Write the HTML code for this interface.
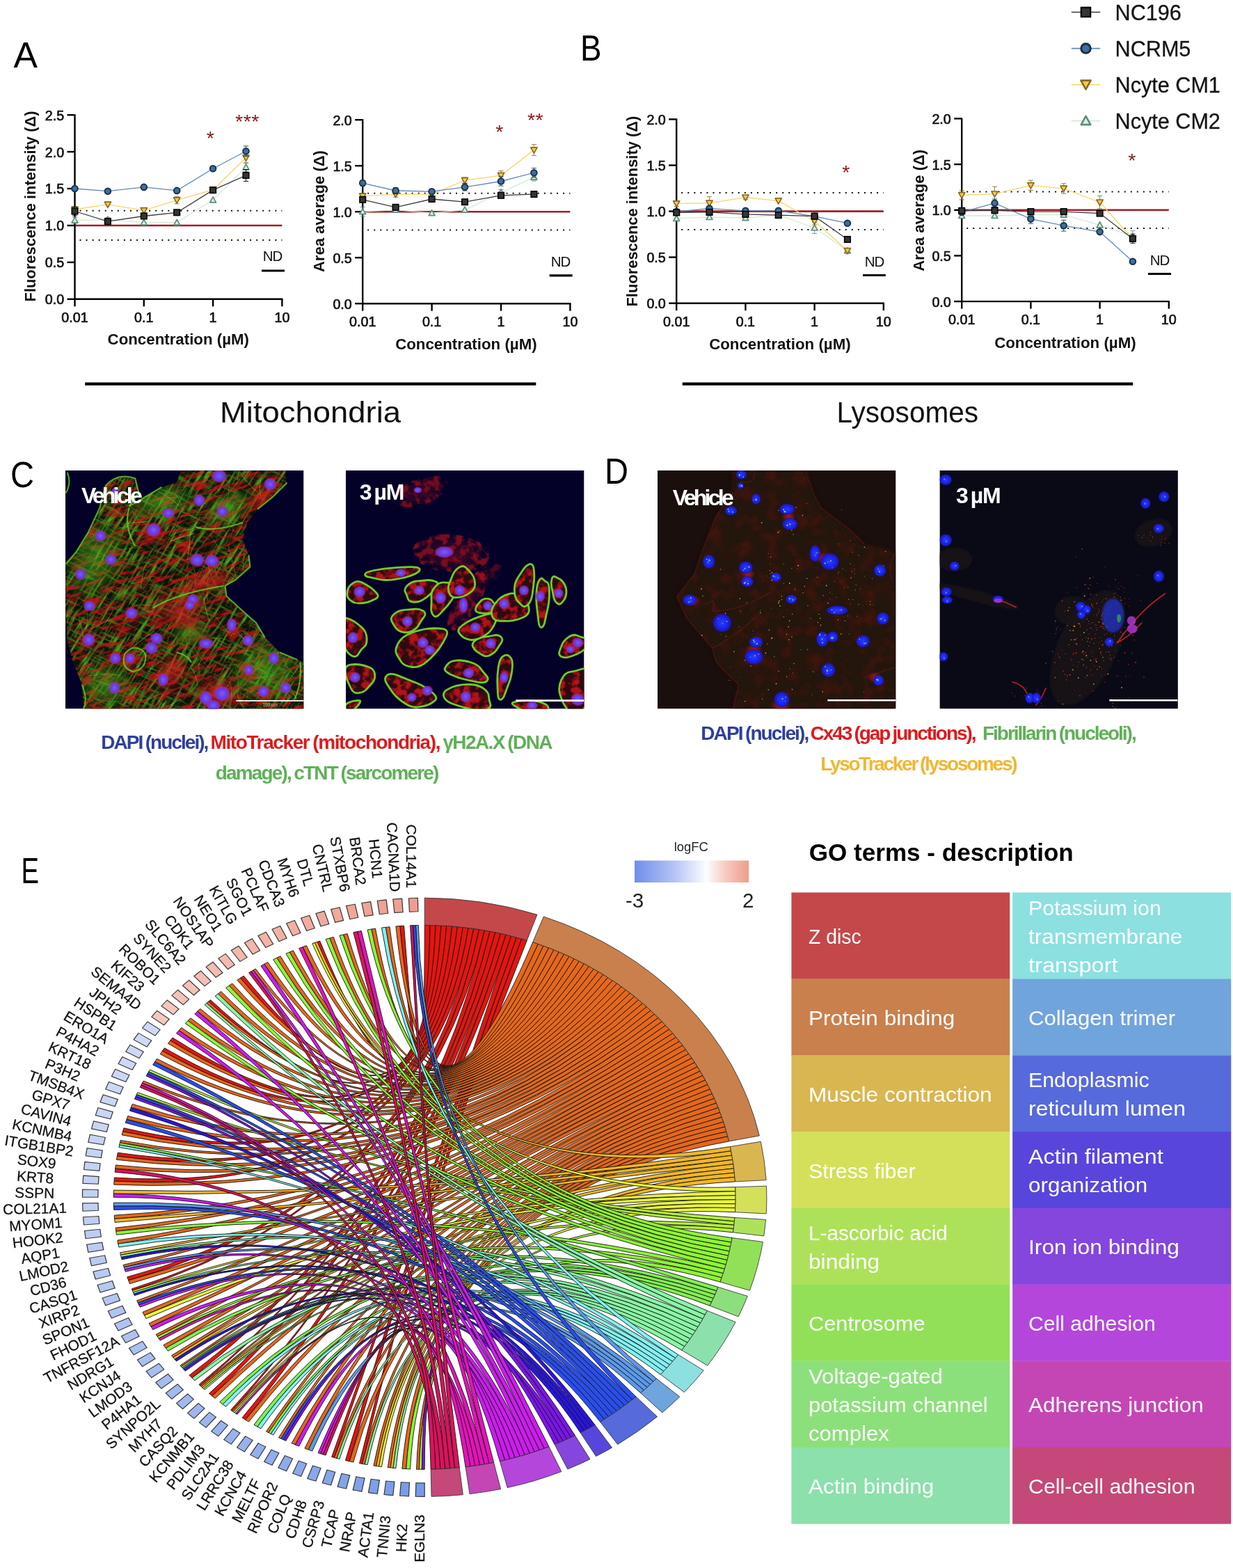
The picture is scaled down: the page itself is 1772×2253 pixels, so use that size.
<!DOCTYPE html>
<html lang="en"><head><meta charset="utf-8"><title>Figure</title>
<style>html,body{margin:0;padding:0;background:#fff}svg{display:block}text{white-space:pre}</style></head><body>
<svg width="1772" height="2253" viewBox="0 0 1772 2253" font-family="'Liberation Sans', sans-serif">
<rect width="1772" height="2253" fill="#fff"/>
<g>
<line x1="114.5" y1="302.8" x2="405.4" y2="302.8" stroke="#111" stroke-width="2" stroke-dasharray="2 7.06"/>
<line x1="114.5" y1="345.1" x2="405.4" y2="345.1" stroke="#111" stroke-width="2" stroke-dasharray="2 7.06"/>
<line x1="107.5" y1="324" x2="405.4" y2="324" stroke="#a31c22" stroke-width="2.6"/>
<path d="M107.5 164.2V429.8H406.4" fill="none" stroke="#000" stroke-width="2.4"/>
<line x1="96.5" y1="429.8" x2="107.5" y2="429.8" stroke="#000" stroke-width="2.4"/>
<text x="92.1" y="437.2" text-anchor="end" font-size="19.7" fill="#111" stroke="#111" stroke-width="0.65">0.0</text>
<line x1="96.5" y1="376.9" x2="107.5" y2="376.9" stroke="#000" stroke-width="2.4"/>
<text x="92.1" y="384.3" text-anchor="end" font-size="19.7" fill="#111" stroke="#111" stroke-width="0.65">0.5</text>
<line x1="96.5" y1="324" x2="107.5" y2="324" stroke="#000" stroke-width="2.4"/>
<text x="92.1" y="331.4" text-anchor="end" font-size="19.7" fill="#111" stroke="#111" stroke-width="0.65">1.0</text>
<line x1="96.5" y1="271" x2="107.5" y2="271" stroke="#000" stroke-width="2.4"/>
<text x="92.1" y="278.4" text-anchor="end" font-size="19.7" fill="#111" stroke="#111" stroke-width="0.65">1.5</text>
<line x1="96.5" y1="218.1" x2="107.5" y2="218.1" stroke="#000" stroke-width="2.4"/>
<text x="92.1" y="225.5" text-anchor="end" font-size="19.7" fill="#111" stroke="#111" stroke-width="0.65">2.0</text>
<line x1="96.5" y1="165.2" x2="107.5" y2="165.2" stroke="#000" stroke-width="2.4"/>
<text x="92.1" y="172.6" text-anchor="end" font-size="19.7" fill="#111" stroke="#111" stroke-width="0.65">2.5</text>
<line x1="107.5" y1="429.8" x2="107.5" y2="440.3" stroke="#000" stroke-width="2.4"/>
<text x="107.5" y="462.8" text-anchor="middle" font-size="19.7" fill="#111" stroke="#111" stroke-width="0.65">0.01</text>
<line x1="206.8" y1="429.8" x2="206.8" y2="440.3" stroke="#000" stroke-width="2.4"/>
<text x="206.8" y="462.8" text-anchor="middle" font-size="19.7" fill="#111" stroke="#111" stroke-width="0.65">0.1</text>
<line x1="306.1" y1="429.8" x2="306.1" y2="440.3" stroke="#000" stroke-width="2.4"/>
<text x="306.1" y="462.8" text-anchor="middle" font-size="19.7" fill="#111" stroke="#111" stroke-width="0.65">1</text>
<line x1="405.4" y1="429.8" x2="405.4" y2="440.3" stroke="#000" stroke-width="2.4"/>
<text x="405.4" y="462.8" text-anchor="middle" font-size="19.7" fill="#111" stroke="#111" stroke-width="0.65">10</text>
<polyline points="107.5,316.6 154.9,315.5 206.8,319.7 254.2,319.7 306.1,287.3 353.5,240.3" fill="none" stroke="#d3e9d6" stroke-width="1.3"/>
<path d="M107.5 312.3V320.8M103.9 312.3H111.1M103.9 320.8H111.1" stroke="#5f8d7c" stroke-width="1" fill="none" opacity="0.85"/>
<path d="M154.9 312.3V318.7M151.3 312.3H158.5M151.3 318.7H158.5" stroke="#5f8d7c" stroke-width="1" fill="none" opacity="0.85"/>
<path d="M353.5 234V246.7M349.9 234H357.1M349.9 246.7H357.1" stroke="#5f8d7c" stroke-width="1" fill="none" opacity="0.85"/>
<path d="M103.1 320.1L111.9 320.1L107.5 312.2Z" fill="#dcefe3" stroke="#5f8d7c" stroke-width="1.7" stroke-linejoin="round"/>
<path d="M150.5 319L159.3 319L154.9 311.1Z" fill="#dcefe3" stroke="#5f8d7c" stroke-width="1.7" stroke-linejoin="round"/>
<path d="M202.4 323.2L211.2 323.2L206.8 315.3Z" fill="#dcefe3" stroke="#5f8d7c" stroke-width="1.7" stroke-linejoin="round"/>
<path d="M249.8 323.2L258.6 323.2L254.2 315.3Z" fill="#dcefe3" stroke="#5f8d7c" stroke-width="1.7" stroke-linejoin="round"/>
<path d="M301.7 290.9L310.5 290.9L306.1 282.9Z" fill="#dcefe3" stroke="#5f8d7c" stroke-width="1.7" stroke-linejoin="round"/>
<path d="M349.1 243.9L357.9 243.9L353.5 235.9Z" fill="#dcefe3" stroke="#5f8d7c" stroke-width="1.7" stroke-linejoin="round"/>
<polyline points="107.5,301 154.9,293.8 206.8,302.3 254.2,287.6 306.1,272.6 353.5,226.8" fill="none" stroke="#f6d566" stroke-width="1.3"/>
<path d="M206.8 299.1V305.4M203.2 299.1H210.4M203.2 305.4H210.4" stroke="#8a6a22" stroke-width="1" fill="none" opacity="0.85"/>
<path d="M254.2 282.3V292.8M250.6 282.3H257.8M250.6 292.8H257.8" stroke="#8a6a22" stroke-width="1" fill="none" opacity="0.85"/>
<path d="M353.5 219.4V234.2M349.9 219.4H357.1M349.9 234.2H357.1" stroke="#8a6a22" stroke-width="1" fill="none" opacity="0.85"/>
<path d="M102.9 297.3L112.1 297.3L107.5 305.6Z" fill="#f3cc4f" stroke="#8a6a22" stroke-width="1.7" stroke-linejoin="round"/>
<path d="M150.3 290.1L159.5 290.1L154.9 298.4Z" fill="#f3cc4f" stroke="#8a6a22" stroke-width="1.7" stroke-linejoin="round"/>
<path d="M202.2 298.6L211.4 298.6L206.8 306.9Z" fill="#f3cc4f" stroke="#8a6a22" stroke-width="1.7" stroke-linejoin="round"/>
<path d="M249.6 283.9L258.8 283.9L254.2 292.2Z" fill="#f3cc4f" stroke="#8a6a22" stroke-width="1.7" stroke-linejoin="round"/>
<path d="M301.5 268.9L310.7 268.9L306.1 277.2Z" fill="#f3cc4f" stroke="#8a6a22" stroke-width="1.7" stroke-linejoin="round"/>
<path d="M348.9 223.1L358.1 223.1L353.5 231.4Z" fill="#f3cc4f" stroke="#8a6a22" stroke-width="1.7" stroke-linejoin="round"/>
<polyline points="107.5,271 154.9,274.7 206.8,268.9 254.2,273.9 306.1,242.3 353.5,217.3" fill="none" stroke="#5f88b8" stroke-width="1.3"/>
<path d="M353.5 209.9V224.7M349.9 209.9H357.1M349.9 224.7H357.1" stroke="#1c3247" stroke-width="1" fill="none" opacity="0.85"/>
<circle cx="107.5" cy="271" r="4.3" fill="#3f6ea3" stroke="#1c3247" stroke-width="2"/>
<circle cx="154.9" cy="274.7" r="4.3" fill="#3f6ea3" stroke="#1c3247" stroke-width="2"/>
<circle cx="206.8" cy="268.9" r="4.3" fill="#3f6ea3" stroke="#1c3247" stroke-width="2"/>
<circle cx="254.2" cy="273.9" r="4.3" fill="#3f6ea3" stroke="#1c3247" stroke-width="2"/>
<circle cx="306.1" cy="242.3" r="4.3" fill="#3f6ea3" stroke="#1c3247" stroke-width="2"/>
<circle cx="353.5" cy="217.3" r="4.3" fill="#3f6ea3" stroke="#1c3247" stroke-width="2"/>
<polyline points="107.5,303.5 154.9,318.2 206.8,310.5 254.2,305.3 306.1,273.2 353.5,252" fill="none" stroke="#3a3a3a" stroke-width="1.3"/>
<path d="M107.5 297.2V309.9M103.9 297.2H111.1M103.9 309.9H111.1" stroke="#000" stroke-width="1" fill="none" opacity="0.85"/>
<path d="M353.5 243.5V260.5M349.9 243.5H357.1M349.9 260.5H357.1" stroke="#000" stroke-width="1" fill="none" opacity="0.85"/>
<rect x="103.2" y="299.2" width="8.6" height="8.6" fill="#353535" stroke="#000" stroke-width="1.5"/>
<rect x="150.6" y="313.9" width="8.6" height="8.6" fill="#353535" stroke="#000" stroke-width="1.5"/>
<rect x="202.5" y="306.2" width="8.6" height="8.6" fill="#353535" stroke="#000" stroke-width="1.5"/>
<rect x="249.9" y="301" width="8.6" height="8.6" fill="#353535" stroke="#000" stroke-width="1.5"/>
<rect x="301.8" y="268.9" width="8.6" height="8.6" fill="#353535" stroke="#000" stroke-width="1.5"/>
<rect x="349.2" y="247.7" width="8.6" height="8.6" fill="#353535" stroke="#000" stroke-width="1.5"/>
<text x="256.3" y="494.5" text-anchor="middle" font-size="22" font-weight="bold" fill="#111" textLength="203.5" lengthAdjust="spacingAndGlyphs">Concentration (µM)</text>
<text transform="translate(50.6 296.5) rotate(-90)" text-anchor="middle" font-size="22" font-weight="bold" fill="#111" textLength="274" lengthAdjust="spacingAndGlyphs">Fluorescence intensity (Δ)</text>
<text x="391.6" y="375.3" text-anchor="middle" font-size="20.5" fill="#111" letter-spacing="-1">ND</text>
<line x1="376" y1="389" x2="409" y2="389" stroke="#000" stroke-width="3.2"/>
<text x="355.5" y="183.6" text-anchor="middle" font-size="28.5" fill="#8c1a1c" letter-spacing="0.6">***</text>
<text x="302.7" y="208" text-anchor="middle" font-size="28.5" fill="#8c1a1c" letter-spacing="0.6">*</text>
</g>
<g>
<line x1="528.2" y1="277.8" x2="819.4" y2="277.8" stroke="#111" stroke-width="2" stroke-dasharray="2 7.06"/>
<line x1="528.2" y1="330.6" x2="819.4" y2="330.6" stroke="#111" stroke-width="2" stroke-dasharray="2 7.06"/>
<line x1="521.2" y1="304.2" x2="819.4" y2="304.2" stroke="#a31c22" stroke-width="2.6"/>
<path d="M521.2 171.2V436.2H820.4" fill="none" stroke="#000" stroke-width="2.4"/>
<line x1="510.2" y1="436.2" x2="521.2" y2="436.2" stroke="#000" stroke-width="2.4"/>
<text x="505.8" y="443.6" text-anchor="end" font-size="19.7" fill="#111" stroke="#111" stroke-width="0.65">0.0</text>
<line x1="510.2" y1="370.2" x2="521.2" y2="370.2" stroke="#000" stroke-width="2.4"/>
<text x="505.8" y="377.6" text-anchor="end" font-size="19.7" fill="#111" stroke="#111" stroke-width="0.65">0.5</text>
<line x1="510.2" y1="304.2" x2="521.2" y2="304.2" stroke="#000" stroke-width="2.4"/>
<text x="505.8" y="311.6" text-anchor="end" font-size="19.7" fill="#111" stroke="#111" stroke-width="0.65">1.0</text>
<line x1="510.2" y1="238.2" x2="521.2" y2="238.2" stroke="#000" stroke-width="2.4"/>
<text x="505.8" y="245.6" text-anchor="end" font-size="19.7" fill="#111" stroke="#111" stroke-width="0.65">1.5</text>
<line x1="510.2" y1="172.2" x2="521.2" y2="172.2" stroke="#000" stroke-width="2.4"/>
<text x="505.8" y="179.6" text-anchor="end" font-size="19.7" fill="#111" stroke="#111" stroke-width="0.65">2.0</text>
<line x1="521.2" y1="436.2" x2="521.2" y2="446.7" stroke="#000" stroke-width="2.4"/>
<text x="521.2" y="469.2" text-anchor="middle" font-size="19.7" fill="#111" stroke="#111" stroke-width="0.65">0.01</text>
<line x1="620.6" y1="436.2" x2="620.6" y2="446.7" stroke="#000" stroke-width="2.4"/>
<text x="620.6" y="469.2" text-anchor="middle" font-size="19.7" fill="#111" stroke="#111" stroke-width="0.65">0.1</text>
<line x1="720" y1="436.2" x2="720" y2="446.7" stroke="#000" stroke-width="2.4"/>
<text x="720" y="469.2" text-anchor="middle" font-size="19.7" fill="#111" stroke="#111" stroke-width="0.65">1</text>
<line x1="819.4" y1="436.2" x2="819.4" y2="446.7" stroke="#000" stroke-width="2.4"/>
<text x="819.4" y="469.2" text-anchor="middle" font-size="19.7" fill="#111" stroke="#111" stroke-width="0.65">10</text>
<polyline points="521.2,304.2 568.6,301.6 620.6,306.2 668,301.6 720,276.5 767.4,254.7" fill="none" stroke="#d3e9d6" stroke-width="1.3"/>
<path d="M521.2 297.6V310.8M517.6 297.6H524.8M517.6 310.8H524.8" stroke="#5f8d7c" stroke-width="1" fill="none" opacity="0.85"/>
<path d="M720 272.5V280.4M716.4 272.5H723.6M716.4 280.4H723.6" stroke="#5f8d7c" stroke-width="1" fill="none" opacity="0.85"/>
<path d="M767.4 249.4V260M763.8 249.4H771M763.8 260H771" stroke="#5f8d7c" stroke-width="1" fill="none" opacity="0.85"/>
<path d="M516.8 307.7L525.6 307.7L521.2 299.8Z" fill="#dcefe3" stroke="#5f8d7c" stroke-width="1.7" stroke-linejoin="round"/>
<path d="M564.2 305.1L573 305.1L568.6 297.2Z" fill="#dcefe3" stroke="#5f8d7c" stroke-width="1.7" stroke-linejoin="round"/>
<path d="M616.2 309.7L625 309.7L620.6 301.8Z" fill="#dcefe3" stroke="#5f8d7c" stroke-width="1.7" stroke-linejoin="round"/>
<path d="M663.6 305.1L672.4 305.1L668 297.2Z" fill="#dcefe3" stroke="#5f8d7c" stroke-width="1.7" stroke-linejoin="round"/>
<path d="M715.6 280L724.4 280L720 272.1Z" fill="#dcefe3" stroke="#5f8d7c" stroke-width="1.7" stroke-linejoin="round"/>
<path d="M763 258.2L771.8 258.2L767.4 250.3Z" fill="#dcefe3" stroke="#5f8d7c" stroke-width="1.7" stroke-linejoin="round"/>
<polyline points="521.2,281.8 568.6,279.1 620.6,279.1 668,259.1 720,252.1 767.4,215.5" fill="none" stroke="#f6d566" stroke-width="1.3"/>
<path d="M521.2 277.8V285.7M517.6 277.8H524.8M517.6 285.7H524.8" stroke="#8a6a22" stroke-width="1" fill="none" opacity="0.85"/>
<path d="M568.6 275.2V283.1M565 275.2H572.2M565 283.1H572.2" stroke="#8a6a22" stroke-width="1" fill="none" opacity="0.85"/>
<path d="M668 255.1V263M664.4 255.1H671.6M664.4 263H671.6" stroke="#8a6a22" stroke-width="1" fill="none" opacity="0.85"/>
<path d="M720 245.5V258.7M716.4 245.5H723.6M716.4 258.7H723.6" stroke="#8a6a22" stroke-width="1" fill="none" opacity="0.85"/>
<path d="M767.4 207.6V223.4M763.8 207.6H771M763.8 223.4H771" stroke="#8a6a22" stroke-width="1" fill="none" opacity="0.85"/>
<path d="M516.6 278.1L525.8 278.1L521.2 286.4Z" fill="#f3cc4f" stroke="#8a6a22" stroke-width="1.7" stroke-linejoin="round"/>
<path d="M564 275.4L573.2 275.4L568.6 283.7Z" fill="#f3cc4f" stroke="#8a6a22" stroke-width="1.7" stroke-linejoin="round"/>
<path d="M616 275.4L625.2 275.4L620.6 283.7Z" fill="#f3cc4f" stroke="#8a6a22" stroke-width="1.7" stroke-linejoin="round"/>
<path d="M663.4 255.4L672.6 255.4L668 263.7Z" fill="#f3cc4f" stroke="#8a6a22" stroke-width="1.7" stroke-linejoin="round"/>
<path d="M715.4 248.4L724.6 248.4L720 256.7Z" fill="#f3cc4f" stroke="#8a6a22" stroke-width="1.7" stroke-linejoin="round"/>
<path d="M762.8 211.8L772 211.8L767.4 220.1Z" fill="#f3cc4f" stroke="#8a6a22" stroke-width="1.7" stroke-linejoin="round"/>
<polyline points="521.2,263.1 568.6,274 620.6,275.2 668,268.8 720,260.5 767.4,248.2" fill="none" stroke="#5f88b8" stroke-width="1.3"/>
<path d="M521.2 259.2V267.1M517.6 259.2H524.8M517.6 267.1H524.8" stroke="#1c3247" stroke-width="1" fill="none" opacity="0.85"/>
<path d="M568.6 269.4V278.6M565 269.4H572.2M565 278.6H572.2" stroke="#1c3247" stroke-width="1" fill="none" opacity="0.85"/>
<path d="M620.6 272.5V277.8M617 272.5H624.2M617 277.8H624.2" stroke="#1c3247" stroke-width="1" fill="none" opacity="0.85"/>
<path d="M668 263.5V274.1M664.4 263.5H671.6M664.4 274.1H671.6" stroke="#1c3247" stroke-width="1" fill="none" opacity="0.85"/>
<path d="M720 253.9V267.1M716.4 253.9H723.6M716.4 267.1H723.6" stroke="#1c3247" stroke-width="1" fill="none" opacity="0.85"/>
<path d="M767.4 241.6V254.8M763.8 241.6H771M763.8 254.8H771" stroke="#1c3247" stroke-width="1" fill="none" opacity="0.85"/>
<circle cx="521.2" cy="263.1" r="4.3" fill="#3f6ea3" stroke="#1c3247" stroke-width="2"/>
<circle cx="568.6" cy="274" r="4.3" fill="#3f6ea3" stroke="#1c3247" stroke-width="2"/>
<circle cx="620.6" cy="275.2" r="4.3" fill="#3f6ea3" stroke="#1c3247" stroke-width="2"/>
<circle cx="668" cy="268.8" r="4.3" fill="#3f6ea3" stroke="#1c3247" stroke-width="2"/>
<circle cx="720" cy="260.5" r="4.3" fill="#3f6ea3" stroke="#1c3247" stroke-width="2"/>
<circle cx="767.4" cy="248.2" r="4.3" fill="#3f6ea3" stroke="#1c3247" stroke-width="2"/>
<polyline points="521.2,286.8 568.6,297.9 620.6,286 668,290.2 720,280.8 767.4,279.1" fill="none" stroke="#3a3a3a" stroke-width="1.3"/>
<rect x="516.9" y="282.5" width="8.6" height="8.6" fill="#353535" stroke="#000" stroke-width="1.5"/>
<rect x="564.3" y="293.6" width="8.6" height="8.6" fill="#353535" stroke="#000" stroke-width="1.5"/>
<rect x="616.3" y="281.7" width="8.6" height="8.6" fill="#353535" stroke="#000" stroke-width="1.5"/>
<rect x="663.7" y="285.9" width="8.6" height="8.6" fill="#353535" stroke="#000" stroke-width="1.5"/>
<rect x="715.7" y="276.5" width="8.6" height="8.6" fill="#353535" stroke="#000" stroke-width="1.5"/>
<rect x="763.1" y="274.8" width="8.6" height="8.6" fill="#353535" stroke="#000" stroke-width="1.5"/>
<text x="669.9" y="502" text-anchor="middle" font-size="22" font-weight="bold" fill="#111" textLength="203.5" lengthAdjust="spacingAndGlyphs">Concentration (µM)</text>
<text transform="translate(466 303.6) rotate(-90)" text-anchor="middle" font-size="22" font-weight="bold" fill="#111" textLength="175" lengthAdjust="spacingAndGlyphs">Area average (Δ)</text>
<text x="805.6" y="383" text-anchor="middle" font-size="20.5" fill="#111" letter-spacing="-1">ND</text>
<line x1="789.7" y1="395.8" x2="822.6" y2="395.8" stroke="#000" stroke-width="3.2"/>
<text x="769.6" y="181.5" text-anchor="middle" font-size="28.5" fill="#8c1a1c" letter-spacing="0.6">**</text>
<text x="718" y="199" text-anchor="middle" font-size="28.5" fill="#8c1a1c" letter-spacing="0.6">*</text>
</g>
<g>
<line x1="979.2" y1="277.1" x2="1269.8" y2="277.1" stroke="#111" stroke-width="2" stroke-dasharray="2 7.06"/>
<line x1="979.2" y1="330" x2="1269.8" y2="330" stroke="#111" stroke-width="2" stroke-dasharray="2 7.06"/>
<line x1="972.2" y1="303.6" x2="1269.8" y2="303.6" stroke="#a31c22" stroke-width="2.6"/>
<path d="M972.2 170.4V435.7H1270.8" fill="none" stroke="#000" stroke-width="2.4"/>
<line x1="961.2" y1="435.7" x2="972.2" y2="435.7" stroke="#000" stroke-width="2.4"/>
<text x="956.8" y="443.1" text-anchor="end" font-size="19.7" fill="#111" stroke="#111" stroke-width="0.65">0.0</text>
<line x1="961.2" y1="369.6" x2="972.2" y2="369.6" stroke="#000" stroke-width="2.4"/>
<text x="956.8" y="377" text-anchor="end" font-size="19.7" fill="#111" stroke="#111" stroke-width="0.65">0.5</text>
<line x1="961.2" y1="303.6" x2="972.2" y2="303.6" stroke="#000" stroke-width="2.4"/>
<text x="956.8" y="310.9" text-anchor="end" font-size="19.7" fill="#111" stroke="#111" stroke-width="0.65">1.0</text>
<line x1="961.2" y1="237.5" x2="972.2" y2="237.5" stroke="#000" stroke-width="2.4"/>
<text x="956.8" y="244.9" text-anchor="end" font-size="19.7" fill="#111" stroke="#111" stroke-width="0.65">1.5</text>
<line x1="961.2" y1="171.4" x2="972.2" y2="171.4" stroke="#000" stroke-width="2.4"/>
<text x="956.8" y="178.8" text-anchor="end" font-size="19.7" fill="#111" stroke="#111" stroke-width="0.65">2.0</text>
<line x1="972.2" y1="435.7" x2="972.2" y2="446.2" stroke="#000" stroke-width="2.4"/>
<text x="972.2" y="468.7" text-anchor="middle" font-size="19.7" fill="#111" stroke="#111" stroke-width="0.65">0.01</text>
<line x1="1071.4" y1="435.7" x2="1071.4" y2="446.2" stroke="#000" stroke-width="2.4"/>
<text x="1071.4" y="468.7" text-anchor="middle" font-size="19.7" fill="#111" stroke="#111" stroke-width="0.65">0.1</text>
<line x1="1170.6" y1="435.7" x2="1170.6" y2="446.2" stroke="#000" stroke-width="2.4"/>
<text x="1170.6" y="468.7" text-anchor="middle" font-size="19.7" fill="#111" stroke="#111" stroke-width="0.65">1</text>
<line x1="1269.8" y1="435.7" x2="1269.8" y2="446.2" stroke="#000" stroke-width="2.4"/>
<text x="1269.8" y="468.7" text-anchor="middle" font-size="19.7" fill="#111" stroke="#111" stroke-width="0.65">10</text>
<polyline points="972.2,313.9 1019.5,312 1071.4,313.1 1118.7,308.8 1170.6,327.5 1217.9,360.2" fill="none" stroke="#d3e9d6" stroke-width="1.3"/>
<path d="M1170.6 319.5V335.4M1167 319.5H1174.2M1167 335.4H1174.2" stroke="#5f8d7c" stroke-width="1" fill="none" opacity="0.85"/>
<path d="M967.8 317.4L976.6 317.4L972.2 309.5Z" fill="#dcefe3" stroke="#5f8d7c" stroke-width="1.7" stroke-linejoin="round"/>
<path d="M1015.1 315.5L1023.9 315.5L1019.5 307.6Z" fill="#dcefe3" stroke="#5f8d7c" stroke-width="1.7" stroke-linejoin="round"/>
<path d="M1067 316.6L1075.8 316.6L1071.4 308.7Z" fill="#dcefe3" stroke="#5f8d7c" stroke-width="1.7" stroke-linejoin="round"/>
<path d="M1114.3 312.4L1123.1 312.4L1118.7 304.4Z" fill="#dcefe3" stroke="#5f8d7c" stroke-width="1.7" stroke-linejoin="round"/>
<path d="M1166.2 331L1175 331L1170.6 323.1Z" fill="#dcefe3" stroke="#5f8d7c" stroke-width="1.7" stroke-linejoin="round"/>
<path d="M1213.5 363.8L1222.3 363.8L1217.9 355.8Z" fill="#dcefe3" stroke="#5f8d7c" stroke-width="1.7" stroke-linejoin="round"/>
<polyline points="972.2,292.4 1019.5,291.9 1071.4,283.7 1118.7,288.6 1170.6,317.7 1217.9,360.2" fill="none" stroke="#f6d566" stroke-width="1.3"/>
<path d="M972.2 288.5V296.4M968.6 288.5H975.8M968.6 296.4H975.8" stroke="#8a6a22" stroke-width="1" fill="none" opacity="0.85"/>
<path d="M1019.5 282.7V301.2M1015.9 282.7H1023.1M1015.9 301.2H1023.1" stroke="#8a6a22" stroke-width="1" fill="none" opacity="0.85"/>
<path d="M1071.4 281.1V286.4M1067.8 281.1H1075M1067.8 286.4H1075" stroke="#8a6a22" stroke-width="1" fill="none" opacity="0.85"/>
<path d="M1170.6 312.4V323M1167 312.4H1174.2M1167 323H1174.2" stroke="#8a6a22" stroke-width="1" fill="none" opacity="0.85"/>
<path d="M967.6 288.8L976.8 288.8L972.2 297Z" fill="#f3cc4f" stroke="#8a6a22" stroke-width="1.7" stroke-linejoin="round"/>
<path d="M1014.9 288.2L1024.1 288.2L1019.5 296.5Z" fill="#f3cc4f" stroke="#8a6a22" stroke-width="1.7" stroke-linejoin="round"/>
<path d="M1066.8 280L1076 280L1071.4 288.3Z" fill="#f3cc4f" stroke="#8a6a22" stroke-width="1.7" stroke-linejoin="round"/>
<path d="M1114.1 284.9L1123.3 284.9L1118.7 293.2Z" fill="#f3cc4f" stroke="#8a6a22" stroke-width="1.7" stroke-linejoin="round"/>
<path d="M1166 314L1175.2 314L1170.6 322.3Z" fill="#f3cc4f" stroke="#8a6a22" stroke-width="1.7" stroke-linejoin="round"/>
<path d="M1213.3 356.6L1222.5 356.6L1217.9 364.8Z" fill="#f3cc4f" stroke="#8a6a22" stroke-width="1.7" stroke-linejoin="round"/>
<polyline points="972.2,304.1 1019.5,299.6 1071.4,302.8 1118.7,302.8 1170.6,310.8 1217.9,320.7" fill="none" stroke="#5f88b8" stroke-width="1.3"/>
<circle cx="972.2" cy="304.1" r="4.3" fill="#3f6ea3" stroke="#1c3247" stroke-width="2"/>
<circle cx="1019.5" cy="299.6" r="4.3" fill="#3f6ea3" stroke="#1c3247" stroke-width="2"/>
<circle cx="1071.4" cy="302.8" r="4.3" fill="#3f6ea3" stroke="#1c3247" stroke-width="2"/>
<circle cx="1118.7" cy="302.8" r="4.3" fill="#3f6ea3" stroke="#1c3247" stroke-width="2"/>
<circle cx="1170.6" cy="310.8" r="4.3" fill="#3f6ea3" stroke="#1c3247" stroke-width="2"/>
<circle cx="1217.9" cy="320.7" r="4.3" fill="#3f6ea3" stroke="#1c3247" stroke-width="2"/>
<polyline points="972.2,305.4 1019.5,304.9 1071.4,307.9 1118.7,309.2 1170.6,310.6 1217.9,344" fill="none" stroke="#3a3a3a" stroke-width="1.3"/>
<rect x="967.9" y="301.1" width="8.6" height="8.6" fill="#353535" stroke="#000" stroke-width="1.5"/>
<rect x="1015.2" y="300.6" width="8.6" height="8.6" fill="#353535" stroke="#000" stroke-width="1.5"/>
<rect x="1067.1" y="303.6" width="8.6" height="8.6" fill="#353535" stroke="#000" stroke-width="1.5"/>
<rect x="1114.4" y="304.9" width="8.6" height="8.6" fill="#353535" stroke="#000" stroke-width="1.5"/>
<rect x="1166.3" y="306.3" width="8.6" height="8.6" fill="#353535" stroke="#000" stroke-width="1.5"/>
<rect x="1213.6" y="339.7" width="8.6" height="8.6" fill="#353535" stroke="#000" stroke-width="1.5"/>
<text x="1120.9" y="502" text-anchor="middle" font-size="22" font-weight="bold" fill="#111" textLength="203.5" lengthAdjust="spacingAndGlyphs">Concentration (µM)</text>
<text transform="translate(916 303.6) rotate(-90)" text-anchor="middle" font-size="22" font-weight="bold" fill="#111" textLength="274" lengthAdjust="spacingAndGlyphs">Fluorescence intensity (Δ)</text>
<text x="1256.6" y="383" text-anchor="middle" font-size="20.5" fill="#111" letter-spacing="-1">ND</text>
<line x1="1240" y1="395.5" x2="1272.8" y2="395.5" stroke="#000" stroke-width="3.2"/>
<text x="1216.2" y="257" text-anchor="middle" font-size="28.5" fill="#8c1a1c" letter-spacing="0.6">*</text>
</g>
<g>
<line x1="1389.2" y1="275.5" x2="1679.8" y2="275.5" stroke="#111" stroke-width="2" stroke-dasharray="2 7.06"/>
<line x1="1389.2" y1="328" x2="1679.8" y2="328" stroke="#111" stroke-width="2" stroke-dasharray="2 7.06"/>
<line x1="1382.2" y1="301.8" x2="1679.8" y2="301.8" stroke="#a31c22" stroke-width="2.6"/>
<path d="M1382.2 169.4V433.1H1680.8" fill="none" stroke="#000" stroke-width="2.4"/>
<line x1="1371.2" y1="433.1" x2="1382.2" y2="433.1" stroke="#000" stroke-width="2.4"/>
<text x="1366.8" y="440.5" text-anchor="end" font-size="19.7" fill="#111" stroke="#111" stroke-width="0.65">0.0</text>
<line x1="1371.2" y1="367.4" x2="1382.2" y2="367.4" stroke="#000" stroke-width="2.4"/>
<text x="1366.8" y="374.8" text-anchor="end" font-size="19.7" fill="#111" stroke="#111" stroke-width="0.65">0.5</text>
<line x1="1371.2" y1="301.8" x2="1382.2" y2="301.8" stroke="#000" stroke-width="2.4"/>
<text x="1366.8" y="309.1" text-anchor="end" font-size="19.7" fill="#111" stroke="#111" stroke-width="0.65">1.0</text>
<line x1="1371.2" y1="236.1" x2="1382.2" y2="236.1" stroke="#000" stroke-width="2.4"/>
<text x="1366.8" y="243.5" text-anchor="end" font-size="19.7" fill="#111" stroke="#111" stroke-width="0.65">1.5</text>
<line x1="1371.2" y1="170.4" x2="1382.2" y2="170.4" stroke="#000" stroke-width="2.4"/>
<text x="1366.8" y="177.8" text-anchor="end" font-size="19.7" fill="#111" stroke="#111" stroke-width="0.65">2.0</text>
<line x1="1382.2" y1="433.1" x2="1382.2" y2="443.6" stroke="#000" stroke-width="2.4"/>
<text x="1382.2" y="466.1" text-anchor="middle" font-size="19.7" fill="#111" stroke="#111" stroke-width="0.65">0.01</text>
<line x1="1481.4" y1="433.1" x2="1481.4" y2="443.6" stroke="#000" stroke-width="2.4"/>
<text x="1481.4" y="466.1" text-anchor="middle" font-size="19.7" fill="#111" stroke="#111" stroke-width="0.65">0.1</text>
<line x1="1580.6" y1="433.1" x2="1580.6" y2="443.6" stroke="#000" stroke-width="2.4"/>
<text x="1580.6" y="466.1" text-anchor="middle" font-size="19.7" fill="#111" stroke="#111" stroke-width="0.65">1</text>
<line x1="1679.8" y1="433.1" x2="1679.8" y2="443.6" stroke="#000" stroke-width="2.4"/>
<text x="1679.8" y="466.1" text-anchor="middle" font-size="19.7" fill="#111" stroke="#111" stroke-width="0.65">10</text>
<polyline points="1382.2,310 1429.5,310 1481.4,308.7 1528.7,308.7 1580.6,323.4 1627.9,339.6" fill="none" stroke="#d3e9d6" stroke-width="1.3"/>
<path d="M1627.9 331.7V347.5M1624.3 331.7H1631.5M1624.3 347.5H1631.5" stroke="#5f8d7c" stroke-width="1" fill="none" opacity="0.85"/>
<path d="M1377.8 313.5L1386.6 313.5L1382.2 305.6Z" fill="#dcefe3" stroke="#5f8d7c" stroke-width="1.7" stroke-linejoin="round"/>
<path d="M1425.1 313.5L1433.9 313.5L1429.5 305.6Z" fill="#dcefe3" stroke="#5f8d7c" stroke-width="1.7" stroke-linejoin="round"/>
<path d="M1477 312.2L1485.8 312.2L1481.4 304.3Z" fill="#dcefe3" stroke="#5f8d7c" stroke-width="1.7" stroke-linejoin="round"/>
<path d="M1524.3 312.2L1533.1 312.2L1528.7 304.3Z" fill="#dcefe3" stroke="#5f8d7c" stroke-width="1.7" stroke-linejoin="round"/>
<path d="M1576.2 326.9L1585 326.9L1580.6 319Z" fill="#dcefe3" stroke="#5f8d7c" stroke-width="1.7" stroke-linejoin="round"/>
<path d="M1623.5 343.1L1632.3 343.1L1627.9 335.2Z" fill="#dcefe3" stroke="#5f8d7c" stroke-width="1.7" stroke-linejoin="round"/>
<polyline points="1382.2,280.3 1429.5,278.6 1481.4,266.3 1528.7,270.9 1580.6,290.7 1627.9,343" fill="none" stroke="#f6d566" stroke-width="1.3"/>
<path d="M1382.2 273.8V286.9M1378.6 273.8H1385.8M1378.6 286.9H1385.8" stroke="#8a6a22" stroke-width="1" fill="none" opacity="0.85"/>
<path d="M1429.5 268.1V289.1M1425.9 268.1H1433.1M1425.9 289.1H1433.1" stroke="#8a6a22" stroke-width="1" fill="none" opacity="0.85"/>
<path d="M1481.4 259.1V273.5M1477.8 259.1H1485M1477.8 273.5H1485" stroke="#8a6a22" stroke-width="1" fill="none" opacity="0.85"/>
<path d="M1528.7 263.7V278.1M1525.1 263.7H1532.3M1525.1 278.1H1532.3" stroke="#8a6a22" stroke-width="1" fill="none" opacity="0.85"/>
<path d="M1580.6 281.5V299.9M1577 281.5H1584.2M1577 299.9H1584.2" stroke="#8a6a22" stroke-width="1" fill="none" opacity="0.85"/>
<path d="M1377.6 276.7L1386.8 276.7L1382.2 284.9Z" fill="#f3cc4f" stroke="#8a6a22" stroke-width="1.7" stroke-linejoin="round"/>
<path d="M1424.9 275L1434.1 275L1429.5 283.2Z" fill="#f3cc4f" stroke="#8a6a22" stroke-width="1.7" stroke-linejoin="round"/>
<path d="M1476.8 262.6L1486 262.6L1481.4 270.9Z" fill="#f3cc4f" stroke="#8a6a22" stroke-width="1.7" stroke-linejoin="round"/>
<path d="M1524.1 267.2L1533.3 267.2L1528.7 275.5Z" fill="#f3cc4f" stroke="#8a6a22" stroke-width="1.7" stroke-linejoin="round"/>
<path d="M1576 287L1585.2 287L1580.6 295.3Z" fill="#f3cc4f" stroke="#8a6a22" stroke-width="1.7" stroke-linejoin="round"/>
<path d="M1623.3 339.3L1632.5 339.3L1627.9 347.6Z" fill="#f3cc4f" stroke="#8a6a22" stroke-width="1.7" stroke-linejoin="round"/>
<polyline points="1382.2,304.9 1429.5,291.9 1481.4,314.6 1528.7,324.2 1580.6,333.1 1627.9,375.7" fill="none" stroke="#5f88b8" stroke-width="1.3"/>
<path d="M1429.5 286V297.8M1425.9 286H1433.1M1425.9 297.8H1433.1" stroke="#1c3247" stroke-width="1" fill="none" opacity="0.85"/>
<path d="M1481.4 308.1V321.2M1477.8 308.1H1485M1477.8 321.2H1485" stroke="#1c3247" stroke-width="1" fill="none" opacity="0.85"/>
<path d="M1528.7 316.3V332.1M1525.1 316.3H1532.3M1525.1 332.1H1532.3" stroke="#1c3247" stroke-width="1" fill="none" opacity="0.85"/>
<circle cx="1382.2" cy="304.9" r="4.3" fill="#3f6ea3" stroke="#1c3247" stroke-width="2"/>
<circle cx="1429.5" cy="291.9" r="4.3" fill="#3f6ea3" stroke="#1c3247" stroke-width="2"/>
<circle cx="1481.4" cy="314.6" r="4.3" fill="#3f6ea3" stroke="#1c3247" stroke-width="2"/>
<circle cx="1528.7" cy="324.2" r="4.3" fill="#3f6ea3" stroke="#1c3247" stroke-width="2"/>
<circle cx="1580.6" cy="333.1" r="4.3" fill="#3f6ea3" stroke="#1c3247" stroke-width="2"/>
<circle cx="1627.9" cy="375.7" r="4.3" fill="#3f6ea3" stroke="#1c3247" stroke-width="2"/>
<polyline points="1382.2,302.8 1429.5,302.3 1481.4,304.1 1528.7,304.1 1580.6,306.6 1627.9,343" fill="none" stroke="#3a3a3a" stroke-width="1.3"/>
<path d="M1627.9 336.4V349.6M1624.3 336.4H1631.5M1624.3 349.6H1631.5" stroke="#000" stroke-width="1" fill="none" opacity="0.85"/>
<rect x="1377.9" y="298.5" width="8.6" height="8.6" fill="#353535" stroke="#000" stroke-width="1.5"/>
<rect x="1425.2" y="298" width="8.6" height="8.6" fill="#353535" stroke="#000" stroke-width="1.5"/>
<rect x="1477.1" y="299.8" width="8.6" height="8.6" fill="#353535" stroke="#000" stroke-width="1.5"/>
<rect x="1524.4" y="299.8" width="8.6" height="8.6" fill="#353535" stroke="#000" stroke-width="1.5"/>
<rect x="1576.3" y="302.3" width="8.6" height="8.6" fill="#353535" stroke="#000" stroke-width="1.5"/>
<rect x="1623.6" y="338.7" width="8.6" height="8.6" fill="#353535" stroke="#000" stroke-width="1.5"/>
<text x="1530.9" y="499.5" text-anchor="middle" font-size="22" font-weight="bold" fill="#111" textLength="203.5" lengthAdjust="spacingAndGlyphs">Concentration (µM)</text>
<text transform="translate(1328 302.3) rotate(-90)" text-anchor="middle" font-size="22" font-weight="bold" fill="#111" textLength="175" lengthAdjust="spacingAndGlyphs">Area average (Δ)</text>
<text x="1666.6" y="381" text-anchor="middle" font-size="20.5" fill="#111" letter-spacing="-1">ND</text>
<line x1="1650" y1="393.5" x2="1683" y2="393.5" stroke="#000" stroke-width="3.2"/>
<text x="1627" y="239.5" text-anchor="middle" font-size="28.5" fill="#8c1a1c" letter-spacing="0.6">*</text>
</g>
<g>
<line x1="1539.8" y1="17.5" x2="1581.2" y2="17.5" stroke="#3a3a3a" stroke-width="1.6"/>
<rect x="1553.8" y="10.8" width="13.3" height="13.3" fill="#353535" stroke="#000" stroke-width="2.3"/>
<text x="1602.6" y="28.8" font-size="30.6" fill="#151515" stroke="#151515" stroke-width="0.3">NC196</text>
<line x1="1539.8" y1="69.6" x2="1581.2" y2="69.6" stroke="#5f88b8" stroke-width="1.6"/>
<circle cx="1560.5" cy="69.6" r="6.7" fill="#3f6ea3" stroke="#1c3247" stroke-width="3.1"/>
<text x="1602.6" y="80.9" font-size="30.6" fill="#151515" stroke="#151515" stroke-width="0.3">NCRM5</text>
<line x1="1539.8" y1="121.8" x2="1581.2" y2="121.8" stroke="#f6d566" stroke-width="1.6"/>
<path d="M1553.4 115.6L1567.6 115.6L1560.5 128.4Z" fill="#f3cc4f" stroke="#8a6a22" stroke-width="2.6" stroke-linejoin="round"/>
<text x="1602.6" y="133.1" font-size="30.6" fill="#151515" stroke="#151515" stroke-width="0.3">Ncyte CM1</text>
<line x1="1539.8" y1="173.6" x2="1581.2" y2="173.6" stroke="#d3e9d6" stroke-width="1.6"/>
<path d="M1553.7 179.1L1567.3 179.1L1560.5 166.8Z" fill="#dcefe3" stroke="#5f8d7c" stroke-width="2.6" stroke-linejoin="round"/>
<text x="1602.6" y="184.9" font-size="30.6" fill="#151515" stroke="#151515" stroke-width="0.3">Ncyte CM2</text>
</g>
<g font-size="51" fill="#000">
<text x="19.5" y="97.4" textLength="34.5" lengthAdjust="spacingAndGlyphs">A</text>
<text x="834" y="87.2" textLength="30.5" lengthAdjust="spacingAndGlyphs">B</text>
<text x="15" y="700.4" textLength="34" lengthAdjust="spacingAndGlyphs">C</text>
<text x="869" y="694.5" textLength="34" lengthAdjust="spacingAndGlyphs">D</text>
<text x="30.5" y="1268.6" textLength="25.5" lengthAdjust="spacingAndGlyphs">E</text>
</g>
<line x1="122.2" y1="551.6" x2="770.3" y2="551.6" stroke="#000" stroke-width="4.2"/>
<line x1="980.7" y1="551.6" x2="1628.2" y2="551.6" stroke="#000" stroke-width="4.2"/>
<text x="316" y="607.2" font-size="42.5" fill="#111" textLength="260" lengthAdjust="spacingAndGlyphs">Mitochondria</text>
<text x="1202.5" y="607.2" font-size="42.5" fill="#111" textLength="203.5" lengthAdjust="spacingAndGlyphs">Lysosomes</text>
<g font-size="28" font-weight="bold" stroke-width="0" word-spacing="-1.5">
<text x="145.3" y="1076.4" fill="#2e3f9e" stroke="#2e3f9e" textLength="155.1" lengthAdjust="spacing">DAPI (nuclei),</text>
<text x="302.5" y="1076.4" fill="#df1a1c" stroke="#df1a1c" textLength="331" lengthAdjust="spacing">MitoTracker (mitochondria),</text>
<text x="636.4" y="1076.4" fill="#5fb058" stroke="#5fb058" textLength="158.1" lengthAdjust="spacing">γH2A.X (DNA</text>
<text x="309.7" y="1119.8" fill="#5fb058" stroke="#5fb058" textLength="321.7" lengthAdjust="spacing">damage), cTNT (sarcomere)</text>
<text x="1007.2" y="1063.4" fill="#2e3f9e" stroke="#2e3f9e" textLength="156" lengthAdjust="spacing">DAPI (nuclei),</text>
<text x="1164.5" y="1063.4" fill="#df1a1c" stroke="#df1a1c" textLength="239" lengthAdjust="spacing">Cx43 (gap junctions),</text>
<text x="1412" y="1063.4" fill="#5fb058" stroke="#5fb058" textLength="221.7" lengthAdjust="spacing">Fibrillarin (nucleoli),</text>
<text x="1179.2" y="1107.3" fill="#f2b632" stroke="#f2b632" textLength="283.3" lengthAdjust="spacing">LysoTracker (lysosomes)</text>
</g>
<text x="1162.8" y="1236.8" font-size="35" font-weight="bold" fill="#000" textLength="380" lengthAdjust="spacingAndGlyphs">GO terms - description</text>
<rect x="1137.4" y="1282.4" width="313.8" height="124.4" fill="#c4484a"/>
<rect x="1455.1" y="1282.4" width="314.2" height="124.4" fill="#8ce0e0"/>
<rect x="1137.4" y="1406.5" width="313.8" height="110.2" fill="#c9804c"/>
<rect x="1455.1" y="1406.5" width="314.2" height="110.2" fill="#70a4dd"/>
<rect x="1137.4" y="1516.4" width="313.8" height="109.9" fill="#d9b650"/>
<rect x="1455.1" y="1516.4" width="314.2" height="109.9" fill="#566adc"/>
<rect x="1137.4" y="1626" width="313.8" height="110.2" fill="#d4e05a"/>
<rect x="1455.1" y="1626" width="314.2" height="110.2" fill="#5846dc"/>
<rect x="1137.4" y="1735.9" width="313.8" height="110" fill="#aee15a"/>
<rect x="1455.1" y="1735.9" width="314.2" height="110" fill="#8446dc"/>
<rect x="1137.4" y="1845.6" width="313.8" height="110" fill="#92e058"/>
<rect x="1455.1" y="1845.6" width="314.2" height="110" fill="#b446dc"/>
<rect x="1137.4" y="1955.3" width="313.8" height="124.7" fill="#8ce07b"/>
<rect x="1455.1" y="1955.3" width="314.2" height="124.7" fill="#c446b4"/>
<rect x="1137.4" y="2079.7" width="313.8" height="110" fill="#8ce0ab"/>
<rect x="1455.1" y="2079.7" width="314.2" height="110" fill="#c4487a"/>
<g font-size="30.4" fill="#fff">
<text x="1162" y="1356" textLength="75.6" lengthAdjust="spacingAndGlyphs">Z disc</text>
<text x="1478" y="1315" textLength="190.8" lengthAdjust="spacingAndGlyphs">Potassium ion</text>
<text x="1478" y="1356" textLength="221.4" lengthAdjust="spacingAndGlyphs">transmembrane</text>
<text x="1478" y="1397" textLength="128.6" lengthAdjust="spacingAndGlyphs">transport</text>
<text x="1162" y="1473" textLength="210.3" lengthAdjust="spacingAndGlyphs">Protein binding</text>
<text x="1478" y="1473" textLength="211" lengthAdjust="spacingAndGlyphs">Collagen trimer</text>
<text x="1162" y="1582.8" textLength="263.7" lengthAdjust="spacingAndGlyphs">Muscle contraction</text>
<text x="1478" y="1562.3" textLength="173.7" lengthAdjust="spacingAndGlyphs">Endoplasmic</text>
<text x="1478" y="1603.3" textLength="226" lengthAdjust="spacingAndGlyphs">reticulum lumen</text>
<text x="1162" y="1692.5" textLength="153.5" lengthAdjust="spacingAndGlyphs">Stress fiber</text>
<text x="1478" y="1672" textLength="193.8" lengthAdjust="spacingAndGlyphs">Actin filament</text>
<text x="1478" y="1713" textLength="171.1" lengthAdjust="spacingAndGlyphs">organization</text>
<text x="1162" y="1781.8" textLength="199.8" lengthAdjust="spacingAndGlyphs">L-ascorbic acid</text>
<text x="1162" y="1822.8" textLength="102.2" lengthAdjust="spacingAndGlyphs">binding</text>
<text x="1478" y="1802.3" textLength="217" lengthAdjust="spacingAndGlyphs">Iron ion binding</text>
<text x="1162" y="1912" textLength="167.6" lengthAdjust="spacingAndGlyphs">Centrosome</text>
<text x="1478" y="1912" textLength="182.7" lengthAdjust="spacingAndGlyphs">Cell adhesion</text>
<text x="1162" y="1988.1" textLength="192.8" lengthAdjust="spacingAndGlyphs">Voltage-gated</text>
<text x="1162" y="2029.1" textLength="257.7" lengthAdjust="spacingAndGlyphs">potassium channel</text>
<text x="1162" y="2070.1" textLength="115.8" lengthAdjust="spacingAndGlyphs">complex</text>
<text x="1478" y="2029.1" textLength="251.7" lengthAdjust="spacingAndGlyphs">Adherens junction</text>
<text x="1162" y="2146.2" textLength="180.2" lengthAdjust="spacingAndGlyphs">Actin binding</text>
<text x="1478" y="2146.2" textLength="239.6" lengthAdjust="spacingAndGlyphs">Cell-cell adhesion</text>
</g>
<defs>
<radialGradient id="nc"><stop offset="0" stop-color="#7a5cf8"/><stop offset="0.5" stop-color="#6240e8"/><stop offset="0.75" stop-color="#8a2cc8" stop-opacity="0.9"/><stop offset="1" stop-color="#d02040" stop-opacity="0"/></radialGradient>
<radialGradient id="nd"><stop offset="0" stop-color="#2a3cff"/><stop offset="0.6" stop-color="#1c22e8"/><stop offset="0.88" stop-color="#1a18c0" stop-opacity="0.9"/><stop offset="1" stop-color="#200a60" stop-opacity="0"/></radialGradient>
<radialGradient id="gh"><stop offset="0" stop-color="#4fc020" stop-opacity="0.55"/><stop offset="0.6" stop-color="#3fa018" stop-opacity="0.3"/><stop offset="1" stop-color="#2f8010" stop-opacity="0"/></radialGradient>
<radialGradient id="rh"><stop offset="0" stop-color="#e02020" stop-opacity="0.85"/><stop offset="0.6" stop-color="#c01818" stop-opacity="0.5"/><stop offset="1" stop-color="#a01010" stop-opacity="0"/></radialGradient>
<filter id="b1" x="-20%" y="-20%" width="140%" height="140%"><feGaussianBlur stdDeviation="0.7"/></filter>
<filter id="b2" x="-20%" y="-20%" width="140%" height="140%"><feGaussianBlur stdDeviation="1.6"/></filter>
<filter id="b4" x="-30%" y="-30%" width="160%" height="160%"><feGaussianBlur stdDeviation="4"/></filter>
<filter id="txG" x="0" y="0" width="100%" height="100%" color-interpolation-filters="sRGB"><feTurbulence type="fractalNoise" baseFrequency="0.025 0.22" numOctaves="3" seed="11"/><feColorMatrix type="matrix" values="0 0 0 0 0.3  0 0 0 0 0.62  0 0 0 0 0.12  0 3.6 0 0 -1.72"/></filter>
<filter id="txG2" x="0" y="0" width="100%" height="100%" color-interpolation-filters="sRGB"><feTurbulence type="fractalNoise" baseFrequency="0.028 0.24" numOctaves="3" seed="4"/><feColorMatrix type="matrix" values="0 0 0 0 0.26  0 0 0 0 0.52  0 0 0 0 0.1  0 3.4 0 0 -1.68"/></filter>
<filter id="txR2" x="0" y="0" width="100%" height="100%" color-interpolation-filters="sRGB"><feTurbulence type="fractalNoise" baseFrequency="0.04 0.2" numOctaves="3" seed="29"/><feColorMatrix type="matrix" values="0 0 0 0 0.74  0 0 0 0 0.07  0 0 0 0 0.08  3.8 0 0 0 -1.72"/></filter>
<filter id="txR" x="0" y="0" width="100%" height="100%" color-interpolation-filters="sRGB"><feTurbulence type="fractalNoise" baseFrequency="0.09" numOctaves="3" seed="5"/><feColorMatrix type="matrix" values="0 0 0 0 0.8  0 0 0 0 0.08  0 0 0 0 0.1  4.5 0 0 0 -1.95"/></filter>
<filter id="txD" x="0" y="0" width="100%" height="100%" color-interpolation-filters="sRGB"><feTurbulence type="fractalNoise" baseFrequency="0.05" numOctaves="3" seed="23"/><feColorMatrix type="matrix" values="0 0 0 0 0.5  0 0 0 0 0.08  0 0 0 0 0.05  2.6 0 0 0 -1.1"/></filter>
<clipPath id="cpC1"><rect x="94" y="676" width="342.5" height="342.5"/></clipPath>
<clipPath id="cpC2"><rect x="497" y="676" width="342.5" height="342.5"/></clipPath>
<clipPath id="cpD1"><rect x="945" y="676" width="342.5" height="342.5"/></clipPath>
<clipPath id="cpD2"><rect x="1350.4" y="676" width="342.5" height="342.5"/></clipPath>
</defs>
<g clip-path="url(#cpC1)">
<rect x="94" y="676" width="342.5" height="342.5" fill="#030128"/>
<clipPath id="cm1"><polygon points="94.6,810.1 109.4,793.2 126.4,765.6 143.3,729.6 151.8,697.8 168.8,685.1 194.2,687.2 199.5,708.4 185.7,727.5 211.2,712.6 232.4,699.9 253.6,693.6 259.9,676.6 410.4,676.6 412.5,693.6 391.3,714.7 370.1,731.7 355.3,750.8 348.9,776.2 357.4,797.4 359.5,814.4 338.3,833.4 323.5,841.9 325.6,856.8 348.9,878 368,894.9 380.7,916.1 401.9,937.3 427.4,947.9 436.5,952.1 436.5,1018.5 120,1018.5 117.9,983.9 105.2,952.1 96.7,920.3 94.6,878"/></clipPath>
<polygon points="94.6,810.1 109.4,793.2 126.4,765.6 143.3,729.6 151.8,697.8 168.8,685.1 194.2,687.2 199.5,708.4 185.7,727.5 211.2,712.6 232.4,699.9 253.6,693.6 259.9,676.6 410.4,676.6 412.5,693.6 391.3,714.7 370.1,731.7 355.3,750.8 348.9,776.2 357.4,797.4 359.5,814.4 338.3,833.4 323.5,841.9 325.6,856.8 348.9,878 368,894.9 380.7,916.1 401.9,937.3 427.4,947.9 436.5,952.1 436.5,1018.5 120,1018.5 117.9,983.9 105.2,952.1 96.7,920.3 94.6,878" fill="#0c1209"/>
<g clip-path="url(#cm1)">
<g transform="rotate(-58 265 847)"><rect x="15" y="597" width="500" height="500" filter="url(#txG)"/></g>
<g transform="rotate(25 265 847)"><rect x="15" y="597" width="500" height="500" filter="url(#txG2)" opacity="0.8"/></g>
<g transform="rotate(-20 265 847)"><rect x="15" y="597" width="500" height="500" filter="url(#txR2)" opacity="0.9"/></g>
<g fill="none" filter="url(#b1)"><path d="M170 873.8Q171.3 867.3 181.9 851.5" stroke="#9adf40" stroke-width="0.71" opacity="0.27"/><path d="M309.7 744.9Q317 724.2 316.4 711.3" stroke="#5fd02a" stroke-width="1.04" opacity="0.22"/><path d="M342.5 995.4Q343.5 973.9 338.2 958.7" stroke="#7be03a" stroke-width="1.2" opacity="0.23"/><path d="M118.4 752.7Q140.4 751.5 163.7 748.9" stroke="#c81818" stroke-width="0.84" opacity="0.45"/><path d="M291.6 872.4Q295.3 854.8 290.1 845.9" stroke="#3f9f20" stroke-width="1.29" opacity="0.4"/><path d="M127.6 971.1Q154.6 966.5 173.1 970.6" stroke="#7be03a" stroke-width="1.01" opacity="0.5"/><path d="M171.8 715.5Q184.3 720.8 200 722.8" stroke="#7be03a" stroke-width="0.52" opacity="0.33"/><path d="M220.1 719.6Q239.3 714.5 253 714.9" stroke="#3f9f20" stroke-width="0.94" opacity="0.48"/><path d="M184.1 753.6Q190.4 756.9 196 760.9" stroke="#c81818" stroke-width="0.73" opacity="0.28"/><path d="M331.8 1023.6Q328.9 1013.1 329 999.6" stroke="#9adf40" stroke-width="0.8" opacity="0.46"/><path d="M211.2 963.9Q229.9 969.7 242.1 982" stroke="#7be03a" stroke-width="1.25" opacity="0.33"/><path d="M175.3 770.7Q185.9 777.1 190.4 789.7" stroke="#c81818" stroke-width="0.52" opacity="0.38"/><path d="M309.1 714.1Q309.2 698.7 312.4 680.2" stroke="#f03030" stroke-width="0.89" opacity="0.38"/><path d="M211.5 898Q221.9 890.2 230.1 884.6" stroke="#7be03a" stroke-width="0.75" opacity="0.31"/><path d="M293 790.9Q299 778.6 303.4 767.7" stroke="#c81818" stroke-width="0.9" opacity="0.4"/><path d="M168.9 790.2Q188.3 787.1 204.5 787.2" stroke="#3f9f20" stroke-width="1.26" opacity="0.4"/><path d="M149.4 947.8Q168.3 956.4 193.3 959.1" stroke="#3f9f20" stroke-width="0.68" opacity="0.24"/><path d="M255.7 743.3Q279.3 738.2 295.6 740.3" stroke="#3f9f20" stroke-width="0.77" opacity="0.45"/><path d="M123.6 904.7Q127.5 884.6 124.1 872" stroke="#9adf40" stroke-width="0.73" opacity="0.37"/><path d="M98.9 823.6Q106.5 818.1 114.6 812.1" stroke="#f03030" stroke-width="1.29" opacity="0.33"/><path d="M424.3 1002.5Q421.2 991.9 414.5 984.8" stroke="#3f9f20" stroke-width="0.94" opacity="0.47"/><path d="M411.5 965.5Q385.1 974 366.7 974.3" stroke="#5fd02a" stroke-width="1.22" opacity="0.41"/><path d="M424.6 999.5Q413 980.5 396.3 966.7" stroke="#3f9f20" stroke-width="0.69" opacity="0.21"/><path d="M257.1 700.4Q274.1 698.9 299.3 689.2" stroke="#9adf40" stroke-width="1.15" opacity="0.22"/><path d="M156.1 702.2Q167.7 720.8 184.1 734.6" stroke="#e01c1c" stroke-width="1.16" opacity="0.2"/><path d="M309.1 978.7Q307.1 973.9 309.9 964.3" stroke="#9adf40" stroke-width="0.54" opacity="0.3"/><path d="M387.1 984.7Q374.6 969.8 362.5 954.5" stroke="#5fd02a" stroke-width="0.91" opacity="0.35"/><path d="M215.7 813.7Q224 812.3 237.3 805.9" stroke="#c81818" stroke-width="0.6" opacity="0.37"/><path d="M341 814.1Q340.5 805.5 337.8 799.1" stroke="#c81818" stroke-width="1.01" opacity="0.21"/><path d="M387.3 708.2Q400.4 692 408.1 681.3" stroke="#9adf40" stroke-width="0.87" opacity="0.27"/><path d="M281 921.1Q281.8 910.2 274.6 907.4" stroke="#c81818" stroke-width="1.28" opacity="0.37"/><path d="M331.2 1016.4Q334.4 993.9 330.2 978.9" stroke="#9adf40" stroke-width="1.03" opacity="0.42"/><path d="M271.3 714.8Q290.3 709 303.4 709" stroke="#5fd02a" stroke-width="0.95" opacity="0.4"/><path d="M213 963.6Q226.8 953 233.1 949.9" stroke="#5fd02a" stroke-width="1.04" opacity="0.45"/><path d="M377.2 705.9Q363.5 693.2 358.2 672.1" stroke="#f03030" stroke-width="0.55" opacity="0.3"/><path d="M287.2 970.2Q284 963.1 287.6 949.2" stroke="#9adf40" stroke-width="0.7" opacity="0.38"/><path d="M155.8 986.8Q175.8 993.6 194.3 1002" stroke="#9adf40" stroke-width="0.62" opacity="0.32"/><path d="M259.2 859.2Q269.6 837.1 270.4 824.6" stroke="#7be03a" stroke-width="0.61" opacity="0.43"/><path d="M123.6 859.7Q147.7 849.9 165.8 846.1" stroke="#c81818" stroke-width="0.98" opacity="0.38"/><path d="M440.4 987.3Q428.5 983.1 421.4 974.1" stroke="#e01c1c" stroke-width="0.64" opacity="0.31"/><path d="M195.9 941.3Q205.7 940.2 213.5 941.3" stroke="#5fd02a" stroke-width="0.89" opacity="0.42"/><path d="M350.7 1018.1Q342.5 1007.8 340.1 991.6" stroke="#5fd02a" stroke-width="1.27" opacity="0.46"/><path d="M169.4 734.2Q181.2 737.6 185.3 748.7" stroke="#c81818" stroke-width="0.64" opacity="0.21"/><path d="M151.8 688.6Q153.2 711.7 162.7 726.8" stroke="#3f9f20" stroke-width="0.53" opacity="0.34"/><path d="M349.3 797.4Q341.1 796.2 341.8 785.9" stroke="#f03030" stroke-width="1.26" opacity="0.32"/><path d="M269.7 716.9Q282.5 715.6 291.7 717.8" stroke="#3f9f20" stroke-width="0.58" opacity="0.48"/><path d="M210.6 955.7Q224.2 939 234.5 925.7" stroke="#c81818" stroke-width="0.59" opacity="0.48"/><path d="M195.1 869.3Q212.1 868.4 225.6 871" stroke="#5fd02a" stroke-width="1.07" opacity="0.4"/><path d="M276.9 751.9Q292.4 734.7 299.6 725.8" stroke="#e01c1c" stroke-width="0.59" opacity="0.37"/><path d="M321.9 830.4Q313.4 823.6 311.5 810" stroke="#7be03a" stroke-width="1.06" opacity="0.23"/><path d="M145.5 877.6Q154.1 868.3 167.7 854.2" stroke="#7be03a" stroke-width="0.53" opacity="0.35"/><path d="M167.6 944Q177.3 941.2 190.6 935" stroke="#5fd02a" stroke-width="0.78" opacity="0.45"/><path d="M126 764.9Q135.3 766.7 139.8 773.2" stroke="#7be03a" stroke-width="0.95" opacity="0.4"/><path d="M220.4 1009.7Q229.5 1011.7 236.3 1015.9" stroke="#e01c1c" stroke-width="0.94" opacity="0.25"/><path d="M145.6 981.1Q155.2 974.1 165.9 966" stroke="#9adf40" stroke-width="0.75" opacity="0.47"/><path d="M186.5 840.5Q202.6 844.6 214.4 853.1" stroke="#f03030" stroke-width="0.89" opacity="0.38"/><path d="M340 696.6Q343.3 677.2 346.2 658.2" stroke="#7be03a" stroke-width="1.13" opacity="0.26"/><path d="M392.5 1003.1Q368.3 997.3 352.4 983.3" stroke="#7be03a" stroke-width="0.61" opacity="0.44"/><path d="M298 701.7Q308.1 693.5 317.4 686.1" stroke="#c81818" stroke-width="0.76" opacity="0.3"/><path d="M318.4 719.9Q334.6 701.2 344.9 688.4" stroke="#5fd02a" stroke-width="1.09" opacity="0.3"/><path d="M390.9 999.5Q370.2 995.3 349.9 990.8" stroke="#5fd02a" stroke-width="0.83" opacity="0.45"/><path d="M337.3 824.8Q331.3 815 334.6 796.1" stroke="#e01c1c" stroke-width="1.02" opacity="0.29"/><path d="M242.9 943.4Q255.7 933.1 263.8 927.5" stroke="#3f9f20" stroke-width="0.86" opacity="0.31"/><path d="M216.4 995.5Q229.4 1010.7 247.5 1020.7" stroke="#9adf40" stroke-width="0.93" opacity="0.25"/><path d="M101.2 891.3Q103.3 875.3 103.2 861.6" stroke="#7be03a" stroke-width="0.55" opacity="0.21"/><path d="M236.5 830.4Q243 820.8 259.1 801.6" stroke="#9adf40" stroke-width="0.89" opacity="0.47"/><path d="M221.3 731.6Q228.6 740.8 233.9 752" stroke="#c81818" stroke-width="0.72" opacity="0.44"/><path d="M242.3 995Q251.1 998.2 265.2 996.1" stroke="#3f9f20" stroke-width="1" opacity="0.3"/><path d="M115 929.5Q121.7 914.9 138.3 890.3" stroke="#7be03a" stroke-width="0.9" opacity="0.34"/><path d="M149.2 857.3Q163.5 846.6 169.3 844.4" stroke="#c81818" stroke-width="1.14" opacity="0.48"/><path d="M177.2 890.3Q202.5 880.4 220.3 877.9" stroke="#9adf40" stroke-width="0.94" opacity="0.36"/><path d="M388.3 982.7Q385.6 967.5 373.5 961.6" stroke="#7be03a" stroke-width="0.79" opacity="0.32"/><path d="M160.6 950.6Q175.4 940.7 185.4 935.6" stroke="#f03030" stroke-width="1.06" opacity="0.48"/><path d="M355.4 964.8Q353.6 955.9 347.8 950.9" stroke="#c81818" stroke-width="0.69" opacity="0.45"/><path d="M334 984.4Q316.7 974.5 294.4 969.5" stroke="#3f9f20" stroke-width="0.5" opacity="0.26"/><path d="M367.2 1001.2Q361.6 991.7 360 978.1" stroke="#7be03a" stroke-width="0.69" opacity="0.21"/><path d="M132 903.8Q151.7 892 161.6 890.1" stroke="#9adf40" stroke-width="0.9" opacity="0.47"/><path d="M184.7 983.7Q203.3 978.8 222.5 973.2" stroke="#e01c1c" stroke-width="1.16" opacity="0.23"/><path d="M156.3 986.5Q166.2 978.5 169.1 977.5" stroke="#f03030" stroke-width="0.89" opacity="0.4"/><path d="M339.7 830.9Q336.7 811.4 327.8 797.8" stroke="#9adf40" stroke-width="1.15" opacity="0.26"/><path d="M267.9 850.4Q278.8 835.5 290 820.2" stroke="#3f9f20" stroke-width="0.84" opacity="0.39"/><path d="M292.7 758.1Q307 744.6 310.8 741.5" stroke="#9adf40" stroke-width="0.85" opacity="0.28"/><path d="M196 936.7Q207.6 930.4 214.2 929" stroke="#9adf40" stroke-width="0.79" opacity="0.26"/><path d="M291.1 830Q313 811.4 324.6 803" stroke="#5fd02a" stroke-width="0.73" opacity="0.48"/><path d="M140.7 701.8Q159.2 707.9 174.7 716.9" stroke="#7be03a" stroke-width="0.72" opacity="0.33"/><path d="M193.5 931.9Q210.2 932.6 231.4 928.7" stroke="#3f9f20" stroke-width="1.23" opacity="0.33"/><path d="M148 854Q168.1 840 181.8 832.4" stroke="#e01c1c" stroke-width="0.85" opacity="0.48"/><path d="M246.6 1018.4Q261.5 1013.2 266.8 1017.6" stroke="#5fd02a" stroke-width="0.87" opacity="0.47"/><path d="M171 952.6Q177.9 952 184.1 952.1" stroke="#5fd02a" stroke-width="0.5" opacity="0.5"/><path d="M278.2 853.1Q281.2 846.5 288.9 835.3" stroke="#e01c1c" stroke-width="0.98" opacity="0.44"/><path d="M239.4 781.4Q246.8 767.8 257.5 750.8" stroke="#5fd02a" stroke-width="1" opacity="0.4"/><path d="M414.7 959.7Q402.7 956.9 398.4 946.3" stroke="#c81818" stroke-width="0.91" opacity="0.45"/><path d="M274.2 773.6Q287.5 768 292.4 770.7" stroke="#c81818" stroke-width="0.92" opacity="0.43"/><path d="M394.6 1024.7Q387.3 1012.1 382.8 996.9" stroke="#c81818" stroke-width="0.65" opacity="0.41"/><path d="M220.3 799.5Q239 792 248 794.4" stroke="#3f9f20" stroke-width="0.61" opacity="0.21"/><path d="M251.2 766Q261.5 754.5 270 744.8" stroke="#3f9f20" stroke-width="0.96" opacity="0.36"/><path d="M243.8 777.9Q263.1 770.5 278.8 766.7" stroke="#9adf40" stroke-width="1.22" opacity="0.49"/><path d="M307 763.9Q311.2 746.7 322.3 722.7" stroke="#9adf40" stroke-width="0.75" opacity="0.28"/><path d="M427.3 1008Q415.5 1003.2 411.5 990.6" stroke="#5fd02a" stroke-width="0.9" opacity="0.49"/><path d="M352.1 921.7Q348.1 913.9 341.4 908.9" stroke="#5fd02a" stroke-width="1.25" opacity="0.49"/><path d="M348.7 839Q331.8 823.4 313.7 809" stroke="#9adf40" stroke-width="1.27" opacity="0.24"/><path d="M311.1 730.8Q318.5 722.5 320.4 719.6" stroke="#7be03a" stroke-width="1.02" opacity="0.24"/><path d="M136.9 860Q144.1 856.5 152.6 851.5" stroke="#5fd02a" stroke-width="0.72" opacity="0.24"/><path d="M208.5 985.4Q211.8 992.7 221.6 993.4" stroke="#e01c1c" stroke-width="1.28" opacity="0.27"/><path d="M201.8 1005.9Q210.7 1006.7 229.7 997.4" stroke="#9adf40" stroke-width="0.96" opacity="0.34"/><path d="M280.3 843.1Q282.1 824.3 276.9 812.5" stroke="#3f9f20" stroke-width="1.25" opacity="0.45"/><path d="M135.4 1004.2Q152.8 1009.1 176.5 1007.8" stroke="#5fd02a" stroke-width="0.83" opacity="0.46"/><path d="M405.9 966.6Q393.9 946.1 378 929.5" stroke="#3f9f20" stroke-width="0.57" opacity="0.36"/><path d="M229.1 729Q244.1 728 261.8 724.2" stroke="#3f9f20" stroke-width="1.06" opacity="0.43"/><path d="M338.4 811.9Q340.1 795.9 345.3 776.5" stroke="#c81818" stroke-width="0.72" opacity="0.24"/><path d="M265.7 939.1Q270.8 922 265.9 914.8" stroke="#9adf40" stroke-width="0.77" opacity="0.44"/><path d="M146.9 901.7Q160 883.4 162.6 875.7" stroke="#9adf40" stroke-width="0.84" opacity="0.45"/><path d="M374.7 712Q359 698.3 346.1 681.7" stroke="#9adf40" stroke-width="1.21" opacity="0.33"/><path d="M208.8 767.8Q217.1 780.4 227.6 790.9" stroke="#5fd02a" stroke-width="0.97" opacity="0.24"/><path d="M153 803.5Q167.9 805.3 186.6 803.4" stroke="#5fd02a" stroke-width="0.52" opacity="0.42"/><path d="M189.6 831.1Q204.2 826.2 214.2 826" stroke="#e01c1c" stroke-width="0.85" opacity="0.4"/><path d="M135.7 990.2Q133.6 979.7 136.1 964.7" stroke="#7be03a" stroke-width="0.98" opacity="0.23"/><path d="M144.9 766.9Q157.5 770.2 169.9 773.8" stroke="#3f9f20" stroke-width="0.85" opacity="0.23"/><path d="M107.1 838Q118 832.8 139.2 817.2" stroke="#9adf40" stroke-width="1.01" opacity="0.23"/><path d="M333.4 913.6Q317.4 899.7 307.1 880.1" stroke="#9adf40" stroke-width="1.27" opacity="0.22"/><path d="M263.3 997.7Q268.3 988.7 280.1 972.8" stroke="#f03030" stroke-width="0.82" opacity="0.3"/><path d="M241 1001.2Q251.3 1004.2 260 1008.8" stroke="#7be03a" stroke-width="0.97" opacity="0.31"/><path d="M269.3 805Q272 784 274.2 763.4" stroke="#9adf40" stroke-width="1.19" opacity="0.39"/><path d="M262.1 977.9Q259.1 972.7 264.6 959.1" stroke="#9adf40" stroke-width="1.17" opacity="0.29"/><path d="M350.9 798.8Q355.1 786 354.4 778" stroke="#3f9f20" stroke-width="0.81" opacity="0.25"/><path d="M162.8 771.5Q178.6 768.3 197.8 761.8" stroke="#7be03a" stroke-width="0.74" opacity="0.25"/><path d="M142.9 845.3Q149.3 844.6 161.4 838.2" stroke="#f03030" stroke-width="0.82" opacity="0.36"/><path d="M308.5 901.4Q294.3 896.1 289.4 881.3" stroke="#c81818" stroke-width="0.89" opacity="0.37"/><path d="M168.4 984.6Q191.5 978.7 204.4 983" stroke="#9adf40" stroke-width="1.11" opacity="0.23"/><path d="M229.3 970.1Q236 974 246.5 974.1" stroke="#7be03a" stroke-width="1.18" opacity="0.34"/><path d="M283.7 984.8Q282.4 968.3 274.3 958.6" stroke="#5fd02a" stroke-width="1.06" opacity="0.49"/><path d="M301.6 893.6Q295.1 878.5 292.9 859" stroke="#9adf40" stroke-width="1.17" opacity="0.42"/><path d="M338.5 931Q323.9 930.6 314.7 924.8" stroke="#f03030" stroke-width="1.17" opacity="0.41"/><path d="M186.8 720.5Q205.2 732.2 224 743.5" stroke="#9adf40" stroke-width="0.66" opacity="0.32"/><path d="M286.9 718.6Q291.7 713.1 296.4 707.7" stroke="#5fd02a" stroke-width="0.94" opacity="0.24"/><path d="M218.3 874.9Q224.6 869.4 235.6 859.1" stroke="#3f9f20" stroke-width="0.68" opacity="0.28"/><path d="M159 704.4Q168.9 712.3 175 724.1" stroke="#7be03a" stroke-width="1.03" opacity="0.27"/><path d="M171.5 791.4Q178.8 799.6 194.4 799.5" stroke="#e01c1c" stroke-width="1.1" opacity="0.27"/><path d="M240.3 1015.2Q252.6 1008 261.4 1004.3" stroke="#7be03a" stroke-width="0.8" opacity="0.46"/><path d="M342.9 837.7Q327 825.4 316.2 808" stroke="#9adf40" stroke-width="0.62" opacity="0.21"/><path d="M359.1 739.2Q366.5 719.9 370.9 703.7" stroke="#3f9f20" stroke-width="0.66" opacity="0.25"/><path d="M252.4 933.3Q260.7 928.6 268.1 924.9" stroke="#f03030" stroke-width="1.08" opacity="0.28"/><path d="M325 727.3Q329.5 707 329.5 691.1" stroke="#9adf40" stroke-width="0.71" opacity="0.41"/><path d="M334.4 741.8Q333.6 734.8 332.5 728.2" stroke="#3f9f20" stroke-width="0.58" opacity="0.44"/><path d="M218.7 962.8Q224.5 954.9 236.1 941.1" stroke="#5fd02a" stroke-width="0.78" opacity="0.27"/><path d="M225.1 710Q237.5 708.6 248.5 708.8" stroke="#7be03a" stroke-width="0.73" opacity="0.21"/><path d="M152.7 877Q163.5 869.4 170.9 865.2" stroke="#f03030" stroke-width="0.97" opacity="0.39"/><path d="M250.3 869.1Q253.8 853.3 248 846.8" stroke="#e01c1c" stroke-width="0.85" opacity="0.24"/><path d="M212.9 1023.1Q217.1 1020.9 226.7 1013.4" stroke="#c81818" stroke-width="0.52" opacity="0.21"/><path d="M295.6 706.1Q306.9 696.7 318.6 686.9" stroke="#3f9f20" stroke-width="1.04" opacity="0.29"/><path d="M244.7 779.7Q251.8 783.7 267.7 779" stroke="#e01c1c" stroke-width="0.59" opacity="0.4"/><path d="M169.1 719.6Q178.4 728.2 182.4 742" stroke="#e01c1c" stroke-width="1" opacity="0.22"/><path d="M122.9 929.3Q118.6 907.2 113 886.3" stroke="#9adf40" stroke-width="0.77" opacity="0.48"/><path d="M187.9 842.9Q208 838.1 222 839.4" stroke="#e01c1c" stroke-width="0.79" opacity="0.4"/><path d="M352.6 1017.7Q344.2 1008.4 345.1 989.8" stroke="#5fd02a" stroke-width="0.99" opacity="0.27"/><path d="M151.6 702.2Q156.7 710.1 161.8 718" stroke="#9adf40" stroke-width="0.95" opacity="0.3"/><path d="M355.2 940.8Q342.2 936.4 335.1 925.9" stroke="#7be03a" stroke-width="1.11" opacity="0.21"/><path d="M227.9 980Q234.8 966.5 243.9 951" stroke="#9adf40" stroke-width="0.99" opacity="0.34"/><path d="M106.5 872.3Q116.5 866.1 122.6 863.7" stroke="#e01c1c" stroke-width="1.28" opacity="0.24"/><path d="M364.6 991.2Q361.1 983.1 355.6 977" stroke="#c81818" stroke-width="0.94" opacity="0.24"/><path d="M231.1 1020.3Q238.9 1015.7 246.7 1011.1" stroke="#f03030" stroke-width="1.24" opacity="0.28"/><path d="M187.6 825.4Q200.6 810.7 218.3 791.4" stroke="#9adf40" stroke-width="0.7" opacity="0.27"/><path d="M182.8 752Q198.4 750.3 213.7 748.8" stroke="#7be03a" stroke-width="1.25" opacity="0.43"/><path d="M374.7 711.4Q371.7 703.9 375 690.2" stroke="#7be03a" stroke-width="1.22" opacity="0.47"/><path d="M273.7 709.3Q282.8 718.9 296.9 723.6" stroke="#7be03a" stroke-width="0.86" opacity="0.26"/><path d="M222.6 949.9Q241.9 937.8 255 932" stroke="#e01c1c" stroke-width="0.7" opacity="0.24"/><path d="M273.6 696.5Q289.5 686.9 309.1 673.5" stroke="#3f9f20" stroke-width="0.99" opacity="0.22"/><path d="M89 841.4Q106.7 822.6 113.8 814.3" stroke="#5fd02a" stroke-width="0.6" opacity="0.25"/><path d="M214.6 870.6Q223.9 854.3 236.1 835.2" stroke="#3f9f20" stroke-width="0.88" opacity="0.35"/><path d="M233.4 848Q245.7 841.5 264.6 828.2" stroke="#e01c1c" stroke-width="1.03" opacity="0.25"/><path d="M350.9 1016.4Q343.6 1008.6 342.1 994.8" stroke="#5fd02a" stroke-width="1.28" opacity="0.22"/><path d="M207.2 704.3Q223.7 713.7 241.2 722" stroke="#e01c1c" stroke-width="1.3" opacity="0.4"/><path d="M114.3 980.4Q119.9 983.6 130 982.1" stroke="#e01c1c" stroke-width="1.14" opacity="0.21"/><path d="M227.9 706Q247.5 716.4 262.3 731.5" stroke="#9adf40" stroke-width="1.1" opacity="0.39"/><path d="M361.4 919.9Q361.6 910.3 351.8 910.7" stroke="#9adf40" stroke-width="0.6" opacity="0.45"/><path d="M230.5 861.9Q242.9 858.9 263.1 848.2" stroke="#c81818" stroke-width="1.19" opacity="0.28"/><path d="M153.1 731.7Q174.9 732.8 196.3 734.3" stroke="#c81818" stroke-width="0.73" opacity="0.3"/><path d="M347.6 747.4Q348 738.6 355 723.2" stroke="#3f9f20" stroke-width="0.98" opacity="0.32"/><path d="M156.7 707.8Q173.4 706.2 180.5 714" stroke="#c81818" stroke-width="0.92" opacity="0.45"/><path d="M167.2 988.1Q183.3 978.1 194.2 973.2" stroke="#f03030" stroke-width="0.65" opacity="0.44"/><path d="M191.8 972.7Q198.8 964.5 201.4 960.9" stroke="#3f9f20" stroke-width="1.07" opacity="0.49"/><path d="M437.8 1013.3Q430.8 999.6 429.3 980.4" stroke="#e01c1c" stroke-width="0.73" opacity="0.4"/><path d="M378.9 905.6Q367.7 910.9 366.2 906.5" stroke="#c81818" stroke-width="1.13" opacity="0.25"/><path d="M244.4 878.7Q256.9 864.5 259.1 860.6" stroke="#7be03a" stroke-width="0.55" opacity="0.37"/><path d="M208.3 866.3Q215.2 863.7 229.4 853.8" stroke="#3f9f20" stroke-width="0.96" opacity="0.27"/><path d="M343.2 898.3Q340.2 890.8 331.9 888.7" stroke="#3f9f20" stroke-width="0.61" opacity="0.29"/><path d="M162.5 982Q179 972.1 197 960.8" stroke="#e01c1c" stroke-width="0.87" opacity="0.32"/><path d="M100.7 917.2Q97.8 902.2 103.7 878.4" stroke="#c81818" stroke-width="0.74" opacity="0.24"/><path d="M149.6 953.9Q160.3 945.6 163 945.3" stroke="#f03030" stroke-width="0.56" opacity="0.33"/><path d="M426.3 1004.2Q423 994.3 411.1 992.9" stroke="#9adf40" stroke-width="1.09" opacity="0.48"/><path d="M336.6 812.9Q331.2 799.9 328.5 784.1" stroke="#7be03a" stroke-width="0.68" opacity="0.46"/><path d="M253.8 757.8Q260.4 743.5 267.4 728.8" stroke="#f03030" stroke-width="0.97" opacity="0.46"/><path d="M395.1 976.5Q374.4 964.6 359.8 946.5" stroke="#e01c1c" stroke-width="1.2" opacity="0.4"/><path d="M213.5 957.1Q222 943.9 223.2 937.9" stroke="#f03030" stroke-width="0.8" opacity="0.37"/><path d="M240 911.1Q247.6 892.3 247 881.7" stroke="#c81818" stroke-width="1.08" opacity="0.26"/><path d="M315.6 824.6Q333.6 811.2 348.4 800.9" stroke="#7be03a" stroke-width="0.8" opacity="0.38"/><path d="M235.6 912.9Q248.8 897.7 260.4 883.9" stroke="#f03030" stroke-width="1.2" opacity="0.32"/><path d="M395.8 1019.9Q385 1002.3 373.4 985.8" stroke="#c81818" stroke-width="1" opacity="0.24"/><path d="M254.3 774.4Q277 762 294.2 755.1" stroke="#7be03a" stroke-width="0.63" opacity="0.46"/><path d="M363.5 937.2Q359.2 933 348.1 935.6" stroke="#9adf40" stroke-width="1.2" opacity="0.37"/><path d="M229.7 718Q244 714.8 255.5 714.5" stroke="#5fd02a" stroke-width="0.87" opacity="0.26"/><path d="M331.8 844.6Q325.2 828.8 323.5 808" stroke="#7be03a" stroke-width="0.97" opacity="0.3"/><path d="M368.2 966.1Q352.8 959.8 339.3 951.6" stroke="#f03030" stroke-width="0.5" opacity="0.26"/><path d="M164.8 954.6Q168.1 951.2 178.5 940.7" stroke="#e01c1c" stroke-width="0.82" opacity="0.35"/><path d="M183.9 810.5Q200.9 811.6 226.7 803.9" stroke="#3f9f20" stroke-width="1.04" opacity="0.45"/><path d="M139.3 736.9Q152.6 744 175 742.2" stroke="#7be03a" stroke-width="0.61" opacity="0.27"/><path d="M245.9 825.1Q258.3 817 274.9 804.6" stroke="#e01c1c" stroke-width="1.01" opacity="0.25"/><path d="M314.6 847.8Q304 832.8 299 812.2" stroke="#7be03a" stroke-width="1.17" opacity="0.37"/><path d="M281.6 827.9Q284.7 822.5 288.7 816.3" stroke="#7be03a" stroke-width="0.68" opacity="0.47"/><path d="M118.9 960.8Q140.7 947 156.1 939.4" stroke="#9adf40" stroke-width="0.59" opacity="0.27"/><path d="M232.3 936.8Q242.8 926.2 243.3 925.6" stroke="#3f9f20" stroke-width="0.88" opacity="0.41"/><path d="M187 964.9Q198.5 957.3 201.8 957.8" stroke="#5fd02a" stroke-width="0.52" opacity="0.31"/><path d="M125.6 986.4Q130.2 976.5 145.3 956.2" stroke="#c81818" stroke-width="1.07" opacity="0.32"/><path d="M165.2 727.4Q177.5 733.1 196.1 732.5" stroke="#c81818" stroke-width="1.13" opacity="0.29"/><path d="M349.3 819.2Q349.9 806.3 350.6 793.3" stroke="#5fd02a" stroke-width="0.81" opacity="0.49"/><path d="M298 1013.3Q307.3 996.8 311.2 985.7" stroke="#e01c1c" stroke-width="0.68" opacity="0.42"/><path d="M213.9 1010.6Q233.9 998 244.3 994.9" stroke="#5fd02a" stroke-width="0.69" opacity="0.35"/><path d="M236.9 933.3Q252.8 925.6 262.2 924.4" stroke="#f03030" stroke-width="0.95" opacity="0.5"/><path d="M276.9 958.3Q279.5 944.2 277 935.3" stroke="#e01c1c" stroke-width="1.23" opacity="0.32"/><path d="M239.5 929.8Q244.4 913.1 238.7 907" stroke="#9adf40" stroke-width="0.63" opacity="0.23"/><path d="M212.6 860.3Q225.2 845.2 236 831.9" stroke="#3f9f20" stroke-width="0.56" opacity="0.38"/><path d="M242.5 860.2Q256.8 855.6 273.8 848.4" stroke="#e01c1c" stroke-width="0.62" opacity="0.2"/><path d="M333.1 749.6Q335.6 735.4 334.8 724.3" stroke="#f03030" stroke-width="1" opacity="0.39"/><path d="M191.8 910.6Q201.4 894.6 209 880.4" stroke="#5fd02a" stroke-width="0.66" opacity="0.41"/><path d="M173.5 1011.1Q176.2 1018.2 188.1 1016.2" stroke="#e01c1c" stroke-width="0.8" opacity="0.21"/><path d="M241.7 1021.5Q250.9 1005.9 256.6 993.7" stroke="#9adf40" stroke-width="1.11" opacity="0.23"/><path d="M202.3 844.6Q203.3 830.8 207.8 813.7" stroke="#7be03a" stroke-width="0.81" opacity="0.45"/><path d="M267.9 997.2Q281.7 987.3 302.3 970.6" stroke="#7be03a" stroke-width="0.78" opacity="0.23"/><path d="M187.8 838Q194.5 839.4 209.7 832.4" stroke="#7be03a" stroke-width="0.7" opacity="0.47"/><path d="M149.2 726.1Q167.1 731.5 178 744" stroke="#5fd02a" stroke-width="1.06" opacity="0.46"/><path d="M150.7 897.7Q163.6 891.9 172.9 889.7" stroke="#5fd02a" stroke-width="0.7" opacity="0.28"/><path d="M178 810.8Q198.8 805.3 222.4 797" stroke="#3f9f20" stroke-width="1.12" opacity="0.33"/><path d="M447.6 986.5Q437.8 967.3 424.1 952" stroke="#9adf40" stroke-width="0.68" opacity="0.33"/><path d="M358.7 922.3Q341 910.1 316.7 904.5" stroke="#5fd02a" stroke-width="0.91" opacity="0.4"/><path d="M201.1 720.1Q214.9 723.1 220 734.9" stroke="#3f9f20" stroke-width="0.64" opacity="0.33"/><path d="M269.1 816.3Q270.2 804.4 277.4 786.5" stroke="#3f9f20" stroke-width="0.84" opacity="0.41"/><path d="M301 960.5Q286.5 946.2 277.1 926.7" stroke="#7be03a" stroke-width="0.73" opacity="0.44"/><path d="M313.2 719.6Q317.7 710.5 329.7 693.8" stroke="#f03030" stroke-width="0.86" opacity="0.28"/><path d="M310.7 922.6Q307.8 915.9 304.7 909.3" stroke="#3f9f20" stroke-width="0.63" opacity="0.45"/><path d="M94.6 936.4Q103.7 926.3 106.8 922.4" stroke="#e01c1c" stroke-width="0.83" opacity="0.33"/><path d="M428.4 1025.6Q422.8 1007 417 988.6" stroke="#3f9f20" stroke-width="0.52" opacity="0.38"/><path d="M278.4 969Q287.2 953.5 294 940.1" stroke="#f03030" stroke-width="1.05" opacity="0.21"/><path d="M192.6 1007.7Q210.8 1005 230.4 1000.9" stroke="#3f9f20" stroke-width="0.98" opacity="0.21"/><path d="M261.6 733.6Q278.2 729.9 303.4 717.6" stroke="#3f9f20" stroke-width="0.86" opacity="0.23"/><path d="M192.1 681.1Q191.9 693 188.5 708.1" stroke="#7be03a" stroke-width="0.88" opacity="0.37"/><path d="M291.6 889.4Q285.2 880.1 277.1 872.5" stroke="#f03030" stroke-width="0.98" opacity="0.28"/><path d="M250.9 900.9Q246.6 897.1 249 886.5" stroke="#3f9f20" stroke-width="0.78" opacity="0.26"/><path d="M180.7 861.6Q190.3 856.4 203.1 847.9" stroke="#7be03a" stroke-width="0.51" opacity="0.21"/><path d="M231.7 787.9Q244.6 788.9 265.9 781.6" stroke="#5fd02a" stroke-width="0.78" opacity="0.23"/><path d="M411.9 995.4Q395.4 985.7 376.1 978.9" stroke="#f03030" stroke-width="0.65" opacity="0.34"/><path d="M380.5 1019.4Q379.5 1006.7 382.4 990.2" stroke="#3f9f20" stroke-width="1.05" opacity="0.36"/><path d="M335.7 763.1Q328.4 747.3 328.9 723.6" stroke="#f03030" stroke-width="1.23" opacity="0.42"/><path d="M220.5 812.3Q232.6 805 255.1 787.4" stroke="#c81818" stroke-width="1.09" opacity="0.38"/><path d="M233 780.6Q241.7 781.6 260.4 772.8" stroke="#5fd02a" stroke-width="0.54" opacity="0.21"/><path d="M178.4 826Q186.5 836 205.2 835.6" stroke="#e01c1c" stroke-width="0.75" opacity="0.39"/><path d="M191.1 943.2Q199.5 931.7 205.7 922.4" stroke="#3f9f20" stroke-width="1.12" opacity="0.26"/><path d="M353.8 1009.2Q358.1 993.9 352.5 988.4" stroke="#5fd02a" stroke-width="1.24" opacity="0.28"/><path d="M247.6 704Q258.2 717.1 264.7 734.4" stroke="#5fd02a" stroke-width="0.89" opacity="0.47"/><path d="M238.6 981.1Q241.6 964.9 254.1 939.1" stroke="#9adf40" stroke-width="1.11" opacity="0.47"/><path d="M184.5 888.8Q185.2 880.9 191.2 867.8" stroke="#3f9f20" stroke-width="1.19" opacity="0.41"/><path d="M405.1 981.3Q391.9 976 378 971.6" stroke="#5fd02a" stroke-width="1.15" opacity="0.2"/><path d="M314.3 833.1Q307.4 816.8 304.8 796.3" stroke="#7be03a" stroke-width="1.17" opacity="0.36"/><path d="M118.4 865.2Q128.5 855.5 147.3 837" stroke="#3f9f20" stroke-width="1.14" opacity="0.29"/><path d="M387 1012.8Q386.8 1003.3 396.7 983.7" stroke="#9adf40" stroke-width="0.93" opacity="0.23"/><path d="M302.5 1027.7Q300.8 1016.9 295.8 1009.2" stroke="#7be03a" stroke-width="1.09" opacity="0.46"/><path d="M114.5 1015Q117 1006.2 126 991.1" stroke="#9adf40" stroke-width="0.66" opacity="0.2"/><path d="M345.4 940.3Q339.2 937 339.2 927.5" stroke="#e01c1c" stroke-width="0.71" opacity="0.3"/><path d="M196 827.3Q219.9 819.9 240.3 816" stroke="#f03030" stroke-width="0.82" opacity="0.26"/><path d="M279.9 863Q281.6 845.7 282.3 829.4" stroke="#e01c1c" stroke-width="0.59" opacity="0.45"/><path d="M246.3 768.6Q265.5 761.1 278 760.2" stroke="#5fd02a" stroke-width="1.28" opacity="0.44"/><path d="M289.9 881.5Q292.1 864.6 298.9 843.3" stroke="#f03030" stroke-width="0.52" opacity="0.46"/><path d="M168.8 1008.9Q177.9 997.7 184.3 989.1" stroke="#7be03a" stroke-width="0.75" opacity="0.29"/><path d="M215.5 737.8Q225.5 740.7 228.9 750.3" stroke="#f03030" stroke-width="0.65" opacity="0.42"/><path d="M189.5 930.8Q209 915.2 222 906.2" stroke="#7be03a" stroke-width="1.06" opacity="0.46"/><path d="M111.6 783.8Q135.5 770.1 151.5 764.4" stroke="#c81818" stroke-width="0.72" opacity="0.43"/><path d="M376.2 697.8Q383.7 689.1 389.1 682.5" stroke="#5fd02a" stroke-width="0.52" opacity="0.33"/><path d="M179.5 738.6Q191.8 749.8 196.9 768.2" stroke="#c81818" stroke-width="1.17" opacity="0.28"/><path d="M272.9 918.3Q272.8 893 268.4 872.1" stroke="#9adf40" stroke-width="0.96" opacity="0.23"/><path d="M282 1008.3Q281.4 1007 289.5 997.1" stroke="#f03030" stroke-width="0.61" opacity="0.34"/><path d="M296.9 734.5Q301.6 722.7 313.3 703.9" stroke="#f03030" stroke-width="0.64" opacity="0.35"/><path d="M297.9 865Q298.3 843.4 299.3 821.3" stroke="#9adf40" stroke-width="0.56" opacity="0.5"/><path d="M183.1 785.9Q196.1 792.9 208.5 800.6" stroke="#e01c1c" stroke-width="1.26" opacity="0.22"/><path d="M231 692.3Q247 705.9 254.3 728.1" stroke="#3f9f20" stroke-width="0.56" opacity="0.28"/><path d="M419.6 1022.6Q418.7 1011.3 413 1004.7" stroke="#f03030" stroke-width="0.78" opacity="0.34"/><path d="M285.8 955.8Q283.8 942.2 274.6 935.7" stroke="#5fd02a" stroke-width="0.82" opacity="0.44"/><path d="M136 803.6Q147.9 796.4 150.6 798.5" stroke="#7be03a" stroke-width="0.97" opacity="0.32"/><path d="M360.2 974.5Q354.1 964.9 346 957.4" stroke="#5fd02a" stroke-width="1.05" opacity="0.28"/><path d="M330.8 922.1Q321 915.5 302.8 917.2" stroke="#7be03a" stroke-width="0.95" opacity="0.38"/><path d="M154.7 912.9Q159.6 903 160.4 897.2" stroke="#e01c1c" stroke-width="0.68" opacity="0.47"/><path d="M253.3 855.5Q259.8 845.2 258.7 842.5" stroke="#3f9f20" stroke-width="0.76" opacity="0.29"/><path d="M347.1 954.3Q331.3 956 317 956.1" stroke="#3f9f20" stroke-width="1.09" opacity="0.42"/><path d="M211.9 743.1Q232.7 740.7 250.3 741.7" stroke="#3f9f20" stroke-width="0.55" opacity="0.44"/><path d="M407.5 1014.3Q397.9 1012.2 396 1002.4" stroke="#e01c1c" stroke-width="1.18" opacity="0.42"/><path d="M325.3 797.5Q310.3 784.7 301.4 765.8" stroke="#9adf40" stroke-width="0.62" opacity="0.45"/><path d="M195.1 734.6Q210.6 734.8 222.4 738.7" stroke="#c81818" stroke-width="0.6" opacity="0.49"/><path d="M200 876.9Q214.7 871.1 232.2 862.6" stroke="#c81818" stroke-width="0.85" opacity="0.42"/><path d="M327.3 800.6Q324.5 790.6 316.4 785.8" stroke="#5fd02a" stroke-width="0.64" opacity="0.48"/><path d="M352.3 931.6Q351.6 911.9 340.2 902.7" stroke="#3f9f20" stroke-width="0.68" opacity="0.29"/><path d="M127.4 978.6Q142.8 989.3 161.1 997.1" stroke="#c81818" stroke-width="0.55" opacity="0.25"/><path d="M388.6 977.5Q376.2 964.4 357 958.3" stroke="#5fd02a" stroke-width="0.88" opacity="0.33"/><path d="M277.4 851.5Q279.6 839 291.6 816.8" stroke="#7be03a" stroke-width="0.98" opacity="0.39"/><path d="M421 966.7Q411.5 960.4 407.9 948.2" stroke="#7be03a" stroke-width="1.27" opacity="0.3"/><path d="M305.9 839.4Q315.2 818.2 324 797.6" stroke="#3f9f20" stroke-width="1.21" opacity="0.36"/><path d="M257.8 770.9Q266.6 760 265.8 758.6" stroke="#5fd02a" stroke-width="1.25" opacity="0.33"/><path d="M328.4 792.8Q327.2 780.9 336.1 758.8" stroke="#9adf40" stroke-width="0.91" opacity="0.22"/><path d="M376 907.8Q370.5 900.6 363.4 895.1" stroke="#5fd02a" stroke-width="1.1" opacity="0.41"/><path d="M122 903.3Q123.7 896.9 131.5 884.4" stroke="#7be03a" stroke-width="0.78" opacity="0.2"/><path d="M237.3 729.7Q242.6 739.2 252.1 744.6" stroke="#3f9f20" stroke-width="0.95" opacity="0.26"/><path d="M276.7 742.7Q294 744.4 313.1 744.2" stroke="#f03030" stroke-width="1.25" opacity="0.35"/><path d="M345.3 949.7Q337.2 946.2 337.7 934.2" stroke="#c81818" stroke-width="0.85" opacity="0.21"/><path d="M337.4 821.4Q334.9 801.7 327.1 787.2" stroke="#c81818" stroke-width="1.21" opacity="0.33"/><path d="M287.6 729.3Q303.7 713.9 316.3 701.9" stroke="#5fd02a" stroke-width="1.13" opacity="0.41"/><path d="M299.6 708.1Q311.9 709.3 329.2 705.5" stroke="#c81818" stroke-width="0.79" opacity="0.3"/><path d="M332.1 850.1Q329.6 827.2 322.9 808.5" stroke="#c81818" stroke-width="0.88" opacity="0.38"/><path d="M258.8 908.5Q269.8 886 277.2 867.1" stroke="#7be03a" stroke-width="0.83" opacity="0.25"/><path d="M255 929.8Q253.1 921.4 256.1 908" stroke="#9adf40" stroke-width="0.84" opacity="0.21"/><path d="M145.2 869.7Q157.8 869.2 177.4 861.5" stroke="#e01c1c" stroke-width="0.68" opacity="0.49"/><path d="M189.4 732.7Q193.2 738.3 197.1 743.7" stroke="#7be03a" stroke-width="1.03" opacity="0.36"/><path d="M170.4 759.4Q177.4 758.7 188.3 754.2" stroke="#5fd02a" stroke-width="1.26" opacity="0.41"/><path d="M115.4 790.7Q125.8 782.1 136.2 773.6" stroke="#3f9f20" stroke-width="1.29" opacity="0.41"/><path d="M356.7 800.9Q344.3 781.2 321.7 771.8" stroke="#e01c1c" stroke-width="0.56" opacity="0.34"/><path d="M122.9 831.2Q132.2 825.9 137.2 824.9" stroke="#5fd02a" stroke-width="1.08" opacity="0.32"/><path d="M407 979.5Q390.1 966.7 375 952.1" stroke="#c81818" stroke-width="0.98" opacity="0.31"/><path d="M271.3 802.7Q275.9 789.7 282 775" stroke="#f03030" stroke-width="0.51" opacity="0.33"/><path d="M234.2 711.4Q251.2 710.7 259.2 718.8" stroke="#e01c1c" stroke-width="0.87" opacity="0.48"/><path d="M186.8 791.3Q200.4 775.1 205.8 767" stroke="#c81818" stroke-width="0.71" opacity="0.3"/><path d="M242.3 745.6Q245.8 745.9 254.5 740.9" stroke="#f03030" stroke-width="0.67" opacity="0.47"/><path d="M183.9 836.7Q204.9 830.7 222.9 827.6" stroke="#7be03a" stroke-width="0.7" opacity="0.36"/><path d="M210.9 723.8Q210.5 733.3 216.8 736.1" stroke="#e01c1c" stroke-width="0.52" opacity="0.38"/><path d="M330 708.4Q328.4 692.5 330.4 673.1" stroke="#e01c1c" stroke-width="0.54" opacity="0.21"/></g>
<ellipse cx="137" cy="803.8" rx="46.6" ry="63.6" fill="url(#gh)" transform="rotate(20 137 803.8)"/>
<ellipse cx="232.4" cy="721.1" rx="55.1" ry="27.6" fill="url(#gh)" transform="rotate(-15 232.4 721.1)"/>
<ellipse cx="380.7" cy="962.7" rx="55.1" ry="55.1" fill="url(#gh)" transform="rotate(0 380.7 962.7)"/>
<ellipse cx="151.8" cy="983.9" rx="42.4" ry="38.2" fill="url(#gh)" transform="rotate(0 151.8 983.9)"/>
<ellipse cx="327.7" cy="729.6" rx="42.4" ry="25.4" fill="url(#gh)" transform="rotate(-30 327.7 729.6)"/>
<ellipse cx="274.8" cy="909.7" rx="31.8" ry="21.2" fill="url(#gh)" transform="rotate(0 274.8 909.7)"/>
<ellipse cx="296" cy="835.6" rx="48.7" ry="19.1" fill="url(#rh)" transform="rotate(-15 296 835.6)" opacity="0.8"/>
<ellipse cx="257.8" cy="882.2" rx="42.4" ry="25.4" fill="url(#rh)" transform="rotate(30 257.8 882.2)" opacity="0.8"/>
<ellipse cx="245.1" cy="967" rx="33.9" ry="23.3" fill="url(#rh)" transform="rotate(-40 245.1 967)" opacity="0.8"/>
<ellipse cx="312.9" cy="996.6" rx="38.2" ry="27.6" fill="url(#rh)" transform="rotate(0 312.9 996.6)" opacity="0.8"/>
<ellipse cx="376.5" cy="714.7" rx="31.8" ry="14.8" fill="url(#rh)" transform="rotate(-35 376.5 714.7)" opacity="0.8"/>
<ellipse cx="219.7" cy="765.6" rx="23.3" ry="19.1" fill="url(#rh)" transform="rotate(0 219.7 765.6)" opacity="0.8"/>
<ellipse cx="183.6" cy="947.9" rx="19.1" ry="17" fill="url(#rh)" transform="rotate(0 183.6 947.9)" opacity="0.8"/>
<ellipse cx="126.4" cy="920.3" rx="14.8" ry="17" fill="url(#rh)" transform="rotate(0 126.4 920.3)" opacity="0.8"/>
<ellipse cx="190" cy="884.3" rx="17" ry="12.7" fill="url(#rh)" transform="rotate(0 190 884.3)" opacity="0.8"/>
<ellipse cx="274.8" cy="867.4" rx="19.1" ry="14.8" fill="url(#rh)" transform="rotate(0 274.8 867.4)" opacity="0.8"/>
<ellipse cx="357.4" cy="967" rx="14.8" ry="12.7" fill="url(#rh)" transform="rotate(0 357.4 967)" opacity="0.8"/>
<ellipse cx="380.7" cy="996.6" rx="14.8" ry="12.7" fill="url(#rh)" transform="rotate(0 380.7 996.6)" opacity="0.8"/>
<ellipse cx="162.4" cy="945.8" rx="12.7" ry="12.7" fill="url(#rh)" transform="rotate(0 162.4 945.8)" opacity="0.8"/>
</g>
<path d="M94.6 810.1L109.4 793.2L126.4 765.6L143.3 729.6L151.8 697.8Q168.8 678.7 194.2 687.2L199.5 708.4L185.7 727.5" fill="none" stroke="#66d42c" stroke-width="2.2" opacity="0.75" filter="url(#b1)" stroke-linejoin="round"/>
<path d="M185.7 727.5Q211.2 712.6 232.4 699.9" fill="none" stroke="#66d42c" stroke-width="2.2" opacity="0.75" filter="url(#b1)" stroke-linejoin="round"/>
<path d="M412.5 693.6L391.3 714.7L370.1 731.7" fill="none" stroke="#66d42c" stroke-width="2.2" opacity="0.75" filter="url(#b1)" stroke-linejoin="round"/>
<path d="M357.4 797.4L359.5 814.4L338.3 833.4L323.5 841.9L325.6 856.8" fill="none" stroke="#66d42c" stroke-width="2.2" opacity="0.75" filter="url(#b1)" stroke-linejoin="round"/>
<path d="M325.6 856.8L348.9 878L368 894.9L380.7 916.1" fill="none" stroke="#66d42c" stroke-width="2.2" opacity="0.75" filter="url(#b1)" stroke-linejoin="round"/>
<path d="M401.9 937.3L427.4 947.9" fill="none" stroke="#66d42c" stroke-width="2.2" opacity="0.75" filter="url(#b1)" stroke-linejoin="round"/>
<path d="M281.1 757.1Q306.6 765.6 348.9 750.8" fill="none" stroke="#66d42c" stroke-width="2.2" opacity="0.75" filter="url(#b1)" stroke-linejoin="round"/>
<path d="M179.4 939.4Q194.2 922.5 209.1 939.4Q211.2 962.7 190 964.9Q173 958.5 179.4 939.4" fill="none" stroke="#66d42c" stroke-width="2.2" opacity="0.75" filter="url(#b1)" stroke-linejoin="round"/>
<path d="M117.9 983.9Q126.4 1005.1 120 1018.5" fill="none" stroke="#66d42c" stroke-width="2.2" opacity="0.75" filter="url(#b1)" stroke-linejoin="round"/>
<path d="M96.7 678.7Q103.1 693.6 94.6 708.4" fill="none" stroke="#66d42c" stroke-width="2.2" opacity="0.75" filter="url(#b1)" stroke-linejoin="round"/>
<path d="M185.7 729.6Q177.3 755 194.2 784.7" fill="none" stroke="#66d42c" stroke-width="2.2" opacity="0.75" filter="url(#b1)" stroke-linejoin="round"/>
<path d="M219.7 873.7Q253.6 852.5 321.4 841.9" fill="none" stroke="#66d42c" stroke-width="2.2" opacity="0.75" filter="url(#b1)" stroke-linejoin="round"/>
<path d="M253.6 937.3Q270.5 941.5 274.8 952.1" fill="none" stroke="#66d42c" stroke-width="2.2" opacity="0.75" filter="url(#b1)" stroke-linejoin="round"/>
<path d="M431.6 952.1Q433.7 983.9 423.1 1005.1" fill="none" stroke="#66d42c" stroke-width="2.2" opacity="0.75" filter="url(#b1)" stroke-linejoin="round"/>
<ellipse cx="315" cy="684" rx="11.4" ry="10.2" fill="url(#nc)"/>
<ellipse cx="388.2" cy="695.7" rx="9.7" ry="9.7" fill="url(#nc)"/>
<ellipse cx="165.6" cy="705.2" rx="5.6" ry="5.6" fill="url(#nc)"/>
<ellipse cx="286.4" cy="719" rx="8.9" ry="9.7" fill="url(#nc)"/>
<ellipse cx="241.9" cy="737" rx="9.7" ry="7.6" fill="url(#nc)"/>
<ellipse cx="319.3" cy="734.9" rx="8.9" ry="8.9" fill="url(#nc)"/>
<ellipse cx="220.7" cy="761.4" rx="11.4" ry="10.7" fill="url(#nc)"/>
<ellipse cx="144.4" cy="769.9" rx="8.9" ry="8.9" fill="url(#nc)"/>
<ellipse cx="159.2" cy="803.8" rx="8.9" ry="8.9" fill="url(#nc)"/>
<ellipse cx="283.2" cy="804.8" rx="11.4" ry="10.2" fill="url(#nc)"/>
<ellipse cx="304.4" cy="805.9" rx="11.4" ry="9.7" fill="url(#nc)"/>
<ellipse cx="115.8" cy="825" rx="8.9" ry="8.9" fill="url(#nc)"/>
<ellipse cx="276.9" cy="861" rx="8.9" ry="8.1" fill="url(#nc)"/>
<ellipse cx="272.6" cy="869.5" rx="8.1" ry="7.6" fill="url(#nc)"/>
<ellipse cx="128.5" cy="870.5" rx="9.2" ry="8.1" fill="url(#nc)"/>
<ellipse cx="188.9" cy="881.1" rx="9.7" ry="8.9" fill="url(#nc)"/>
<ellipse cx="333" cy="898.1" rx="7.6" ry="10.7" fill="url(#nc)"/>
<ellipse cx="127.5" cy="919.3" rx="9.7" ry="10.2" fill="url(#nc)"/>
<ellipse cx="224.9" cy="917.2" rx="9.7" ry="8.9" fill="url(#nc)"/>
<ellipse cx="217.5" cy="930.9" rx="9.7" ry="9.7" fill="url(#nc)"/>
<ellipse cx="296" cy="924.6" rx="11.7" ry="8.1" fill="url(#nc)"/>
<ellipse cx="356.4" cy="920.3" rx="8.9" ry="8.9" fill="url(#nc)"/>
<ellipse cx="165.6" cy="945.8" rx="8.9" ry="8.9" fill="url(#nc)"/>
<ellipse cx="186.8" cy="945.8" rx="7.6" ry="8.1" fill="url(#nc)"/>
<ellipse cx="393.5" cy="945.8" rx="8.4" ry="9.7" fill="url(#nc)"/>
<ellipse cx="357.4" cy="962.7" rx="7.6" ry="8.1" fill="url(#nc)"/>
<ellipse cx="234.5" cy="976.5" rx="8.4" ry="10.2" fill="url(#nc)"/>
<ellipse cx="164.5" cy="988.2" rx="8.9" ry="9.7" fill="url(#nc)"/>
<ellipse cx="378.6" cy="993.5" rx="8.9" ry="8.9" fill="url(#nc)"/>
<ellipse cx="410.4" cy="988.2" rx="8.9" ry="8.9" fill="url(#nc)"/>
<ellipse cx="319.3" cy="996.6" rx="12.7" ry="12.2" fill="url(#nc)"/>
<ellipse cx="296" cy="1003" rx="10.2" ry="11.4" fill="url(#nc)"/>
<ellipse cx="306.6" cy="1013.6" rx="10.7" ry="8.9" fill="url(#nc)"/>
<line x1="339.4" y1="1006.8" x2="436.5" y2="1006.8" stroke="#fff" stroke-width="1.7"/>
<text x="388" y="1015" font-size="6.5" fill="#bbb" text-anchor="middle">100 um</text>
<text x="116.9" y="723.2" font-size="32" font-weight="bold" fill="#fff" textLength="87.9" lengthAdjust="spacing" word-spacing="-3">Vehicle</text>
</g>
<g clip-path="url(#cpC2)">
<rect x="497" y="676" width="342.5" height="342.5" fill="#030128"/>
<g opacity="0.55"><clipPath id="cd560"><ellipse cx="605.7" cy="706.3" rx="40.3" ry="19.1" transform="rotate(-20 605.7 706.3)"/></clipPath><ellipse cx="605.7" cy="706.3" rx="40.3" ry="19.1" transform="rotate(-20 605.7 706.3)" fill="url(#rh)" opacity="0.55"/><g clip-path="url(#cd560)"><rect x="497" y="676" width="342.5" height="342.5" filter="url(#txR)"/></g></g>
<g opacity="0.6"><clipPath id="cd760"><ellipse cx="648.1" cy="795.3" rx="55.1" ry="27.6" transform="rotate(5 648.1 795.3)"/></clipPath><ellipse cx="648.1" cy="795.3" rx="55.1" ry="27.6" transform="rotate(5 648.1 795.3)" fill="url(#rh)" opacity="0.55"/><g clip-path="url(#cd760)"><rect x="497" y="676" width="342.5" height="342.5" filter="url(#txR)"/></g></g>
<g opacity="0.6"><clipPath id="cd870"><ellipse cx="671.4" cy="863.1" rx="17" ry="48.7" transform="rotate(30 671.4 863.1)"/></clipPath><ellipse cx="671.4" cy="863.1" rx="17" ry="48.7" transform="rotate(30 671.4 863.1)" fill="url(#rh)" opacity="0.55"/><g clip-path="url(#cd870)"><rect x="497" y="676" width="342.5" height="342.5" filter="url(#txR)"/></g></g>
<g opacity="0.35"><clipPath id="cd1000"><ellipse cx="699" cy="827.1" rx="25.4" ry="12.7" transform="rotate(-30 699 827.1)"/></clipPath><ellipse cx="699" cy="827.1" rx="25.4" ry="12.7" transform="rotate(-30 699 827.1)" fill="url(#rh)" opacity="0.55"/><g clip-path="url(#cd1000)"><rect x="497" y="676" width="342.5" height="342.5" filter="url(#txR)"/></g></g>
<clipPath id="cc150_880"><path d="M541.2 852.1Q545.8 857.3 539.7 860.5Q533.5 863.8 528 865.3Q522.5 866.8 515.7 866.9Q508.9 866.9 503.9 862.8Q498.8 858.8 498.7 853.9Q498.6 849 500.8 844.7Q503 840.4 508.5 837.1Q514 833.8 520.5 837.1Q527.1 840.5 531.8 843.7Q536.6 846.9 541.2 852.1Z"/></clipPath>
<path d="M541.2 852.1Q545.8 857.3 539.7 860.5Q533.5 863.8 528 865.3Q522.5 866.8 515.7 866.9Q508.9 866.9 503.9 862.8Q498.8 858.8 498.7 853.9Q498.6 849 500.8 844.7Q503 840.4 508.5 837.1Q514 833.8 520.5 837.1Q527.1 840.5 531.8 843.7Q536.6 846.9 541.2 852.1Z" fill="#2c0a10"/>
<g clip-path="url(#cc150_880)"><rect x="490.2" y="823.9" width="57.2" height="57.2" filter="url(#txR)" opacity="0.85"/></g>
<path d="M541.2 852.1Q545.8 857.3 539.7 860.5Q533.5 863.8 528 865.3Q522.5 866.8 515.7 866.9Q508.9 866.9 503.9 862.8Q498.8 858.8 498.7 853.9Q498.6 849 500.8 844.7Q503 840.4 508.5 837.1Q514 833.8 520.5 837.1Q527.1 840.5 531.8 843.7Q536.6 846.9 541.2 852.1Z" fill="none" stroke="#72d82a" stroke-width="2.8" filter="url(#b1)" opacity="0.95"/>
<ellipse cx="516.7" cy="850.4" rx="9.3" ry="8.9" fill="url(#nc)"/>
<clipPath id="cc365_745"><path d="M602.8 817Q604.7 819.7 600.1 822.5Q595.5 825.4 587.1 828.3Q578.6 831.2 565.1 832.8Q551.6 834.3 545 832.5Q538.4 830.7 531.2 829.4Q524 828.1 524.4 825.1Q524.9 822 537.8 819.5Q550.8 816.9 562.9 816.1Q575.1 815.2 588 814.7Q600.9 814.3 602.8 817Z"/></clipPath>
<path d="M602.8 817Q604.7 819.7 600.1 822.5Q595.5 825.4 587.1 828.3Q578.6 831.2 565.1 832.8Q551.6 834.3 545 832.5Q538.4 830.7 531.2 829.4Q524 828.1 524.4 825.1Q524.9 822 537.8 819.5Q550.8 816.9 562.9 816.1Q575.1 815.2 588 814.7Q600.9 814.3 602.8 817Z" fill="#2c0a10"/>
<g clip-path="url(#cc365_745)"><rect x="515.6" y="775.2" width="97.5" height="97.5" filter="url(#txR)" opacity="0.85"/></g>
<path d="M602.8 817Q604.7 819.7 600.1 822.5Q595.5 825.4 587.1 828.3Q578.6 831.2 565.1 832.8Q551.6 834.3 545 832.5Q538.4 830.7 531.2 829.4Q524 828.1 524.4 825.1Q524.9 822 537.8 819.5Q550.8 816.9 562.9 816.1Q575.1 815.2 588 814.7Q600.9 814.3 602.8 817Z" fill="none" stroke="#72d82a" stroke-width="2.8" filter="url(#b1)" opacity="0.95"/>
<ellipse cx="576" cy="823.3" rx="8.4" ry="6.5" fill="url(#nc)"/>
<clipPath id="cc550_860"><path d="M625.7 835.5Q631.9 838 627.1 843.8Q622.4 849.5 618.3 853.7Q614.2 857.8 607.6 861.9Q601.1 865.9 594 865.1Q587 864.2 586 859.6Q584.9 855.1 582.5 850.9Q580.2 846.7 585.2 841.5Q590.2 836.3 597.9 835.2Q605.6 834.2 612.5 833.6Q619.5 833 625.7 835.5Z"/></clipPath>
<path d="M625.7 835.5Q631.9 838 627.1 843.8Q622.4 849.5 618.3 853.7Q614.2 857.8 607.6 861.9Q601.1 865.9 594 865.1Q587 864.2 586 859.6Q584.9 855.1 582.5 850.9Q580.2 846.7 585.2 841.5Q590.2 836.3 597.9 835.2Q605.6 834.2 612.5 833.6Q619.5 833 625.7 835.5Z" fill="#2c0a10"/>
<g clip-path="url(#cc550_860)"><rect x="572.8" y="817.5" width="61.5" height="61.5" filter="url(#txR)" opacity="0.85"/></g>
<path d="M625.7 835.5Q631.9 838 627.1 843.8Q622.4 849.5 618.3 853.7Q614.2 857.8 607.6 861.9Q601.1 865.9 594 865.1Q587 864.2 586 859.6Q584.9 855.1 582.5 850.9Q580.2 846.7 585.2 841.5Q590.2 836.3 597.9 835.2Q605.6 834.2 612.5 833.6Q619.5 833 625.7 835.5Z" fill="none" stroke="#72d82a" stroke-width="2.8" filter="url(#b1)" opacity="0.95"/>
<ellipse cx="602.5" cy="848.3" rx="8.4" ry="7.5" fill="url(#nc)"/>
<clipPath id="cc700_910"><path d="M651.9 857.8Q647.5 865.3 643.1 870.2Q638.7 875.1 632.5 881.9Q626.3 888.8 622.6 884Q618.9 879.2 619.7 872.1Q620.5 865 619.9 857.7Q619.2 850.3 625 843.5Q630.8 836.7 636.4 836.8Q642 837 647.1 837.5Q652.2 838.1 654.3 844.2Q656.3 850.2 651.9 857.8Z"/></clipPath>
<path d="M651.9 857.8Q647.5 865.3 643.1 870.2Q638.7 875.1 632.5 881.9Q626.3 888.8 622.6 884Q618.9 879.2 619.7 872.1Q620.5 865 619.9 857.7Q619.2 850.3 625 843.5Q630.8 836.7 636.4 836.8Q642 837 647.1 837.5Q652.2 838.1 654.3 844.2Q656.3 850.2 651.9 857.8Z" fill="#2c0a10"/>
<g clip-path="url(#cc700_910)"><rect x="613.1" y="826" width="65.7" height="65.7" filter="url(#txR)" opacity="0.85"/></g>
<path d="M651.9 857.8Q647.5 865.3 643.1 870.2Q638.7 875.1 632.5 881.9Q626.3 888.8 622.6 884Q618.9 879.2 619.7 872.1Q620.5 865 619.9 857.7Q619.2 850.3 625 843.5Q630.8 836.7 636.4 836.8Q642 837 647.1 837.5Q652.2 838.1 654.3 844.2Q656.3 850.2 651.9 857.8Z" fill="none" stroke="#72d82a" stroke-width="2.8" filter="url(#b1)" opacity="0.95"/>
<ellipse cx="633.2" cy="858.9" rx="8.9" ry="9.3" fill="url(#nc)"/>
<clipPath id="cc470_1060"><path d="M607.8 877.6Q613.8 880.8 609.1 886.8Q604.4 892.8 601.8 898Q599.2 903.2 592.1 906.7Q584.9 910.1 578.4 908.2Q571.9 906.4 568.9 902.3Q565.8 898.2 563 892.9Q560.2 887.5 566.5 882.2Q572.8 876.9 580.4 876.3Q587.9 875.8 594.9 875.1Q601.8 874.4 607.8 877.6Z"/></clipPath>
<path d="M607.8 877.6Q613.8 880.8 609.1 886.8Q604.4 892.8 601.8 898Q599.2 903.2 592.1 906.7Q584.9 910.1 578.4 908.2Q571.9 906.4 568.9 902.3Q565.8 898.2 563 892.9Q560.2 887.5 566.5 882.2Q572.8 876.9 580.4 876.3Q587.9 875.8 594.9 875.1Q601.8 874.4 607.8 877.6Z" fill="#2c0a10"/>
<g clip-path="url(#cc470_1060)"><rect x="555.9" y="859.9" width="61.5" height="61.5" filter="url(#txR)" opacity="0.85"/></g>
<path d="M607.8 877.6Q613.8 880.8 609.1 886.8Q604.4 892.8 601.8 898Q599.2 903.2 592.1 906.7Q584.9 910.1 578.4 908.2Q571.9 906.4 568.9 902.3Q565.8 898.2 563 892.9Q560.2 887.5 566.5 882.2Q572.8 876.9 580.4 876.3Q587.9 875.8 594.9 875.1Q601.8 874.4 607.8 877.6Z" fill="none" stroke="#72d82a" stroke-width="2.8" filter="url(#b1)" opacity="0.95"/>
<ellipse cx="585.6" cy="892.8" rx="8.4" ry="8.4" fill="url(#nc)"/>
<clipPath id="cc95_1170"><path d="M520 901.5Q526.3 907 527.1 916.5Q527.8 926 523.2 929.5Q518.6 933 515.3 939.3Q512.1 945.7 505.2 941.9Q498.4 938.2 495.1 928.9Q491.9 919.5 490.6 911.6Q489.3 903.7 489.9 895Q490.5 886.4 496.9 887.8Q503.3 889.2 508.5 892.6Q513.7 895.9 520 901.5Z"/></clipPath>
<path d="M520 901.5Q526.3 907 527.1 916.5Q527.8 926 523.2 929.5Q518.6 933 515.3 939.3Q512.1 945.7 505.2 941.9Q498.4 938.2 495.1 928.9Q491.9 919.5 490.6 911.6Q489.3 903.7 489.9 895Q490.5 886.4 496.9 887.8Q503.3 889.2 508.5 892.6Q513.7 895.9 520 901.5Z" fill="#2c0a10"/>
<g clip-path="url(#cc95_1170)"><rect x="482.8" y="878" width="72.1" height="72.1" filter="url(#txR)" opacity="0.85"/></g>
<path d="M520 901.5Q526.3 907 527.1 916.5Q527.8 926 523.2 929.5Q518.6 933 515.3 939.3Q512.1 945.7 505.2 941.9Q498.4 938.2 495.1 928.9Q491.9 919.5 490.6 911.6Q489.3 903.7 489.9 895Q490.5 886.4 496.9 887.8Q503.3 889.2 508.5 892.6Q513.7 895.9 520 901.5Z" fill="none" stroke="#72d82a" stroke-width="2.8" filter="url(#b1)" opacity="0.95"/>
<ellipse cx="507.1" cy="916.1" rx="8.4" ry="8.9" fill="url(#nc)"/>
<clipPath id="cc550_1240"><path d="M635.1 903.3Q645.7 904.5 641.4 914.3Q637 924 630.8 932.3Q624.5 940.6 613.9 950.2Q603.3 959.8 592.2 958.5Q581.2 957.3 577.2 951.8Q573.3 946.3 570 940.2Q566.6 934.2 572.2 924.2Q577.9 914.3 590.9 909.5Q603.8 904.7 614.2 903.4Q624.6 902.2 635.1 903.3Z"/></clipPath>
<path d="M635.1 903.3Q645.7 904.5 641.4 914.3Q637 924 630.8 932.3Q624.5 940.6 613.9 950.2Q603.3 959.8 592.2 958.5Q581.2 957.3 577.2 951.8Q573.3 946.3 570 940.2Q566.6 934.2 572.2 924.2Q577.9 914.3 590.9 909.5Q603.8 904.7 614.2 903.4Q624.6 902.2 635.1 903.3Z" fill="#2c0a10"/>
<g clip-path="url(#cc550_1240)"><rect x="554.8" y="880.1" width="97.5" height="97.5" filter="url(#txR)" opacity="0.85"/></g>
<path d="M635.1 903.3Q645.7 904.5 641.4 914.3Q637 924 630.8 932.3Q624.5 940.6 613.9 950.2Q603.3 959.8 592.2 958.5Q581.2 957.3 577.2 951.8Q573.3 946.3 570 940.2Q566.6 934.2 572.2 924.2Q577.9 914.3 590.9 909.5Q603.8 904.7 614.2 903.4Q624.6 902.2 635.1 903.3Z" fill="none" stroke="#72d82a" stroke-width="2.8" filter="url(#b1)" opacity="0.95"/>
<ellipse cx="607.8" cy="923.5" rx="8.9" ry="8.4" fill="url(#nc)"/>
<ellipse cx="617.4" cy="934.1" rx="8.4" ry="7.9" fill="url(#nc)"/>
<clipPath id="cc140_1450"><path d="M535.4 980.7Q531.1 985.5 527.1 990.1Q523 994.7 515.5 995.7Q508 996.7 504.6 989.5Q501.2 982.4 498.7 976.7Q496.2 971 496.2 963.5Q496.2 956.1 503.5 955.1Q510.9 954 517 955Q523.1 955.9 530.3 958.5Q537.5 961.1 538.6 968.5Q539.6 976 535.4 980.7Z"/></clipPath>
<path d="M535.4 980.7Q531.1 985.5 527.1 990.1Q523 994.7 515.5 995.7Q508 996.7 504.6 989.5Q501.2 982.4 498.7 976.7Q496.2 971 496.2 963.5Q496.2 956.1 503.5 955.1Q510.9 954 517 955Q523.1 955.9 530.3 958.5Q537.5 961.1 538.6 968.5Q539.6 976 535.4 980.7Z" fill="#2c0a10"/>
<g clip-path="url(#cc140_1450)"><rect x="487" y="943.7" width="59.3" height="59.3" filter="url(#txR)" opacity="0.85"/></g>
<path d="M535.4 980.7Q531.1 985.5 527.1 990.1Q523 994.7 515.5 995.7Q508 996.7 504.6 989.5Q501.2 982.4 498.7 976.7Q496.2 971 496.2 963.5Q496.2 956.1 503.5 955.1Q510.9 954 517 955Q523.1 955.9 530.3 958.5Q537.5 961.1 538.6 968.5Q539.6 976 535.4 980.7Z" fill="none" stroke="#72d82a" stroke-width="2.8" filter="url(#b1)" opacity="0.95"/>
<ellipse cx="510.3" cy="973.3" rx="8.4" ry="8.4" fill="url(#nc)"/>
<clipPath id="cc480_1550"><path d="M625.2 1006.5Q620.1 1011.2 614.3 1013.1Q608.5 1015 600.2 1016.1Q591.9 1017.2 581.3 1010.3Q570.7 1003.3 565.4 996.4Q560.1 989.5 555.6 982Q551 974.5 556.1 970.3Q561.3 966.1 573.8 971.4Q586.2 976.6 597.2 980.8Q608.2 985 619.2 993.4Q630.3 1001.9 625.2 1006.5Z"/></clipPath>
<path d="M625.2 1006.5Q620.1 1011.2 614.3 1013.1Q608.5 1015 600.2 1016.1Q591.9 1017.2 581.3 1010.3Q570.7 1003.3 565.4 996.4Q560.1 989.5 555.6 982Q551 974.5 556.1 970.3Q561.3 966.1 573.8 971.4Q586.2 976.6 597.2 980.8Q608.2 985 619.2 993.4Q630.3 1001.9 625.2 1006.5Z" fill="#2c0a10"/>
<g clip-path="url(#cc480_1550)"><rect x="542.1" y="947.9" width="93.3" height="93.3" filter="url(#txR)" opacity="0.85"/></g>
<path d="M625.2 1006.5Q620.1 1011.2 614.3 1013.1Q608.5 1015 600.2 1016.1Q591.9 1017.2 581.3 1010.3Q570.7 1003.3 565.4 996.4Q560.1 989.5 555.6 982Q551 974.5 556.1 970.3Q561.3 966.1 573.8 971.4Q586.2 976.6 597.2 980.8Q608.2 985 619.2 993.4Q630.3 1001.9 625.2 1006.5Z" fill="none" stroke="#72d82a" stroke-width="2.8" filter="url(#b1)" opacity="0.95"/>
<ellipse cx="614.2" cy="992.4" rx="8.4" ry="7.9" fill="url(#nc)"/>
<ellipse cx="591.9" cy="1001.9" rx="7.5" ry="7" fill="url(#nc)"/>
<clipPath id="cc870_1410"><path d="M698.6 970.3Q703.1 975.2 699.8 978.6Q696.5 982.1 686.4 980.1Q676.4 978.1 667.1 976Q657.7 973.8 647.4 968.9Q637.1 963.9 639.5 959.6Q641.9 955.3 645.4 952.4Q648.9 949.4 657 948.8Q665.1 948.3 675.9 951.5Q686.7 954.8 690.4 960.1Q694.1 965.5 698.6 970.3Z"/></clipPath>
<path d="M698.6 970.3Q703.1 975.2 699.8 978.6Q696.5 982.1 686.4 980.1Q676.4 978.1 667.1 976Q657.7 973.8 647.4 968.9Q637.1 963.9 639.5 959.6Q641.9 955.3 645.4 952.4Q648.9 949.4 657 948.8Q665.1 948.3 675.9 951.5Q686.7 954.8 690.4 960.1Q694.1 965.5 698.6 970.3Z" fill="#2c0a10"/>
<g clip-path="url(#cc870_1410)"><rect x="631.1" y="924.6" width="80.5" height="80.5" filter="url(#txR)" opacity="0.85"/></g>
<path d="M698.6 970.3Q703.1 975.2 699.8 978.6Q696.5 982.1 686.4 980.1Q676.4 978.1 667.1 976Q657.7 973.8 647.4 968.9Q637.1 963.9 639.5 959.6Q641.9 955.3 645.4 952.4Q648.9 949.4 657 948.8Q665.1 948.3 675.9 951.5Q686.7 954.8 690.4 960.1Q694.1 965.5 698.6 970.3Z" fill="none" stroke="#72d82a" stroke-width="2.8" filter="url(#b1)" opacity="0.95"/>
<ellipse cx="673.5" cy="967" rx="8.9" ry="7.9" fill="url(#nc)"/>
<clipPath id="cc880_1580"><path d="M702.3 999.9Q702.5 1005 704.7 1011.8Q706.9 1018.6 694.8 1019.6Q682.7 1020.6 672 1017.9Q661.2 1015.1 650.9 1011.5Q640.6 1007.9 638.1 1001.7Q635.6 995.6 641.8 991.4Q648 987.3 656.6 985.2Q665.2 983 676.7 983.5Q688.2 984.1 695.2 989.4Q702.2 994.8 702.3 999.9Z"/></clipPath>
<path d="M702.3 999.9Q702.5 1005 704.7 1011.8Q706.9 1018.6 694.8 1019.6Q682.7 1020.6 672 1017.9Q661.2 1015.1 650.9 1011.5Q640.6 1007.9 638.1 1001.7Q635.6 995.6 641.8 991.4Q648 987.3 656.6 985.2Q665.2 983 676.7 983.5Q688.2 984.1 695.2 989.4Q702.2 994.8 702.3 999.9Z" fill="#2c0a10"/>
<g clip-path="url(#cc880_1580)"><rect x="631.1" y="958.5" width="84.8" height="84.8" filter="url(#txR)" opacity="0.85"/></g>
<path d="M702.3 999.9Q702.5 1005 704.7 1011.8Q706.9 1018.6 694.8 1019.6Q682.7 1020.6 672 1017.9Q661.2 1015.1 650.9 1011.5Q640.6 1007.9 638.1 1001.7Q635.6 995.6 641.8 991.4Q648 987.3 656.6 985.2Q665.2 983 676.7 983.5Q688.2 984.1 695.2 989.4Q702.2 994.8 702.3 999.9Z" fill="none" stroke="#72d82a" stroke-width="2.8" filter="url(#b1)" opacity="0.95"/>
<ellipse cx="669.3" cy="1000.9" rx="8.4" ry="9.3" fill="url(#nc)"/>
<clipPath id="cc1120_1440"><path d="M736.1 961.3Q734.9 972.7 731.9 980.2Q728.9 987.8 726 996.2Q723.1 1004.6 719.5 1005.4Q715.8 1006.1 715.4 996.5Q714.9 986.8 714.7 978.3Q714.6 969.8 716.2 958.6Q717.9 947.3 721.7 943.9Q725.6 940.6 728.6 941.1Q731.6 941.7 734.5 945.8Q737.3 949.9 736.1 961.3Z"/></clipPath>
<path d="M736.1 961.3Q734.9 972.7 731.9 980.2Q728.9 987.8 726 996.2Q723.1 1004.6 719.5 1005.4Q715.8 1006.1 715.4 996.5Q714.9 986.8 714.7 978.3Q714.6 969.8 716.2 958.6Q717.9 947.3 721.7 943.9Q725.6 940.6 728.6 941.1Q731.6 941.7 734.5 945.8Q737.3 949.9 736.1 961.3Z" fill="#2c0a10"/>
<g clip-path="url(#cc1120_1440)"><rect x="707.4" y="930.9" width="80.5" height="80.5" filter="url(#txR)" opacity="0.85"/></g>
<path d="M736.1 961.3Q734.9 972.7 731.9 980.2Q728.9 987.8 726 996.2Q723.1 1004.6 719.5 1005.4Q715.8 1006.1 715.4 996.5Q714.9 986.8 714.7 978.3Q714.6 969.8 716.2 958.6Q717.9 947.3 721.7 943.9Q725.6 940.6 728.6 941.1Q731.6 941.7 734.5 945.8Q737.3 949.9 736.1 961.3Z" fill="none" stroke="#72d82a" stroke-width="2.8" filter="url(#b1)" opacity="0.95"/>
<ellipse cx="724.4" cy="973.3" rx="7" ry="9.3" fill="url(#nc)"/>
<clipPath id="cc1010_1230"><path d="M719.8 914.9Q723.6 918.5 720.4 923.4Q717.1 928.3 714.4 932.7Q711.7 937 705.5 940.8Q699.2 944.6 694.2 941.7Q689.2 938.9 685.4 936.4Q681.5 933.8 679.5 929.1Q677.5 924.3 683.5 919.9Q689.5 915.5 695.9 915.1Q702.3 914.7 709.1 913Q715.9 911.4 719.8 914.9Z"/></clipPath>
<path d="M719.8 914.9Q723.6 918.5 720.4 923.4Q717.1 928.3 714.4 932.7Q711.7 937 705.5 940.8Q699.2 944.6 694.2 941.7Q689.2 938.9 685.4 936.4Q681.5 933.8 679.5 929.1Q677.5 924.3 683.5 919.9Q689.5 915.5 695.9 915.1Q702.3 914.7 709.1 913Q715.9 911.4 719.8 914.9Z" fill="#2c0a10"/>
<g clip-path="url(#cc1010_1230)"><rect x="672.5" y="898.1" width="57.2" height="57.2" filter="url(#txR)" opacity="0.85"/></g>
<path d="M719.8 914.9Q723.6 918.5 720.4 923.4Q717.1 928.3 714.4 932.7Q711.7 937 705.5 940.8Q699.2 944.6 694.2 941.7Q689.2 938.9 685.4 936.4Q681.5 933.8 679.5 929.1Q677.5 924.3 683.5 919.9Q689.5 915.5 695.9 915.1Q702.3 914.7 709.1 913Q715.9 911.4 719.8 914.9Z" fill="none" stroke="#72d82a" stroke-width="2.8" filter="url(#b1)" opacity="0.95"/>
<ellipse cx="705.3" cy="924.6" rx="8.4" ry="8.4" fill="url(#nc)"/>
<clipPath id="cc940_1110"><path d="M710.9 884.3Q714.1 888.3 712.2 893.6Q710.3 898.9 706.1 904.8Q701.9 910.7 692.5 915.6Q683.2 920.4 676.1 919.3Q669 918.1 665.3 915.4Q661.6 912.8 659.3 908.5Q657 904.2 664.5 898.5Q672.1 892.7 680.3 889.4Q688.6 886.1 698.2 883.2Q707.8 880.2 710.9 884.3Z"/></clipPath>
<path d="M710.9 884.3Q714.1 888.3 712.2 893.6Q710.3 898.9 706.1 904.8Q701.9 910.7 692.5 915.6Q683.2 920.4 676.1 919.3Q669 918.1 665.3 915.4Q661.6 912.8 659.3 908.5Q657 904.2 664.5 898.5Q672.1 892.7 680.3 889.4Q688.6 886.1 698.2 883.2Q707.8 880.2 710.9 884.3Z" fill="#2c0a10"/>
<g clip-path="url(#cc940_1110)"><rect x="649.1" y="864.2" width="74.2" height="74.2" filter="url(#txR)" opacity="0.85"/></g>
<path d="M710.9 884.3Q714.1 888.3 712.2 893.6Q710.3 898.9 706.1 904.8Q701.9 910.7 692.5 915.6Q683.2 920.4 676.1 919.3Q669 918.1 665.3 915.4Q661.6 912.8 659.3 908.5Q657 904.2 664.5 898.5Q672.1 892.7 680.3 889.4Q688.6 886.1 698.2 883.2Q707.8 880.2 710.9 884.3Z" fill="none" stroke="#72d82a" stroke-width="2.8" filter="url(#b1)" opacity="0.95"/>
<ellipse cx="683.1" cy="901.3" rx="8.4" ry="7.5" fill="url(#nc)"/>
<clipPath id="cc1000_970"><path d="M712.4 869Q715.2 871.6 714.9 875.4Q714.6 879.2 709.1 880.1Q703.6 881.1 698.9 881.3Q694.1 881.5 688.6 880.4Q683.1 879.3 683.5 875.4Q683.9 871.6 686.2 869Q688.4 866.5 691 863.5Q693.5 860.4 699.1 860.1Q704.7 859.9 707.1 863.2Q709.6 866.5 712.4 869Z"/></clipPath>
<path d="M712.4 869Q715.2 871.6 714.9 875.4Q714.6 879.2 709.1 880.1Q703.6 881.1 698.9 881.3Q694.1 881.5 688.6 880.4Q683.1 879.3 683.5 875.4Q683.9 871.6 686.2 869Q688.4 866.5 691 863.5Q693.5 860.4 699.1 860.1Q704.7 859.9 707.1 863.2Q709.6 866.5 712.4 869Z" fill="#2c0a10"/>
<g clip-path="url(#cc1000_970)"><rect x="676.7" y="849.3" width="44.5" height="44.5" filter="url(#txR)" opacity="0.85"/></g>
<path d="M712.4 869Q715.2 871.6 714.9 875.4Q714.6 879.2 709.1 880.1Q703.6 881.1 698.9 881.3Q694.1 881.5 688.6 880.4Q683.1 879.3 683.5 875.4Q683.9 871.6 686.2 869Q688.4 866.5 691 863.5Q693.5 860.4 699.1 860.1Q704.7 859.9 707.1 863.2Q709.6 866.5 712.4 869Z" fill="none" stroke="#72d82a" stroke-width="2.8" filter="url(#b1)" opacity="0.95"/>
<ellipse cx="701.1" cy="870.5" rx="7.9" ry="7" fill="url(#nc)"/>
<clipPath id="cc1160_980"><path d="M755.9 864Q759.9 868.9 760.4 875.9Q760.8 882.8 752.6 886.7Q744.3 890.7 736.2 891.8Q728.1 892.8 718.9 892.3Q709.6 891.9 707.3 885.2Q705 878.6 708.2 872.7Q711.4 866.7 716.3 861.6Q721.2 856.5 729.9 853.8Q738.5 851.1 745.1 855Q751.8 859 755.9 864Z"/></clipPath>
<path d="M755.9 864Q759.9 868.9 760.4 875.9Q760.8 882.8 752.6 886.7Q744.3 890.7 736.2 891.8Q728.1 892.8 718.9 892.3Q709.6 891.9 707.3 885.2Q705 878.6 708.2 872.7Q711.4 866.7 716.3 861.6Q721.2 856.5 729.9 853.8Q738.5 851.1 745.1 855Q751.8 859 755.9 864Z" fill="#2c0a10"/>
<g clip-path="url(#cc1160_980)"><rect x="699" y="839.8" width="67.8" height="67.8" filter="url(#txR)" opacity="0.85"/></g>
<path d="M755.9 864Q759.9 868.9 760.4 875.9Q760.8 882.8 752.6 886.7Q744.3 890.7 736.2 891.8Q728.1 892.8 718.9 892.3Q709.6 891.9 707.3 885.2Q705 878.6 708.2 872.7Q711.4 866.7 716.3 861.6Q721.2 856.5 729.9 853.8Q738.5 851.1 745.1 855Q751.8 859 755.9 864Z" fill="none" stroke="#72d82a" stroke-width="2.8" filter="url(#b1)" opacity="0.95"/>
<ellipse cx="724.4" cy="867.4" rx="8.4" ry="8.4" fill="url(#nc)"/>
<clipPath id="cc1265_830"><path d="M767.4 835.5Q766.5 843.9 765.1 853.7Q763.7 863.5 758.9 868.5Q754.2 873.5 750.5 870.3Q746.8 867 743.4 863Q739.9 859 739.4 849Q738.8 839 743.4 831.5Q748 824 752 818.2Q756 812.4 761 810.7Q766 808.9 767.2 818Q768.3 827.1 767.4 835.5Z"/></clipPath>
<path d="M767.4 835.5Q766.5 843.9 765.1 853.7Q763.7 863.5 758.9 868.5Q754.2 873.5 750.5 870.3Q746.8 867 743.4 863Q739.9 859 739.4 849Q738.8 839 743.4 831.5Q748 824 752 818.2Q756 812.4 761 810.7Q766 808.9 767.2 818Q768.3 827.1 767.4 835.5Z" fill="#2c0a10"/>
<g clip-path="url(#cc1265_830)"><rect x="735" y="804.8" width="74.2" height="74.2" filter="url(#txR)" opacity="0.85"/></g>
<path d="M767.4 835.5Q766.5 843.9 765.1 853.7Q763.7 863.5 758.9 868.5Q754.2 873.5 750.5 870.3Q746.8 867 743.4 863Q739.9 859 739.4 849Q738.8 839 743.4 831.5Q748 824 752 818.2Q756 812.4 761 810.7Q766 808.9 767.2 818Q768.3 827.1 767.4 835.5Z" fill="none" stroke="#72d82a" stroke-width="2.8" filter="url(#b1)" opacity="0.95"/>
<ellipse cx="753" cy="848.3" rx="7.9" ry="7.9" fill="url(#nc)"/>
<clipPath id="cc1380_930"><path d="M789.5 850.7Q789.7 863.5 787.5 872.6Q785.4 881.8 783.4 891.6Q781.4 901.4 778.1 901.6Q774.9 901.9 773.7 891.3Q772.6 880.7 771.4 871.7Q770.3 862.8 771 850.6Q771.7 838.4 774.8 833.8Q777.9 829.2 780.3 832.1Q782.8 835.1 786.1 836.5Q789.4 838 789.5 850.7Z"/></clipPath>
<path d="M789.5 850.7Q789.7 863.5 787.5 872.6Q785.4 881.8 783.4 891.6Q781.4 901.4 778.1 901.6Q774.9 901.9 773.7 891.3Q772.6 880.7 771.4 871.7Q770.3 862.8 771 850.6Q771.7 838.4 774.8 833.8Q777.9 829.2 780.3 832.1Q782.8 835.1 786.1 836.5Q789.4 838 789.5 850.7Z" fill="#2c0a10"/>
<g clip-path="url(#cc1380_930)"><rect x="763.6" y="819.7" width="86.9" height="86.9" filter="url(#txR)" opacity="0.85"/></g>
<path d="M789.5 850.7Q789.7 863.5 787.5 872.6Q785.4 881.8 783.4 891.6Q781.4 901.4 778.1 901.6Q774.9 901.9 773.7 891.3Q772.6 880.7 771.4 871.7Q770.3 862.8 771 850.6Q771.7 838.4 774.8 833.8Q777.9 829.2 780.3 832.1Q782.8 835.1 786.1 836.5Q789.4 838 789.5 850.7Z" fill="none" stroke="#72d82a" stroke-width="2.8" filter="url(#b1)" opacity="0.95"/>
<ellipse cx="776.3" cy="856.8" rx="7.5" ry="8.9" fill="url(#nc)"/>
<clipPath id="cc1490_860"><path d="M811.6 840.3Q814.5 845.8 813.9 851.8Q813.4 857.9 811.3 861.1Q809.2 864.3 806.4 867Q803.7 869.8 800 866.3Q796.4 862.8 795.3 856.5Q794.2 850.1 792.8 844.1Q791.4 838 792.9 832.4Q794.3 826.8 798.2 828.8Q802.1 830.7 805.5 832.7Q808.8 834.7 811.6 840.3Z"/></clipPath>
<path d="M811.6 840.3Q814.5 845.8 813.9 851.8Q813.4 857.9 811.3 861.1Q809.2 864.3 806.4 867Q803.7 869.8 800 866.3Q796.4 862.8 795.3 856.5Q794.2 850.1 792.8 844.1Q791.4 838 792.9 832.4Q794.3 826.8 798.2 828.8Q802.1 830.7 805.5 832.7Q808.8 834.7 811.6 840.3Z" fill="#2c0a10"/>
<g clip-path="url(#cc1490_860)"><rect x="785.9" y="821.8" width="53" height="53" filter="url(#txR)" opacity="0.85"/></g>
<path d="M811.6 840.3Q814.5 845.8 813.9 851.8Q813.4 857.9 811.3 861.1Q809.2 864.3 806.4 867Q803.7 869.8 800 866.3Q796.4 862.8 795.3 856.5Q794.2 850.1 792.8 844.1Q791.4 838 792.9 832.4Q794.3 826.8 798.2 828.8Q802.1 830.7 805.5 832.7Q808.8 834.7 811.6 840.3Z" fill="none" stroke="#72d82a" stroke-width="2.8" filter="url(#b1)" opacity="0.95"/>
<ellipse cx="802.8" cy="852.5" rx="7.5" ry="7.5" fill="url(#nc)"/>
<clipPath id="cc830_810"><path d="M682.6 837.3Q683.4 845.1 677.5 850Q671.6 854.9 666.2 856.8Q660.8 858.7 654.7 858.7Q648.7 858.7 645.8 852.5Q642.8 846.3 645.4 839.3Q647.9 832.2 650.8 825.7Q653.6 819.3 659.6 815.3Q665.6 811.4 670.1 815.9Q674.7 820.3 678.2 825Q681.8 829.6 682.6 837.3Z"/></clipPath>
<path d="M682.6 837.3Q683.4 845.1 677.5 850Q671.6 854.9 666.2 856.8Q660.8 858.7 654.7 858.7Q648.7 858.7 645.8 852.5Q642.8 846.3 645.4 839.3Q647.9 832.2 650.8 825.7Q653.6 819.3 659.6 815.3Q665.6 811.4 670.1 815.9Q674.7 820.3 678.2 825Q681.8 829.6 682.6 837.3Z" fill="#2c0a10"/>
<g clip-path="url(#cc830_810)"><rect x="638.5" y="808" width="59.3" height="59.3" filter="url(#txR)" opacity="0.85"/></g>
<path d="M682.6 837.3Q683.4 845.1 677.5 850Q671.6 854.9 666.2 856.8Q660.8 858.7 654.7 858.7Q648.7 858.7 645.8 852.5Q642.8 846.3 645.4 839.3Q647.9 832.2 650.8 825.7Q653.6 819.3 659.6 815.3Q665.6 811.4 670.1 815.9Q674.7 820.3 678.2 825Q681.8 829.6 682.6 837.3Z" fill="none" stroke="#72d82a" stroke-width="2.8" filter="url(#b1)" opacity="0.95"/>
<ellipse cx="660.8" cy="848.3" rx="8.4" ry="8.4" fill="url(#nc)"/>
<ellipse cx="666.1" cy="869.5" rx="7" ry="12.8" fill="url(#nc)"/>
<clipPath id="cc1590_1240"><path d="M838.9 916.4Q843.6 917.5 845 921.8Q846.4 926.2 841.6 931.4Q836.8 936.5 830.5 939.3Q824.3 942.1 817.7 944Q811.2 946 806.8 943.6Q802.4 941.3 804 936.2Q805.6 931 807.9 925.7Q810.1 920.4 816.9 915.6Q823.6 910.7 828.9 913Q834.1 915.3 838.9 916.4Z"/></clipPath>
<path d="M838.9 916.4Q843.6 917.5 845 921.8Q846.4 926.2 841.6 931.4Q836.8 936.5 830.5 939.3Q824.3 942.1 817.7 944Q811.2 946 806.8 943.6Q802.4 941.3 804 936.2Q805.6 931 807.9 925.7Q810.1 920.4 816.9 915.6Q823.6 910.7 828.9 913Q834.1 915.3 838.9 916.4Z" fill="#2c0a10"/>
<g clip-path="url(#cc1590_1240)"><rect x="794.3" y="899.1" width="59.3" height="59.3" filter="url(#txR)" opacity="0.85"/></g>
<path d="M838.9 916.4Q843.6 917.5 845 921.8Q846.4 926.2 841.6 931.4Q836.8 936.5 830.5 939.3Q824.3 942.1 817.7 944Q811.2 946 806.8 943.6Q802.4 941.3 804 936.2Q805.6 931 807.9 925.7Q810.1 920.4 816.9 915.6Q823.6 910.7 828.9 913Q834.1 915.3 838.9 916.4Z" fill="none" stroke="#72d82a" stroke-width="2.8" filter="url(#b1)" opacity="0.95"/>
<ellipse cx="830.4" cy="923.5" rx="8.4" ry="7.9" fill="url(#nc)"/>
<ellipse cx="819.8" cy="933.1" rx="7" ry="6.1" fill="url(#nc)"/>
<clipPath id="cc1610_1540"><path d="M852.5 984.2Q850.3 996.3 846.3 1005.4Q842.3 1014.4 836 1022.6Q829.7 1030.7 823.1 1026Q816.4 1021.4 812.2 1014.7Q807.9 1008 804.8 997.8Q801.7 987.7 806.6 977Q811.5 966.2 819.4 965.3Q827.2 964.4 834.5 961.7Q841.9 959 848.4 965.5Q854.8 972 852.5 984.2Z"/></clipPath>
<path d="M852.5 984.2Q850.3 996.3 846.3 1005.4Q842.3 1014.4 836 1022.6Q829.7 1030.7 823.1 1026Q816.4 1021.4 812.2 1014.7Q807.9 1008 804.8 997.8Q801.7 987.7 806.6 977Q811.5 966.2 819.4 965.3Q827.2 964.4 834.5 961.7Q841.9 959 848.4 965.5Q854.8 972 852.5 984.2Z" fill="#2c0a10"/>
<g clip-path="url(#cc1610_1540)"><rect x="798.6" y="951.1" width="82.7" height="82.7" filter="url(#txR)" opacity="0.85"/></g>
<path d="M852.5 984.2Q850.3 996.3 846.3 1005.4Q842.3 1014.4 836 1022.6Q829.7 1030.7 823.1 1026Q816.4 1021.4 812.2 1014.7Q807.9 1008 804.8 997.8Q801.7 987.7 806.6 977Q811.5 966.2 819.4 965.3Q827.2 964.4 834.5 961.7Q841.9 959 848.4 965.5Q854.8 972 852.5 984.2Z" fill="none" stroke="#72d82a" stroke-width="2.8" filter="url(#b1)" opacity="0.95"/>
<ellipse cx="830.4" cy="1005.1" rx="10.7" ry="9.8" fill="url(#nc)"/>
<clipPath id="cc1310_1650"><path d="M788 1016.9Q787.9 1019.8 786.7 1022.5Q785.5 1025.1 778.9 1026.2Q772.2 1027.3 764.1 1024.7Q756 1022.2 750 1019.7Q744 1017.2 738.6 1013.7Q733.2 1010.2 739.3 1008.7Q745.5 1007.1 752 1006.8Q758.6 1006.4 767 1007Q775.5 1007.6 781.8 1010.8Q788 1014 788 1016.9Z"/></clipPath>
<path d="M788 1016.9Q787.9 1019.8 786.7 1022.5Q785.5 1025.1 778.9 1026.2Q772.2 1027.3 764.1 1024.7Q756 1022.2 750 1019.7Q744 1017.2 738.6 1013.7Q733.2 1010.2 739.3 1008.7Q745.5 1007.1 752 1006.8Q758.6 1006.4 767 1007Q775.5 1007.6 781.8 1010.8Q788 1014 788 1016.9Z" fill="#2c0a10"/>
<g clip-path="url(#cc1310_1650)"><rect x="730.7" y="981.8" width="67.8" height="67.8" filter="url(#txR)" opacity="0.85"/></g>
<path d="M788 1016.9Q787.9 1019.8 786.7 1022.5Q785.5 1025.1 778.9 1026.2Q772.2 1027.3 764.1 1024.7Q756 1022.2 750 1019.7Q744 1017.2 738.6 1013.7Q733.2 1010.2 739.3 1008.7Q745.5 1007.1 752 1006.8Q758.6 1006.4 767 1007Q775.5 1007.6 781.8 1010.8Q788 1014 788 1016.9Z" fill="none" stroke="#72d82a" stroke-width="2.8" filter="url(#b1)" opacity="0.95"/>
<ellipse cx="764.7" cy="1013.6" rx="8.4" ry="7" fill="url(#nc)"/>
<clipPath id="cc90_1640"><path d="M515.5 1006.3Q518.7 1006.3 517.4 1009.1Q516.2 1011.8 514.1 1014.2Q512 1016.6 508.8 1019Q505.7 1021.3 502.4 1021.6Q499 1022 498.1 1020.4Q497.2 1018.7 496.2 1017.1Q495.3 1015.5 496.9 1012.7Q498.6 1009.8 502.5 1008.8Q506.4 1007.8 509.3 1007Q512.3 1006.2 515.5 1006.3Z"/></clipPath>
<path d="M515.5 1006.3Q518.7 1006.3 517.4 1009.1Q516.2 1011.8 514.1 1014.2Q512 1016.6 508.8 1019Q505.7 1021.3 502.4 1021.6Q499 1022 498.1 1020.4Q497.2 1018.7 496.2 1017.1Q495.3 1015.5 496.9 1012.7Q498.6 1009.8 502.5 1008.8Q506.4 1007.8 509.3 1007Q512.3 1006.2 515.5 1006.3Z" fill="#2c0a10"/>
<g clip-path="url(#cc90_1640)"><rect x="487" y="994.5" width="38.2" height="38.2" filter="url(#txR)" opacity="0.85"/></g>
<path d="M515.5 1006.3Q518.7 1006.3 517.4 1009.1Q516.2 1011.8 514.1 1014.2Q512 1016.6 508.8 1019Q505.7 1021.3 502.4 1021.6Q499 1022 498.1 1020.4Q497.2 1018.7 496.2 1017.1Q495.3 1015.5 496.9 1012.7Q498.6 1009.8 502.5 1008.8Q506.4 1007.8 509.3 1007Q512.3 1006.2 515.5 1006.3Z" fill="none" stroke="#72d82a" stroke-width="2.8" filter="url(#b1)" opacity="0.95"/>
<ellipse cx="638.5" cy="793.2" rx="14.8" ry="8.9" fill="url(#nc)"/>
<ellipse cx="600.4" cy="704.2" rx="6.4" ry="4.7" fill="url(#nc)"/>
<line x1="741.3" y1="1006.6" x2="839.5" y2="1006.6" stroke="#fff" stroke-width="2.6"/>
<text x="516.7" y="717.9" font-size="32" font-weight="bold" fill="#fff" textLength="64.6" lengthAdjust="spacing" word-spacing="-3">3 µM</text>
</g>
<g clip-path="url(#cpD1)">
<rect x="945" y="676" width="342.5" height="342.5" fill="#1a0f0d"/>
<clipPath id="cm3"><polygon points="1053.7,676.6 1157.6,676.6 1168.1,708.4 1178.7,729.6 1221.1,761.4 1242.3,782.6 1287.5,793.2 1287.5,1018.5 1053.7,1018.5 1062.2,983.9 1030.4,952.1 1024,930.9 988,888.6 973.2,856.8 998.6,825 1009.2,793.2 1030.4,740.2 1053.7,708.4"/></clipPath>
<polygon points="1053.7,676.6 1157.6,676.6 1168.1,708.4 1178.7,729.6 1221.1,761.4 1242.3,782.6 1287.5,793.2 1287.5,1018.5 1053.7,1018.5 1062.2,983.9 1030.4,952.1 1024,930.9 988,888.6 973.2,856.8 998.6,825 1009.2,793.2 1030.4,740.2 1053.7,708.4" fill="#21130f" filter="url(#b4)"/>
<g clip-path="url(#cm3)"><rect x="945" y="676" width="342.5" height="342.5" filter="url(#txD)" opacity="0.3"/></g>
<path d="M1053.7 708.4L1030.4 740.2L1009.2 793.2L998.6 825L973.2 856.8L988 888.6L1024 930.9" fill="none" stroke="#b02018" stroke-width="2.2" opacity="0.45" stroke-dasharray="1.2 1.6" filter="url(#b1)" stroke-linejoin="round"/>
<path d="M1024 930.9L1030.4 952.1L1062.2 983.9L1053.7 1018.5" fill="none" stroke="#b02018" stroke-width="2.2" opacity="0.45" stroke-dasharray="1.2 1.6" filter="url(#b1)" stroke-linejoin="round"/>
<path d="M1157.6 676.6L1168.1 708.4L1178.7 729.6L1221.1 761.4L1242.3 782.6" fill="none" stroke="#b02018" stroke-width="2.2" opacity="0.45" stroke-dasharray="1.2 1.6" filter="url(#b1)" stroke-linejoin="round"/>
<path d="M1015.5 867.4Q1030.4 856.8 1024 878Q1062.2 878 1104.6 852.5" fill="none" stroke="#b02018" stroke-width="2.2" opacity="0.45" stroke-dasharray="1.2 1.6" filter="url(#b1)" stroke-linejoin="round"/>
<path d="M1026.1 930.9Q1062.2 909.7 1083.4 888.6" fill="none" stroke="#b02018" stroke-width="2.2" opacity="0.45" stroke-dasharray="1.2 1.6" filter="url(#b1)" stroke-linejoin="round"/>
<path d="M1287.5 793.2Q1274.1 814.4 1282.6 835.6" fill="none" stroke="#b02018" stroke-width="2.2" opacity="0.45" stroke-dasharray="1.2 1.6" filter="url(#b1)" stroke-linejoin="round"/>
<path d="M1125.8 735.9Q1142.7 742.3 1138.5 750.8" fill="none" stroke="#b02018" stroke-width="2.2" opacity="0.45" stroke-dasharray="1.2 1.6" filter="url(#b1)" stroke-linejoin="round"/>
<path d="M1242.3 973.3L1287.5 958.5" fill="none" stroke="#b02018" stroke-width="2.2" opacity="0.45" stroke-dasharray="1.2 1.6" filter="url(#b1)" stroke-linejoin="round"/>
<path d="M1083.4 676.6Q1087.6 697.8 1062.2 691.4" fill="none" stroke="#b02018" stroke-width="2.2" opacity="0.45" stroke-dasharray="1.2 1.6" filter="url(#b1)" stroke-linejoin="round"/>
<ellipse cx="1133.2" cy="742.3" rx="10.6" ry="8.5" fill="url(#rh)" opacity="0.8"/>
<ellipse cx="1074.9" cy="825" rx="10.6" ry="8.5" fill="url(#rh)" opacity="0.8"/>
<ellipse cx="1181.9" cy="801.7" rx="10.6" ry="8.5" fill="url(#rh)" opacity="0.8"/>
<ellipse cx="1034.6" cy="894.9" rx="10.6" ry="8.5" fill="url(#rh)" opacity="0.8"/>
<ellipse cx="1083.4" cy="933.1" rx="12.7" ry="8.5" fill="url(#rh)" opacity="0.8"/>
<ellipse cx="1257.2" cy="973.3" rx="10.6" ry="8.5" fill="url(#rh)" opacity="0.8"/>
<ellipse cx="1121.5" cy="1013.6" rx="14.8" ry="10.6" fill="url(#rh)" opacity="0.8"/>
<ellipse cx="994.3" cy="863.1" rx="12.7" ry="8.5" fill="url(#rh)" opacity="0.8"/>
<ellipse cx="1189.3" cy="916.1" rx="8.5" ry="6.4" fill="url(#rh)" opacity="0.8"/>
<ellipse cx="1065.4" cy="681.9" rx="8.2" ry="7" fill="url(#nd)"/>
<circle cx="1062.6" cy="683.2" r="0.98" fill="#9ff07a" opacity="0.9"/>
<circle cx="1068.2" cy="685.3" r="0.88" fill="#6fd0e0" opacity="0.9"/>
<circle cx="1062.8" cy="682.1" r="1.07" fill="#5fe08a" opacity="0.9"/>
<ellipse cx="1064.3" cy="697.8" rx="5.1" ry="4.7" fill="url(#nd)"/>
<circle cx="1063.6" cy="698.2" r="0.64" fill="#5fe08a" opacity="0.9"/>
<circle cx="1066.5" cy="698.7" r="0.86" fill="#6fd0e0" opacity="0.9"/>
<circle cx="1065.7" cy="697.4" r="0.87" fill="#9ff07a" opacity="0.9"/>
<ellipse cx="1086.5" cy="716.9" rx="7" ry="8.2" fill="url(#nd)"/>
<circle cx="1086.8" cy="718.5" r="0.99" fill="#9ff07a" opacity="0.9"/>
<circle cx="1083.2" cy="718.8" r="0.65" fill="#5fe08a" opacity="0.9"/>
<circle cx="1086.2" cy="717.3" r="0.81" fill="#9ff07a" opacity="0.9"/>
<ellipse cx="1050.5" cy="733.8" rx="9.3" ry="7" fill="url(#nd)"/>
<circle cx="1047.3" cy="735" r="0.88" fill="#5fe08a" opacity="0.9"/>
<circle cx="1046.5" cy="731.7" r="1" fill="#6fd0e0" opacity="0.9"/>
<circle cx="1052.9" cy="735.7" r="0.95" fill="#6fd0e0" opacity="0.9"/>
<ellipse cx="1131.1" cy="731.7" rx="11.7" ry="8.2" fill="url(#nd)"/>
<circle cx="1126.1" cy="732.2" r="0.94" fill="#9ff07a" opacity="0.9"/>
<circle cx="1127.6" cy="735.2" r="1.13" fill="#9ff07a" opacity="0.9"/>
<circle cx="1128.6" cy="735.4" r="0.9" fill="#9ff07a" opacity="0.9"/>
<ellipse cx="1135.3" cy="752.9" rx="11.7" ry="9.3" fill="url(#nd)"/>
<circle cx="1141.1" cy="751.8" r="0.62" fill="#5fe08a" opacity="0.9"/>
<circle cx="1131.3" cy="754.9" r="1.19" fill="#5fe08a" opacity="0.9"/>
<circle cx="1135.2" cy="753.4" r="1.05" fill="#5fe08a" opacity="0.9"/>
<ellipse cx="1018.7" cy="806.9" rx="9.3" ry="10.5" fill="url(#nd)"/>
<circle cx="1019.4" cy="805" r="1.19" fill="#5fe08a" opacity="0.9"/>
<circle cx="1015.7" cy="803.5" r="0.81" fill="#9ff07a" opacity="0.9"/>
<circle cx="1017.3" cy="808" r="0.78" fill="#5fe08a" opacity="0.9"/>
<ellipse cx="1071.7" cy="815.4" rx="10.5" ry="9.3" fill="url(#nd)"/>
<circle cx="1068.2" cy="819.4" r="0.7" fill="#9ff07a" opacity="0.9"/>
<circle cx="1070.4" cy="817.1" r="1.01" fill="#6fd0e0" opacity="0.9"/>
<circle cx="1076.5" cy="814.6" r="1.19" fill="#6fd0e0" opacity="0.9"/>
<ellipse cx="1073.8" cy="835.6" rx="9.3" ry="8.2" fill="url(#nd)"/>
<circle cx="1074.7" cy="838.7" r="0.89" fill="#9ff07a" opacity="0.9"/>
<circle cx="1075.4" cy="839.1" r="0.75" fill="#6fd0e0" opacity="0.9"/>
<circle cx="1069.8" cy="838.1" r="1.06" fill="#9ff07a" opacity="0.9"/>
<ellipse cx="1115.2" cy="829.2" rx="8.2" ry="7" fill="url(#nd)"/>
<circle cx="1111.5" cy="827.7" r="1.11" fill="#6fd0e0" opacity="0.9"/>
<circle cx="1113.4" cy="828.6" r="0.7" fill="#5fe08a" opacity="0.9"/>
<circle cx="1118.2" cy="830.2" r="0.69" fill="#5fe08a" opacity="0.9"/>
<ellipse cx="1171.3" cy="795.3" rx="8.2" ry="12.8" fill="url(#nd)"/>
<circle cx="1173.3" cy="795" r="0.75" fill="#6fd0e0" opacity="0.9"/>
<circle cx="1171.5" cy="798.2" r="0.62" fill="#5fe08a" opacity="0.9"/>
<circle cx="1174.6" cy="793.6" r="0.69" fill="#9ff07a" opacity="0.9"/>
<ellipse cx="1192.5" cy="806.9" rx="14" ry="12.8" fill="url(#nd)"/>
<circle cx="1193.9" cy="806" r="0.95" fill="#9ff07a" opacity="0.9"/>
<circle cx="1189.8" cy="807.4" r="0.77" fill="#6fd0e0" opacity="0.9"/>
<circle cx="1185.7" cy="809.3" r="1.17" fill="#5fe08a" opacity="0.9"/>
<ellipse cx="1264.6" cy="819.7" rx="9.3" ry="9.3" fill="url(#nd)"/>
<circle cx="1262.4" cy="818" r="0.75" fill="#6fd0e0" opacity="0.9"/>
<circle cx="1263.9" cy="821.4" r="1.05" fill="#5fe08a" opacity="0.9"/>
<circle cx="1261.2" cy="815.9" r="0.66" fill="#5fe08a" opacity="0.9"/>
<ellipse cx="991.2" cy="862.1" rx="10.5" ry="8.2" fill="url(#nd)"/>
<circle cx="992.7" cy="864.4" r="0.64" fill="#5fe08a" opacity="0.9"/>
<circle cx="992.8" cy="859" r="0.92" fill="#9ff07a" opacity="0.9"/>
<circle cx="990.1" cy="865.2" r="0.97" fill="#5fe08a" opacity="0.9"/>
<ellipse cx="1137.4" cy="861" rx="8.2" ry="7" fill="url(#nd)"/>
<circle cx="1134.8" cy="860.1" r="1.03" fill="#6fd0e0" opacity="0.9"/>
<circle cx="1139.5" cy="861.7" r="0.9" fill="#6fd0e0" opacity="0.9"/>
<circle cx="1139.7" cy="863" r="0.6" fill="#9ff07a" opacity="0.9"/>
<ellipse cx="1203.1" cy="876.9" rx="16.3" ry="7" fill="url(#nd)"/>
<circle cx="1209.1" cy="876.2" r="0.94" fill="#6fd0e0" opacity="0.9"/>
<circle cx="1198.8" cy="880.1" r="0.96" fill="#6fd0e0" opacity="0.9"/>
<circle cx="1195.6" cy="876.1" r="0.79" fill="#9ff07a" opacity="0.9"/>
<ellipse cx="1268.8" cy="888.6" rx="9.3" ry="9.3" fill="url(#nd)"/>
<circle cx="1271.8" cy="891.4" r="0.89" fill="#6fd0e0" opacity="0.9"/>
<circle cx="1265.1" cy="889.5" r="0.9" fill="#6fd0e0" opacity="0.9"/>
<circle cx="1267.2" cy="888.7" r="0.77" fill="#6fd0e0" opacity="0.9"/>
<ellipse cx="1037.8" cy="894.9" rx="14" ry="14" fill="url(#nd)"/>
<circle cx="1038.2" cy="895.8" r="0.64" fill="#9ff07a" opacity="0.9"/>
<circle cx="1044.5" cy="892.9" r="0.79" fill="#9ff07a" opacity="0.9"/>
<circle cx="1032.3" cy="889" r="0.64" fill="#9ff07a" opacity="0.9"/>
<ellipse cx="1181.9" cy="918.2" rx="9.3" ry="11.7" fill="url(#nd)"/>
<circle cx="1182" cy="923.4" r="1.01" fill="#6fd0e0" opacity="0.9"/>
<circle cx="1181.4" cy="918.4" r="0.83" fill="#9ff07a" opacity="0.9"/>
<circle cx="1177.9" cy="912.7" r="1" fill="#5fe08a" opacity="0.9"/>
<ellipse cx="1196.8" cy="915" rx="8.2" ry="8.2" fill="url(#nd)"/>
<circle cx="1194.7" cy="916.7" r="1.09" fill="#6fd0e0" opacity="0.9"/>
<circle cx="1196.2" cy="917.5" r="0.84" fill="#9ff07a" opacity="0.9"/>
<circle cx="1196.7" cy="916.1" r="1.18" fill="#5fe08a" opacity="0.9"/>
<ellipse cx="1240.2" cy="921.4" rx="10.5" ry="9.3" fill="url(#nd)"/>
<circle cx="1235.4" cy="918.4" r="0.82" fill="#6fd0e0" opacity="0.9"/>
<circle cx="1244.3" cy="924" r="0.98" fill="#6fd0e0" opacity="0.9"/>
<circle cx="1242" cy="924.8" r="1.02" fill="#6fd0e0" opacity="0.9"/>
<ellipse cx="1086.5" cy="922.5" rx="10.5" ry="8.2" fill="url(#nd)"/>
<circle cx="1084.1" cy="922.3" r="0.9" fill="#9ff07a" opacity="0.9"/>
<circle cx="1087.8" cy="925.1" r="1.18" fill="#5fe08a" opacity="0.9"/>
<circle cx="1083" cy="920" r="1.13" fill="#6fd0e0" opacity="0.9"/>
<ellipse cx="1083.4" cy="943.7" rx="14" ry="11.7" fill="url(#nd)"/>
<circle cx="1078.4" cy="944.3" r="0.65" fill="#9ff07a" opacity="0.9"/>
<circle cx="1085" cy="942.2" r="1.05" fill="#5fe08a" opacity="0.9"/>
<circle cx="1090.2" cy="939.8" r="0.86" fill="#6fd0e0" opacity="0.9"/>
<ellipse cx="1190.4" cy="962.7" rx="10.5" ry="10.5" fill="url(#nd)"/>
<circle cx="1188.7" cy="964.2" r="1.01" fill="#9ff07a" opacity="0.9"/>
<circle cx="1186" cy="957.8" r="0.91" fill="#5fe08a" opacity="0.9"/>
<circle cx="1194.6" cy="962.8" r="0.74" fill="#6fd0e0" opacity="0.9"/>
<ellipse cx="1262.5" cy="977.6" rx="8.2" ry="8.2" fill="url(#nd)"/>
<circle cx="1260.7" cy="976.6" r="1.16" fill="#9ff07a" opacity="0.9"/>
<circle cx="1261.7" cy="977.3" r="1" fill="#6fd0e0" opacity="0.9"/>
<circle cx="1259.8" cy="976.6" r="0.76" fill="#5fe08a" opacity="0.9"/>
<ellipse cx="1123.6" cy="1005.1" rx="11.7" ry="11.7" fill="url(#nd)"/>
<circle cx="1129.2" cy="1001.8" r="0.81" fill="#6fd0e0" opacity="0.9"/>
<circle cx="1128.7" cy="1007.5" r="0.61" fill="#6fd0e0" opacity="0.9"/>
<circle cx="1124.6" cy="1003.9" r="0.86" fill="#9ff07a" opacity="0.9"/>
<g opacity="0.85"><circle cx="1126.2" cy="886.6" r="0.67" fill="#e8d84a"/><circle cx="1161" cy="870.2" r="0.59" fill="#e8d84a"/><circle cx="1105.4" cy="905.4" r="0.8" fill="#d8c040"/><circle cx="1108.6" cy="873.9" r="0.49" fill="#d8c040"/><circle cx="1156.3" cy="842.7" r="0.69" fill="#f0e060"/><circle cx="1227.6" cy="812.2" r="0.41" fill="#f0e060"/><circle cx="1178.6" cy="911.1" r="0.82" fill="#f0e060"/><circle cx="1133.1" cy="900.7" r="0.81" fill="#f0e060"/><circle cx="1063.3" cy="859.9" r="0.74" fill="#f0e060"/><circle cx="1102.8" cy="925.2" r="0.58" fill="#d8c040"/><circle cx="1121" cy="870.6" r="0.8" fill="#f0e060"/><circle cx="1185.9" cy="912.5" r="0.74" fill="#e8d84a"/><circle cx="1093" cy="928.1" r="0.48" fill="#f0e060"/><circle cx="1042.5" cy="881.2" r="0.73" fill="#e8d84a"/><circle cx="1165" cy="888.3" r="0.58" fill="#d8c040"/><circle cx="1054.9" cy="936.3" r="0.76" fill="#f0e060"/><circle cx="1082.5" cy="906.6" r="0.51" fill="#f0e060"/><circle cx="1175.5" cy="894.4" r="0.67" fill="#f0e060"/><circle cx="1118.7" cy="866.7" r="0.58" fill="#d8c040"/><circle cx="1182.2" cy="994.1" r="0.8" fill="#d8c040"/><circle cx="1109.2" cy="833.7" r="0.79" fill="#f0e060"/><circle cx="1007.9" cy="846.2" r="0.89" fill="#d8c040"/><circle cx="1141" cy="953.6" r="0.75" fill="#d8c040"/><circle cx="1177" cy="882.6" r="0.71" fill="#f0e060"/><circle cx="1178.6" cy="888.6" r="0.77" fill="#e8d84a"/><circle cx="1187.7" cy="841.4" r="0.84" fill="#e8d84a"/><circle cx="1135.6" cy="961.1" r="0.54" fill="#d8c040"/><circle cx="1118.6" cy="733.4" r="0.58" fill="#e8d84a"/><circle cx="1130.5" cy="972.4" r="0.58" fill="#f0e060"/><circle cx="1146.5" cy="817.1" r="0.47" fill="#e8d84a"/><circle cx="1242.3" cy="786.3" r="0.78" fill="#f0e060"/><circle cx="1120.1" cy="763.1" r="0.51" fill="#f0e060"/><circle cx="1010" cy="856.5" r="0.66" fill="#e8d84a"/><circle cx="1168.8" cy="965.3" r="0.71" fill="#d8c040"/><circle cx="1137.8" cy="762.3" r="0.73" fill="#d8c040"/><circle cx="1167.1" cy="998" r="0.51" fill="#d8c040"/><circle cx="1119.1" cy="964.4" r="0.63" fill="#e8d84a"/><circle cx="1137.9" cy="816.6" r="0.62" fill="#d8c040"/><circle cx="1118.2" cy="765" r="0.9" fill="#d8c040"/><circle cx="1134.7" cy="892" r="0.79" fill="#f0e060"/><circle cx="1095.7" cy="1004.5" r="0.63" fill="#d8c040"/><circle cx="1138.5" cy="990.6" r="0.81" fill="#d8c040"/><circle cx="1119.7" cy="863.5" r="0.86" fill="#e8d84a"/><circle cx="1064.4" cy="878" r="0.59" fill="#f0e060"/><circle cx="1042.7" cy="913.7" r="0.44" fill="#d8c040"/><circle cx="1126.2" cy="810.2" r="0.53" fill="#d8c040"/><circle cx="1159.5" cy="723.2" r="0.5" fill="#d8c040"/><circle cx="1142.8" cy="860.2" r="0.55" fill="#f0e060"/><circle cx="1188.8" cy="963" r="0.87" fill="#e8d84a"/><circle cx="1106.7" cy="824.6" r="0.51" fill="#e8d84a"/><circle cx="1188.8" cy="967.5" r="0.65" fill="#e8d84a"/><circle cx="1106.4" cy="819.7" r="0.72" fill="#d8c040"/><circle cx="1231.6" cy="885.7" r="0.54" fill="#d8c040"/><circle cx="1106.9" cy="809.7" r="0.46" fill="#f0e060"/><circle cx="1119.3" cy="866" r="0.76" fill="#f0e060"/><circle cx="1107.7" cy="800.3" r="0.67" fill="#f0e060"/><circle cx="1070.7" cy="948.8" r="0.72" fill="#d8c040"/><circle cx="1160.7" cy="933.3" r="0.62" fill="#f0e060"/><circle cx="1062" cy="900.4" r="0.51" fill="#e8d84a"/><circle cx="1204.3" cy="890.5" r="0.63" fill="#e8d84a"/><circle cx="1144.1" cy="728.9" r="0.77" fill="#d8c040"/><circle cx="1092.7" cy="880.6" r="0.8" fill="#d8c040"/><circle cx="1109.3" cy="822.8" r="0.88" fill="#d8c040"/><circle cx="1138" cy="914.9" r="0.71" fill="#e8d84a"/><circle cx="1130.6" cy="911.4" r="0.67" fill="#e8d84a"/><circle cx="1106.3" cy="852.1" r="0.46" fill="#f0e060"/><circle cx="1104.4" cy="795.3" r="0.44" fill="#e8d84a"/><circle cx="1139.3" cy="966.9" r="0.52" fill="#d8c040"/><circle cx="1035.6" cy="818.1" r="0.66" fill="#f0e060"/><circle cx="1147.1" cy="812.7" r="0.88" fill="#f0e060"/><circle cx="1065.4" cy="973.6" r="0.42" fill="#d8c040"/><circle cx="1179.5" cy="898.4" r="0.8" fill="#d8c040"/><circle cx="1177.8" cy="1023.4" r="0.44" fill="#d8c040"/><circle cx="1140.2" cy="767.9" r="0.67" fill="#e8d84a"/><circle cx="1112.8" cy="943.3" r="0.65" fill="#d8c040"/><circle cx="1049.7" cy="958.5" r="0.43" fill="#d8c040"/><circle cx="1070.9" cy="836.9" r="0.81" fill="#e8d84a"/><circle cx="1126.4" cy="838.2" r="0.55" fill="#e8d84a"/><circle cx="1115.5" cy="982.3" r="0.85" fill="#e8d84a"/><circle cx="1048.2" cy="977.5" r="0.61" fill="#f0e060"/><circle cx="1241.6" cy="993.9" r="0.51" fill="#d8c040"/><circle cx="1123.2" cy="856.6" r="0.71" fill="#f0e060"/><circle cx="1108.7" cy="917.3" r="0.86" fill="#d8c040"/><circle cx="1092.9" cy="877.2" r="0.51" fill="#e8d84a"/><circle cx="1159.6" cy="831.3" r="0.73" fill="#e8d84a"/><circle cx="1209.5" cy="732.2" r="0.52" fill="#d8c040"/><circle cx="1073.1" cy="865.9" r="0.54" fill="#f0e060"/><circle cx="1153.9" cy="851.7" r="0.58" fill="#e8d84a"/><circle cx="1070.8" cy="1007.8" r="0.82" fill="#e8d84a"/><circle cx="1104.2" cy="991.2" r="0.75" fill="#f0e060"/><circle cx="1236.2" cy="846" r="0.52" fill="#d8c040"/><circle cx="1100.5" cy="938.3" r="0.89" fill="#e8d84a"/><circle cx="1123.4" cy="861.6" r="0.69" fill="#d8c040"/><circle cx="1163.5" cy="1074" r="0.78" fill="#e8d84a"/><circle cx="1153.5" cy="740.5" r="0.85" fill="#d8c040"/><circle cx="1190" cy="866.8" r="0.75" fill="#f0e060"/><circle cx="1133.7" cy="919" r="0.85" fill="#d8c040"/><circle cx="1102.1" cy="827.8" r="0.46" fill="#d8c040"/><circle cx="1208.8" cy="911.1" r="0.78" fill="#e8d84a"/><circle cx="1036" cy="911.5" r="0.42" fill="#f0e060"/><circle cx="1109.6" cy="916.5" r="0.69" fill="#f0e060"/><circle cx="1043.8" cy="914.7" r="0.61" fill="#d8c040"/><circle cx="1192.5" cy="851" r="0.54" fill="#e8d84a"/><circle cx="1094.6" cy="751.2" r="0.89" fill="#d8c040"/><circle cx="1008.7" cy="912.9" r="0.84" fill="#d8c040"/><circle cx="1142.6" cy="846.9" r="0.57" fill="#f0e060"/><circle cx="1079" cy="957.1" r="0.81" fill="#d8c040"/><circle cx="1134.8" cy="838" r="0.88" fill="#e8d84a"/><circle cx="1151.1" cy="933.8" r="0.51" fill="#e8d84a"/><circle cx="1138.7" cy="882.4" r="0.56" fill="#f0e060"/></g>
<g opacity="0.6"><circle cx="1174.5" cy="829.6" r="0.74" fill="#e8d84a"/><circle cx="1207.9" cy="835.6" r="0.47" fill="#d8a040"/><circle cx="1201.9" cy="858" r="0.69" fill="#d8a040"/><circle cx="1234" cy="797.9" r="0.7" fill="#e8d84a"/><circle cx="1222" cy="868.5" r="0.52" fill="#d8a040"/><circle cx="1223.2" cy="829.8" r="0.78" fill="#d8a040"/><circle cx="1183.2" cy="855.7" r="0.71" fill="#e8d84a"/><circle cx="1215.9" cy="819.4" r="0.42" fill="#d8a040"/><circle cx="1230.2" cy="840.5" r="0.69" fill="#d8a040"/><circle cx="1269.9" cy="812.8" r="0.73" fill="#e8d84a"/><circle cx="1218.6" cy="843.9" r="0.71" fill="#d8a040"/><circle cx="1180.8" cy="840.8" r="0.4" fill="#e8d84a"/><circle cx="1272.6" cy="792.4" r="0.78" fill="#e8d84a"/><circle cx="1199.5" cy="835.3" r="0.64" fill="#d8a040"/><circle cx="1228.1" cy="817.5" r="0.51" fill="#d8a040"/><circle cx="1177.5" cy="793.9" r="0.52" fill="#e8d84a"/><circle cx="1235.2" cy="868.2" r="0.53" fill="#d8a040"/><circle cx="1224.2" cy="821" r="0.7" fill="#d8a040"/><circle cx="1213.1" cy="844.5" r="0.43" fill="#e8d84a"/><circle cx="1242.7" cy="828" r="0.59" fill="#e8d84a"/><circle cx="1205.4" cy="822" r="0.71" fill="#d8a040"/><circle cx="1207.3" cy="877.2" r="0.59" fill="#d8a040"/><circle cx="1221.7" cy="810.2" r="0.77" fill="#d8a040"/><circle cx="1225.7" cy="861.5" r="0.62" fill="#e8d84a"/><circle cx="1254.9" cy="869" r="0.51" fill="#d8a040"/><circle cx="1193.2" cy="860.7" r="0.5" fill="#d8a040"/><circle cx="1250.8" cy="864.2" r="0.72" fill="#e8d84a"/><circle cx="1240" cy="819.4" r="0.43" fill="#e8d84a"/><circle cx="1211.1" cy="817.5" r="0.62" fill="#e8d84a"/><circle cx="1196.1" cy="815.7" r="0.8" fill="#d8a040"/><circle cx="1218.4" cy="885.1" r="0.57" fill="#e8d84a"/><circle cx="1205" cy="781.2" r="0.57" fill="#d8a040"/><circle cx="1253.7" cy="831.2" r="0.74" fill="#d8a040"/><circle cx="1212.6" cy="886.6" r="0.49" fill="#d8a040"/><circle cx="1220.4" cy="910.9" r="0.61" fill="#e8d84a"/><circle cx="1219.8" cy="861.2" r="0.76" fill="#e8d84a"/><circle cx="1250.7" cy="868.6" r="0.76" fill="#e8d84a"/><circle cx="1223.2" cy="830.6" r="0.64" fill="#e8d84a"/><circle cx="1229.2" cy="847.9" r="0.67" fill="#e8d84a"/><circle cx="1233.7" cy="868.5" r="0.73" fill="#d8a040"/><circle cx="1237.1" cy="776.1" r="0.46" fill="#d8a040"/><circle cx="1204" cy="824.4" r="0.56" fill="#d8a040"/><circle cx="1200.2" cy="877.9" r="0.48" fill="#e8d84a"/><circle cx="1279" cy="887.8" r="0.42" fill="#d8a040"/><circle cx="1228.3" cy="824.3" r="0.56" fill="#d8a040"/><circle cx="1214.4" cy="892.2" r="0.77" fill="#e8d84a"/><circle cx="1221.8" cy="776.9" r="0.61" fill="#d8a040"/><circle cx="1239.6" cy="870.6" r="0.44" fill="#e8d84a"/><circle cx="1195.9" cy="853.3" r="0.58" fill="#d8a040"/><circle cx="1225" cy="793.5" r="0.72" fill="#d8a040"/></g>
<line x1="1189.3" y1="1006.2" x2="1287.5" y2="1006.2" stroke="#fff" stroke-width="2.6"/>
<text x="966.8" y="726.4" font-size="32" font-weight="bold" fill="#fff" textLength="88" lengthAdjust="spacing" word-spacing="-3">Vehicle</text>
</g>
<g clip-path="url(#cpD2)">
<rect x="1350.4" y="676" width="342.5" height="342.5" fill="#0a0a17"/>
<ellipse cx="1562.6" cy="930.9" rx="42.4" ry="89" fill="#1c1714" opacity="0.7" transform="rotate(25 1562.6 930.9)" filter="url(#b2)"/>
<ellipse cx="1657.9" cy="765.6" rx="27.6" ry="19.1" fill="#1c1714" opacity="0.7" transform="rotate(-20 1657.9 765.6)" filter="url(#b2)"/>
<ellipse cx="1403.6" cy="856.8" rx="63.6" ry="8.5" fill="#1c1714" opacity="0.7" transform="rotate(15 1403.6 856.8)" filter="url(#b2)"/>
<ellipse cx="1371.8" cy="803.8" rx="25.4" ry="17" fill="#1c1714" opacity="0.7" transform="rotate(0 1371.8 803.8)" filter="url(#b2)"/>
<ellipse cx="1541.4" cy="878" rx="25.4" ry="21.2" fill="#1c1714" opacity="0.7" transform="rotate(0 1541.4 878)" filter="url(#b2)"/>
<g opacity="0.9"><circle cx="1533.7" cy="898.9" r="0.9" fill="#d02818"/><circle cx="1512.6" cy="936.1" r="0.74" fill="#e85030"/><circle cx="1628.2" cy="912.6" r="0.97" fill="#d02818"/><circle cx="1601.9" cy="913.6" r="0.69" fill="#e03020"/><circle cx="1561.4" cy="959.2" r="0.72" fill="#e03020"/><circle cx="1566.5" cy="840.6" r="0.82" fill="#d02818"/><circle cx="1600.5" cy="901" r="0.82" fill="#e03020"/><circle cx="1584.8" cy="896.6" r="0.94" fill="#e85030"/><circle cx="1579.1" cy="923.6" r="0.65" fill="#d02818"/><circle cx="1573" cy="874.1" r="0.63" fill="#d02818"/><circle cx="1545.7" cy="919" r="0.67" fill="#e85030"/><circle cx="1547.2" cy="844.1" r="0.65" fill="#e03020"/><circle cx="1580.2" cy="931.9" r="0.89" fill="#e03020"/><circle cx="1589.6" cy="936.6" r="0.56" fill="#e85030"/><circle cx="1556.8" cy="886.9" r="0.78" fill="#d02818"/><circle cx="1543.3" cy="899.7" r="0.92" fill="#e0a030"/><circle cx="1597.5" cy="945.3" r="0.66" fill="#d02818"/><circle cx="1611.8" cy="979.9" r="0.46" fill="#e0a030"/><circle cx="1559.5" cy="839.8" r="0.91" fill="#e85030"/><circle cx="1606.5" cy="887.8" r="0.72" fill="#e03020"/><circle cx="1616.8" cy="860.2" r="0.6" fill="#d02818"/><circle cx="1540" cy="948.3" r="0.59" fill="#e0a030"/><circle cx="1533.5" cy="970.9" r="0.62" fill="#d02818"/><circle cx="1603.2" cy="1017.4" r="0.95" fill="#d02818"/><circle cx="1552.6" cy="900.4" r="0.79" fill="#d02818"/><circle cx="1583.3" cy="885.1" r="0.9" fill="#d02818"/><circle cx="1569" cy="868.2" r="0.73" fill="#e03020"/><circle cx="1570.6" cy="943" r="0.6" fill="#e03020"/><circle cx="1552.5" cy="912.1" r="0.55" fill="#e03020"/><circle cx="1607.1" cy="949.8" r="0.46" fill="#e0a030"/><circle cx="1610.5" cy="922.8" r="0.45" fill="#e85030"/><circle cx="1516.4" cy="973.5" r="0.9" fill="#e85030"/><circle cx="1522.7" cy="944.3" r="0.77" fill="#e85030"/><circle cx="1574" cy="895.1" r="0.51" fill="#d02818"/><circle cx="1618.3" cy="972" r="0.72" fill="#d02818"/><circle cx="1614.2" cy="910.4" r="0.91" fill="#e03020"/><circle cx="1579.9" cy="877.8" r="0.61" fill="#d02818"/><circle cx="1562.2" cy="944.3" r="0.63" fill="#d02818"/><circle cx="1534.1" cy="970.8" r="0.6" fill="#e03020"/><circle cx="1517.1" cy="910.5" r="0.59" fill="#e85030"/><circle cx="1556.4" cy="936" r="0.89" fill="#e0a030"/><circle cx="1530.8" cy="939.6" r="0.58" fill="#e03020"/><circle cx="1584.4" cy="928.1" r="0.55" fill="#d02818"/><circle cx="1571.9" cy="982.9" r="0.9" fill="#e0a030"/><circle cx="1543.2" cy="937.7" r="0.61" fill="#d02818"/><circle cx="1570.2" cy="936.9" r="0.54" fill="#e03020"/><circle cx="1561.1" cy="942" r="0.98" fill="#e0a030"/><circle cx="1544.3" cy="992" r="0.47" fill="#e85030"/><circle cx="1562.1" cy="904.9" r="0.54" fill="#e0a030"/><circle cx="1534.7" cy="877.3" r="0.92" fill="#e0a030"/><circle cx="1575.8" cy="950.8" r="0.94" fill="#e0a030"/><circle cx="1596" cy="872.7" r="0.61" fill="#e0a030"/><circle cx="1601.2" cy="891.9" r="0.58" fill="#e0a030"/><circle cx="1578.3" cy="881" r="0.67" fill="#e03020"/><circle cx="1548.7" cy="958.1" r="0.6" fill="#e03020"/><circle cx="1583" cy="941.1" r="0.63" fill="#e85030"/><circle cx="1576.3" cy="905.2" r="0.58" fill="#e85030"/><circle cx="1595.8" cy="910.2" r="0.53" fill="#e03020"/><circle cx="1576.6" cy="883.5" r="0.5" fill="#e0a030"/><circle cx="1541.8" cy="962.5" r="0.88" fill="#e0a030"/><circle cx="1536.2" cy="926.6" r="0.62" fill="#e0a030"/><circle cx="1562.6" cy="970.5" r="0.95" fill="#e85030"/><circle cx="1564.9" cy="928.2" r="0.54" fill="#e0a030"/><circle cx="1552" cy="999.6" r="0.96" fill="#d02818"/><circle cx="1575" cy="898.3" r="0.7" fill="#e85030"/><circle cx="1568.5" cy="969.8" r="0.73" fill="#d02818"/><circle cx="1560.7" cy="941.8" r="0.47" fill="#d02818"/><circle cx="1571.1" cy="992.8" r="0.8" fill="#d02818"/><circle cx="1578.3" cy="894.9" r="0.47" fill="#e03020"/><circle cx="1582.4" cy="971.1" r="0.56" fill="#d02818"/><circle cx="1595.4" cy="941.4" r="0.62" fill="#e03020"/><circle cx="1538.8" cy="945.3" r="0.65" fill="#d02818"/><circle cx="1527.3" cy="1011.7" r="0.78" fill="#e0a030"/><circle cx="1565.9" cy="861.6" r="0.59" fill="#d02818"/><circle cx="1594.7" cy="946" r="0.63" fill="#e85030"/><circle cx="1557.2" cy="940" r="0.62" fill="#e85030"/><circle cx="1520.4" cy="940.4" r="0.64" fill="#d02818"/><circle cx="1559.5" cy="985.7" r="0.45" fill="#e85030"/><circle cx="1560.6" cy="916.2" r="0.74" fill="#d02818"/><circle cx="1575.3" cy="946.7" r="0.72" fill="#e85030"/><circle cx="1554.8" cy="938" r="0.79" fill="#d02818"/><circle cx="1544.5" cy="899.9" r="0.94" fill="#e0a030"/><circle cx="1569.2" cy="918.1" r="0.8" fill="#e85030"/><circle cx="1587.9" cy="969.5" r="0.6" fill="#d02818"/><circle cx="1525.2" cy="934.6" r="0.54" fill="#d02818"/><circle cx="1587.7" cy="980.2" r="0.5" fill="#e03020"/><circle cx="1566.3" cy="830.9" r="0.87" fill="#e0a030"/><circle cx="1555.2" cy="919.1" r="0.71" fill="#e85030"/><circle cx="1558.7" cy="856.3" r="0.97" fill="#e0a030"/><circle cx="1532.7" cy="976.8" r="0.65" fill="#e0a030"/><circle cx="1611.5" cy="862.4" r="0.95" fill="#e85030"/><circle cx="1546.2" cy="925" r="0.8" fill="#d02818"/><circle cx="1566.6" cy="873.5" r="0.81" fill="#e85030"/><circle cx="1573" cy="946.9" r="0.51" fill="#e85030"/><circle cx="1583.4" cy="920.5" r="0.51" fill="#e85030"/><circle cx="1524.5" cy="903.9" r="0.72" fill="#d02818"/><circle cx="1567.2" cy="963" r="0.73" fill="#e03020"/><circle cx="1576.8" cy="962.1" r="0.81" fill="#e85030"/><circle cx="1570.8" cy="904.5" r="0.52" fill="#d02818"/><circle cx="1528.1" cy="964" r="0.84" fill="#e03020"/><circle cx="1603" cy="934.8" r="0.64" fill="#d02818"/><circle cx="1550.6" cy="951.5" r="0.73" fill="#d02818"/><circle cx="1559.7" cy="938" r="0.84" fill="#d02818"/><circle cx="1562.8" cy="921.7" r="0.74" fill="#e85030"/><circle cx="1542.4" cy="905.9" r="0.87" fill="#e0a030"/><circle cx="1530.4" cy="969" r="0.72" fill="#e03020"/><circle cx="1593.7" cy="1034.7" r="0.78" fill="#e0a030"/><circle cx="1537.6" cy="969.7" r="0.9" fill="#e85030"/><circle cx="1586.4" cy="896.9" r="0.66" fill="#d02818"/><circle cx="1586.2" cy="949.5" r="0.65" fill="#e85030"/><circle cx="1607" cy="884.7" r="0.95" fill="#e03020"/><circle cx="1542.6" cy="955.6" r="0.57" fill="#e03020"/><circle cx="1570.2" cy="871.7" r="0.92" fill="#d02818"/><circle cx="1544.1" cy="864.6" r="0.93" fill="#e85030"/><circle cx="1588.3" cy="814.7" r="0.46" fill="#e0a030"/><circle cx="1616.8" cy="901.6" r="0.67" fill="#e85030"/><circle cx="1526.6" cy="863.5" r="0.9" fill="#d02818"/><circle cx="1572.2" cy="924.8" r="0.7" fill="#e85030"/><circle cx="1574.3" cy="910.9" r="0.56" fill="#e85030"/><circle cx="1546.4" cy="938.2" r="0.98" fill="#e03020"/><circle cx="1571.1" cy="829.5" r="0.63" fill="#d02818"/><circle cx="1585.7" cy="902.8" r="0.76" fill="#e85030"/><circle cx="1516" cy="952.2" r="0.83" fill="#e03020"/><circle cx="1575.7" cy="854.9" r="0.59" fill="#e85030"/><circle cx="1575.8" cy="886.7" r="0.48" fill="#e03020"/><circle cx="1616.4" cy="938.1" r="0.77" fill="#e85030"/><circle cx="1596.5" cy="947.8" r="0.89" fill="#d02818"/><circle cx="1580.3" cy="958.2" r="0.7" fill="#e0a030"/><circle cx="1535" cy="887.1" r="0.48" fill="#e85030"/><circle cx="1557.9" cy="909" r="0.93" fill="#e0a030"/><circle cx="1623" cy="871.1" r="0.54" fill="#e03020"/><circle cx="1559.9" cy="973.3" r="0.54" fill="#e0a030"/><circle cx="1542.2" cy="940.1" r="0.85" fill="#d02818"/><circle cx="1517" cy="892.5" r="0.98" fill="#e03020"/><circle cx="1567.5" cy="902.2" r="0.81" fill="#e85030"/><circle cx="1590.6" cy="901" r="0.98" fill="#e0a030"/><circle cx="1574.4" cy="948.7" r="0.75" fill="#d02818"/><circle cx="1627" cy="938.6" r="0.65" fill="#e03020"/><circle cx="1610.2" cy="927.5" r="0.5" fill="#e85030"/><circle cx="1582.9" cy="889.5" r="0.95" fill="#d02818"/><circle cx="1572.6" cy="897.2" r="0.48" fill="#d02818"/><circle cx="1581.4" cy="916.5" r="0.49" fill="#e0a030"/><circle cx="1562.2" cy="941.6" r="0.5" fill="#d02818"/><circle cx="1605.6" cy="971.6" r="0.67" fill="#e85030"/><circle cx="1595.5" cy="927.8" r="0.82" fill="#e03020"/><circle cx="1630.2" cy="919.8" r="0.52" fill="#e0a030"/><circle cx="1572.9" cy="883.6" r="0.47" fill="#e85030"/><circle cx="1536.6" cy="873.1" r="0.87" fill="#e85030"/><circle cx="1632.1" cy="951.7" r="0.98" fill="#d02818"/><circle cx="1584.1" cy="900.3" r="0.81" fill="#e85030"/><circle cx="1549.7" cy="974" r="0.88" fill="#e0a030"/><circle cx="1593.8" cy="936.7" r="0.72" fill="#e85030"/><circle cx="1592.4" cy="968.5" r="0.91" fill="#e0a030"/><circle cx="1564.8" cy="892.5" r="0.59" fill="#e0a030"/><circle cx="1623.8" cy="971.3" r="0.48" fill="#e85030"/><circle cx="1572.7" cy="957.2" r="0.71" fill="#d02818"/><circle cx="1612.1" cy="988" r="0.98" fill="#e0a030"/><circle cx="1622.7" cy="1002.8" r="0.56" fill="#e85030"/><circle cx="1554.2" cy="865.6" r="0.49" fill="#e85030"/><circle cx="1562.1" cy="889.6" r="0.62" fill="#e0a030"/><circle cx="1525.9" cy="913.9" r="0.49" fill="#e03020"/><circle cx="1599.2" cy="1010.4" r="0.76" fill="#e03020"/><circle cx="1502.9" cy="952.9" r="0.8" fill="#e03020"/><circle cx="1588.2" cy="888.1" r="0.5" fill="#e0a030"/><circle cx="1581.6" cy="900.5" r="0.81" fill="#e03020"/><circle cx="1583.5" cy="960.6" r="0.64" fill="#e03020"/><circle cx="1579.4" cy="893.6" r="0.95" fill="#e85030"/><circle cx="1601.7" cy="944.6" r="0.55" fill="#e85030"/><circle cx="1606.6" cy="897.6" r="0.92" fill="#e03020"/><circle cx="1607.6" cy="846.5" r="0.72" fill="#e03020"/><circle cx="1590" cy="860" r="0.85" fill="#e85030"/><circle cx="1588.5" cy="922.2" r="0.95" fill="#e85030"/><circle cx="1584.7" cy="926.6" r="0.77" fill="#e0a030"/><circle cx="1601.5" cy="857.9" r="0.86" fill="#e03020"/><circle cx="1593.7" cy="906.3" r="0.52" fill="#e0a030"/><circle cx="1610.5" cy="908.2" r="0.86" fill="#d02818"/><circle cx="1570.8" cy="869.1" r="0.5" fill="#d02818"/><circle cx="1557.6" cy="956.6" r="0.47" fill="#e85030"/><circle cx="1567.6" cy="854.1" r="0.9" fill="#e03020"/><circle cx="1564.3" cy="845.7" r="0.63" fill="#e0a030"/><circle cx="1573.5" cy="916.9" r="0.77" fill="#e03020"/><circle cx="1596.7" cy="1005.1" r="0.89" fill="#e85030"/><circle cx="1621.7" cy="954.9" r="0.74" fill="#d02818"/><circle cx="1546.2" cy="869.8" r="0.54" fill="#e0a030"/><circle cx="1530.3" cy="878.1" r="0.71" fill="#e03020"/><circle cx="1584.9" cy="944.6" r="0.8" fill="#e0a030"/><circle cx="1550.5" cy="896.2" r="0.89" fill="#e0a030"/><circle cx="1520.8" cy="1007.1" r="0.66" fill="#e03020"/><circle cx="1598.1" cy="895.2" r="0.6" fill="#e0a030"/><circle cx="1547.3" cy="925.4" r="0.97" fill="#e85030"/><circle cx="1543.9" cy="919.1" r="0.88" fill="#e0a030"/><circle cx="1576" cy="867" r="0.94" fill="#e03020"/><circle cx="1566.3" cy="1020.7" r="0.81" fill="#e03020"/><circle cx="1554.6" cy="947.2" r="0.72" fill="#d02818"/><circle cx="1534" cy="851.8" r="0.54" fill="#d02818"/><circle cx="1590.4" cy="910.2" r="0.69" fill="#d02818"/><circle cx="1546.4" cy="799.7" r="0.49" fill="#e0a030"/><circle cx="1552.5" cy="925.2" r="0.46" fill="#d02818"/><circle cx="1566.2" cy="922.4" r="0.75" fill="#d02818"/><circle cx="1579.1" cy="874.5" r="0.52" fill="#d02818"/><circle cx="1568.7" cy="934.2" r="0.45" fill="#d02818"/><circle cx="1597.8" cy="928.1" r="0.77" fill="#e85030"/><circle cx="1565.2" cy="896.3" r="0.72" fill="#d02818"/><circle cx="1518.1" cy="904.4" r="0.81" fill="#d02818"/><circle cx="1555.2" cy="788.8" r="0.74" fill="#e85030"/><circle cx="1582.9" cy="883.2" r="0.53" fill="#d02818"/><circle cx="1594.1" cy="929.2" r="0.64" fill="#d02818"/><circle cx="1582.1" cy="937.4" r="0.86" fill="#e85030"/><circle cx="1591.8" cy="881.7" r="0.71" fill="#e0a030"/><circle cx="1557" cy="955.7" r="0.63" fill="#e0a030"/><circle cx="1556.5" cy="947.9" r="0.9" fill="#e03020"/><circle cx="1644" cy="973.1" r="0.61" fill="#e0a030"/><circle cx="1537.9" cy="906.1" r="0.8" fill="#e0a030"/><circle cx="1564" cy="917.6" r="0.77" fill="#e0a030"/><circle cx="1601.5" cy="918" r="0.52" fill="#e03020"/><circle cx="1567.4" cy="948.9" r="0.86" fill="#e0a030"/><circle cx="1587.6" cy="912.3" r="0.74" fill="#d02818"/><circle cx="1555" cy="947.3" r="0.64" fill="#e85030"/><circle cx="1546.8" cy="917.6" r="0.94" fill="#d02818"/><circle cx="1564.9" cy="910.7" r="0.6" fill="#d02818"/><circle cx="1552.1" cy="897.8" r="0.67" fill="#e03020"/><circle cx="1569.9" cy="894.8" r="0.73" fill="#e85030"/><circle cx="1585.1" cy="894.9" r="0.97" fill="#e85030"/><circle cx="1519.6" cy="901.5" r="0.83" fill="#d02818"/><circle cx="1539.6" cy="919.3" r="0.91" fill="#e85030"/><circle cx="1539.6" cy="1046.8" r="0.6" fill="#e03020"/><circle cx="1575.8" cy="902" r="0.59" fill="#e85030"/><circle cx="1584.7" cy="881.8" r="0.95" fill="#d02818"/><circle cx="1641.9" cy="892" r="0.46" fill="#e85030"/><circle cx="1599.5" cy="1015.2" r="0.79" fill="#e85030"/></g>
<g opacity="0.8"><circle cx="1568.6" cy="869.4" r="0.71" fill="#e03020"/><circle cx="1622.4" cy="860.6" r="0.58" fill="#e03020"/><circle cx="1593.6" cy="842.2" r="0.53" fill="#e03020"/><circle cx="1613.5" cy="867.1" r="0.42" fill="#d02818"/><circle cx="1576.6" cy="838.4" r="0.51" fill="#e03020"/><circle cx="1607" cy="882.6" r="0.7" fill="#d02818"/><circle cx="1592.1" cy="855.8" r="0.43" fill="#e03020"/><circle cx="1603.4" cy="868.1" r="0.68" fill="#e03020"/><circle cx="1616" cy="850.8" r="0.55" fill="#d02818"/><circle cx="1595.3" cy="876.5" r="0.75" fill="#e03020"/><circle cx="1614" cy="835.9" r="0.45" fill="#d02818"/><circle cx="1600.8" cy="853.2" r="0.71" fill="#e03020"/><circle cx="1639.2" cy="862.9" r="0.68" fill="#e03020"/><circle cx="1592" cy="866" r="0.6" fill="#d02818"/><circle cx="1616.6" cy="867.7" r="0.64" fill="#e03020"/><circle cx="1564.2" cy="872.4" r="0.42" fill="#e03020"/><circle cx="1584.7" cy="879.7" r="0.45" fill="#d02818"/><circle cx="1595" cy="838.4" r="0.46" fill="#d02818"/><circle cx="1576.4" cy="854.6" r="0.44" fill="#e03020"/><circle cx="1602.6" cy="875.7" r="0.48" fill="#e03020"/><circle cx="1592.7" cy="871.6" r="0.71" fill="#e03020"/><circle cx="1586.4" cy="861.2" r="0.61" fill="#e03020"/><circle cx="1610.3" cy="858.2" r="0.75" fill="#e03020"/><circle cx="1604.9" cy="869.5" r="0.44" fill="#e03020"/><circle cx="1602.2" cy="848.3" r="0.5" fill="#e03020"/><circle cx="1587.9" cy="904.7" r="0.64" fill="#d02818"/><circle cx="1607.4" cy="837.5" r="0.51" fill="#d02818"/><circle cx="1584.3" cy="863.8" r="0.65" fill="#d02818"/><circle cx="1604.7" cy="843.3" r="0.58" fill="#d02818"/><circle cx="1583.7" cy="865.4" r="0.48" fill="#e03020"/><circle cx="1598.6" cy="874.7" r="0.57" fill="#d02818"/><circle cx="1605.9" cy="854.2" r="0.54" fill="#e03020"/><circle cx="1587.2" cy="849" r="0.45" fill="#d02818"/><circle cx="1615.6" cy="845.1" r="0.64" fill="#e03020"/><circle cx="1603.2" cy="832.9" r="0.78" fill="#d02818"/><circle cx="1603.2" cy="851.8" r="0.64" fill="#e03020"/><circle cx="1612.1" cy="842.3" r="0.66" fill="#d02818"/><circle cx="1579.4" cy="877.5" r="0.75" fill="#d02818"/><circle cx="1598.6" cy="907.5" r="0.57" fill="#e03020"/><circle cx="1634.9" cy="826.6" r="0.53" fill="#d02818"/></g>
<g opacity="0.7"><circle cx="1653.8" cy="777.6" r="0.65" fill="#d06018"/><circle cx="1668" cy="766.5" r="0.48" fill="#e03020"/><circle cx="1669.4" cy="774.3" r="0.56" fill="#d06018"/><circle cx="1665.5" cy="761.3" r="0.65" fill="#d06018"/><circle cx="1668.2" cy="779.8" r="0.66" fill="#d06018"/><circle cx="1652.6" cy="768.8" r="0.6" fill="#e03020"/><circle cx="1661.4" cy="759.9" r="0.52" fill="#e03020"/><circle cx="1635.5" cy="768.9" r="0.71" fill="#e03020"/><circle cx="1679.9" cy="780.3" r="0.64" fill="#d06018"/><circle cx="1640.8" cy="758.3" r="0.52" fill="#d06018"/><circle cx="1656.6" cy="772.6" r="0.56" fill="#e03020"/><circle cx="1670.6" cy="770.7" r="0.54" fill="#e03020"/><circle cx="1662" cy="766" r="0.55" fill="#e03020"/><circle cx="1654.9" cy="768.6" r="0.44" fill="#d06018"/><circle cx="1655.8" cy="770" r="0.46" fill="#d06018"/><circle cx="1644" cy="769.3" r="0.68" fill="#e03020"/><circle cx="1641.6" cy="772.8" r="0.57" fill="#e03020"/><circle cx="1668.5" cy="783.4" r="0.68" fill="#d06018"/><circle cx="1653.1" cy="764.7" r="0.49" fill="#e03020"/><circle cx="1653.3" cy="764.9" r="0.59" fill="#d06018"/><circle cx="1651.2" cy="772.4" r="0.45" fill="#d06018"/><circle cx="1656.6" cy="771.4" r="0.55" fill="#d06018"/><circle cx="1674.6" cy="773.7" r="0.77" fill="#e03020"/><circle cx="1641.6" cy="772.4" r="0.69" fill="#d06018"/><circle cx="1674.1" cy="780.6" r="0.75" fill="#e03020"/></g>
<g opacity="0.8"><circle cx="1483.6" cy="999.6" r="0.49" fill="#e03020"/><circle cx="1496.1" cy="1010.6" r="0.71" fill="#e03020"/><circle cx="1488.9" cy="996.3" r="0.75" fill="#d02818"/><circle cx="1469.7" cy="1002.6" r="0.48" fill="#d02818"/><circle cx="1506.7" cy="1018.8" r="0.41" fill="#d02818"/><circle cx="1474.1" cy="991.2" r="0.79" fill="#e03020"/><circle cx="1479.7" cy="1001.7" r="0.55" fill="#e03020"/><circle cx="1481.9" cy="996.9" r="0.76" fill="#e03020"/><circle cx="1492.8" cy="1003.5" r="0.59" fill="#d02818"/><circle cx="1490.6" cy="990.9" r="0.66" fill="#e03020"/><circle cx="1471.8" cy="987.4" r="0.56" fill="#e03020"/><circle cx="1489.1" cy="1000" r="0.73" fill="#e03020"/><circle cx="1493.4" cy="1004.3" r="0.59" fill="#d02818"/><circle cx="1494.4" cy="994.5" r="0.46" fill="#e03020"/><circle cx="1454.5" cy="995.6" r="0.65" fill="#d02818"/><circle cx="1459.2" cy="1000.1" r="0.65" fill="#e03020"/><circle cx="1497.2" cy="1013.9" r="0.67" fill="#d02818"/><circle cx="1477" cy="1001.9" r="0.42" fill="#d02818"/><circle cx="1475.2" cy="988.8" r="0.76" fill="#e03020"/><circle cx="1494.6" cy="1016.4" r="0.46" fill="#e03020"/><circle cx="1479.1" cy="1020.8" r="0.78" fill="#e03020"/><circle cx="1472.7" cy="999.4" r="0.57" fill="#e03020"/><circle cx="1501.7" cy="990.4" r="0.51" fill="#d02818"/><circle cx="1490.2" cy="999" r="0.43" fill="#d02818"/><circle cx="1489.6" cy="999.4" r="0.67" fill="#e03020"/><circle cx="1490.5" cy="1003.9" r="0.77" fill="#d02818"/><circle cx="1479.6" cy="998.3" r="0.62" fill="#e03020"/><circle cx="1491.1" cy="994.9" r="0.71" fill="#d02818"/><circle cx="1502.2" cy="1004.7" r="0.45" fill="#d02818"/><circle cx="1476.2" cy="996.1" r="0.5" fill="#e03020"/></g>
<path d="M1674.9 852.5Q1636.7 878 1604.9 924.6" fill="none" stroke="#e02a20" stroke-width="1.6" opacity="0.8" filter="url(#b1)"/>
<path d="M1641 894.9Q1621.9 916.1 1604.9 923.5" fill="none" stroke="#e02a20" stroke-width="1.6" opacity="0.8" filter="url(#b1)"/>
<path d="M1454.5 979.7Q1471.4 983.9 1475.7 996.6" fill="none" stroke="#e02a20" stroke-width="1.6" opacity="0.8" filter="url(#b1)"/>
<path d="M1503.2 988.2Q1496.8 1005.1 1488.4 1013.6" fill="none" stroke="#e02a20" stroke-width="1.6" opacity="0.8" filter="url(#b1)"/>
<path d="M1429 859.9Q1446 865.2 1460.8 872.7" fill="none" stroke="#e02a20" stroke-width="1.6" opacity="0.8" filter="url(#b1)"/>
<ellipse cx="1599.6" cy="884.3" rx="15.9" ry="24.4" fill="#2030c0" opacity="0.8" filter="url(#b2)"/>
<ellipse cx="1608.1" cy="888.6" rx="3" ry="6" fill="#30a050" opacity="0.8" filter="url(#b1)"/>
<ellipse cx="1359.1" cy="689.3" rx="9.3" ry="8.2" fill="url(#nd)"/>
<circle cx="1357.1" cy="688.7" r="1" fill="#6fb0ff" opacity="0.9"/>
<ellipse cx="1359.1" cy="776.2" rx="9.3" ry="9.3" fill="url(#nd)"/>
<circle cx="1360.1" cy="777.9" r="1" fill="#6fb0ff" opacity="0.9"/>
<ellipse cx="1371.8" cy="813.3" rx="7.5" ry="7" fill="url(#nd)"/>
<circle cx="1373.4" cy="812.8" r="1" fill="#6fb0ff" opacity="0.9"/>
<ellipse cx="1360.1" cy="850.4" rx="8.2" ry="7" fill="url(#nd)"/>
<circle cx="1359.5" cy="852.1" r="1" fill="#6fb0ff" opacity="0.9"/>
<ellipse cx="1361.2" cy="862.1" rx="8.2" ry="5.8" fill="url(#nd)"/>
<circle cx="1361.5" cy="864" r="1" fill="#6fb0ff" opacity="0.9"/>
<ellipse cx="1434.3" cy="861" rx="8.2" ry="5.8" fill="url(#nd)"/>
<circle cx="1432.7" cy="862.2" r="1" fill="#6fb0ff" opacity="0.9"/>
<ellipse cx="1355.9" cy="943.7" rx="7" ry="7" fill="url(#nd)"/>
<circle cx="1356.9" cy="945.8" r="1" fill="#6fb0ff" opacity="0.9"/>
<ellipse cx="1646.3" cy="723.2" rx="7.5" ry="8.2" fill="url(#nd)"/>
<circle cx="1645.2" cy="723.7" r="1" fill="#6fb0ff" opacity="0.9"/>
<ellipse cx="1672.8" cy="713.7" rx="8.2" ry="8.2" fill="url(#nd)"/>
<circle cx="1674.3" cy="713.5" r="1" fill="#6fb0ff" opacity="0.9"/>
<ellipse cx="1665.3" cy="759.3" rx="8.2" ry="7" fill="url(#nd)"/>
<circle cx="1663.8" cy="760" r="1" fill="#6fb0ff" opacity="0.9"/>
<ellipse cx="1665.3" cy="828.1" rx="8.2" ry="8.9" fill="url(#nd)"/>
<circle cx="1663.9" cy="826.7" r="1" fill="#6fb0ff" opacity="0.9"/>
<ellipse cx="1553" cy="871.6" rx="7.5" ry="7.5" fill="url(#nd)"/>
<circle cx="1555.1" cy="871.5" r="1" fill="#6fb0ff" opacity="0.9"/>
<ellipse cx="1561.5" cy="875.8" rx="7" ry="7" fill="url(#nd)"/>
<circle cx="1563.4" cy="877.7" r="1" fill="#6fb0ff" opacity="0.9"/>
<ellipse cx="1554.1" cy="883.3" rx="6.5" ry="6.5" fill="url(#nd)"/>
<circle cx="1552.6" cy="882.1" r="1" fill="#6fb0ff" opacity="0.9"/>
<ellipse cx="1594.3" cy="922.5" rx="7" ry="7" fill="url(#nd)"/>
<circle cx="1595.5" cy="921.1" r="1" fill="#6fb0ff" opacity="0.9"/>
<ellipse cx="1479.9" cy="1003" rx="7" ry="8.2" fill="url(#nd)"/>
<circle cx="1478.2" cy="1001.3" r="1" fill="#6fb0ff" opacity="0.9"/>
<ellipse cx="1489.4" cy="1003" rx="7" ry="8.2" fill="url(#nd)"/>
<circle cx="1491" cy="1004.7" r="1" fill="#6fb0ff" opacity="0.9"/>
<ellipse cx="1626.1" cy="891.7" rx="6.4" ry="6.4" fill="#b030d0" opacity="0.85" filter="url(#b1)"/>
<ellipse cx="1627.2" cy="903.4" rx="7.4" ry="6.4" fill="#b030d0" opacity="0.85" filter="url(#b1)"/>
<ellipse cx="1434.3" cy="863.1" rx="6.4" ry="3.2" fill="#b030d0" opacity="0.85" filter="url(#b1)"/>
<line x1="1594.3" y1="1006.2" x2="1692.5" y2="1006.2" stroke="#fff" stroke-width="2.6"/>
<text x="1373.9" y="722.8" font-size="32" font-weight="bold" fill="#fff" textLength="64.7" lengthAdjust="spacing" word-spacing="-3">3 µM</text>
</g>
<g transform="translate(610.2 1720.3) scale(1.1432 1)">
<g stroke="#141414" stroke-width="0.85" stroke-linejoin="round">
<g fill="#e3160f">
<path d="M0 -391Q0 0 -25.9 -390.1L-31 -389.8Q0 0 6.9 -390.9Z"/>
<path d="M6.9 -390.9Q0 0 -131.6 -368.2L-134.9 -367Q0 0 13.8 -390.8Z"/>
<path d="M13.8 -390.8Q0 0 -227.4 -318.1L-231.5 -315.1Q0 0 20.7 -390.5Z"/>
<path d="M20.7 -390.5Q0 0 -269.1 -283.6L-271.6 -281.3Q0 0 27.6 -390Z"/>
<path d="M27.6 -390Q0 0 -316.7 -229.3L-319.7 -225.2Q0 0 34.5 -389.5Z"/>
<path d="M34.5 -389.5Q0 0 -326.9 -214.5L-329.7 -210.2Q0 0 41.3 -388.8Z"/>
<path d="M41.3 -388.8Q0 0 -378.1 -99.5L-379.4 -94.5Q0 0 48.2 -388Z"/>
<path d="M48.2 -388Q0 0 -385.7 -64.1L-386.5 -59.1Q0 0 55 -387.1Z"/>
<path d="M55 -387.1Q0 0 -390 -28.3L-390.3 -23.2Q0 0 61.8 -386.1Z"/>
<path d="M61.8 -386.1Q0 0 -373.9 114.5L-372.3 119.4Q0 0 68.6 -384.9Z"/>
<path d="M68.6 -384.9Q0 0 -368.2 131.6L-367.3 134.1Q0 0 75.4 -383.7Z"/>
<path d="M75.4 -383.7Q0 0 -295.8 255.8L-292.4 259.6Q0 0 82.2 -382.3Z"/>
<path d="M82.2 -382.3Q0 0 -283.6 269.1L-282.2 270.6Q0 0 88.9 -380.8Z"/>
<path d="M88.9 -380.8Q0 0 -270.9 282L-267.2 285.5Q0 0 95.6 -379.1Z"/>
<path d="M95.6 -379.1Q0 0 -243.7 305.7L-242.1 307Q0 0 102.3 -377.4Z"/>
<path d="M102.3 -377.4Q0 0 -229.3 316.7L-225.2 319.7Q0 0 108.9 -375.5Z"/>
<path d="M108.9 -375.5Q0 0 -116.8 373.1L-113.6 374.1Q0 0 115.6 -373.5Z"/>
<path d="M115.6 -373.5Q0 0 -99.5 378.1L-94.5 379.4Q0 0 122.1 -371.4Z"/>
<path d="M122.1 -371.4Q0 0 -81.9 382.3L-78.5 383Q0 0 128.7 -369.2Z"/>
</g>
<g fill="#e5671c">
<path d="M136 -366.6Q0 0 -31 -389.8L-36.1 -389.3Q0 0 142.7 -364Z"/>
<path d="M142.7 -364Q0 0 -43.9 -388.5L-48.9 -387.9Q0 0 149.4 -361.3Z"/>
<path d="M149.4 -361.3Q0 0 -61.8 -386.1L-66.8 -385.3Q0 0 156 -358.5Z"/>
<path d="M156 -358.5Q0 0 -97.1 -378.7L-102.1 -377.4Q0 0 162.5 -355.6Z"/>
<path d="M162.5 -355.6Q0 0 -114.5 -373.9L-119.4 -372.3Q0 0 169 -352.6Z"/>
<path d="M169 -352.6Q0 0 -148.5 -361.7L-153.2 -359.7Q0 0 175.4 -349.4Z"/>
<path d="M175.4 -349.4Q0 0 -165.1 -354.5L-169.7 -352.3Q0 0 181.8 -346.2Z"/>
<path d="M181.8 -346.2Q0 0 -181.2 -346.5L-185.8 -344Q0 0 188.1 -342.8Z"/>
<path d="M188.1 -342.8Q0 0 -197.1 -337.7L-201.5 -335.1Q0 0 194.4 -339.3Z"/>
<path d="M194.4 -339.3Q0 0 -212.4 -328.3L-215.3 -326.4Q0 0 200.6 -335.6Z"/>
<path d="M200.6 -335.6Q0 0 -231.5 -315.1L-235.6 -312Q0 0 206.7 -331.9Z"/>
<path d="M206.7 -331.9Q0 0 -241.8 -307.3L-245.8 -304.1Q0 0 212.7 -328.1Z"/>
<path d="M212.7 -328.1Q0 0 -255.8 -295.8L-259.6 -292.4Q0 0 218.7 -324.1Z"/>
<path d="M218.7 -324.1Q0 0 -271.6 -281.3L-274.1 -278.9Q0 0 224.6 -320Z"/>
<path d="M224.6 -320Q0 0 -282 -270.9L-285.5 -267.2Q0 0 230.5 -315.9Z"/>
<path d="M230.5 -315.9Q0 0 -294.2 -257.6L-297.5 -253.7Q0 0 236.2 -311.6Z"/>
<path d="M236.2 -311.6Q0 0 -305.7 -243.7L-308.9 -239.7Q0 0 241.9 -307.2Z"/>
<path d="M241.9 -307.2Q0 0 -319.7 -225.2L-322.6 -221Q0 0 247.5 -302.7Z"/>
<path d="M247.5 -302.7Q0 0 -329.7 -210.2L-332.4 -205.8Q0 0 253 -298.1Z"/>
<path d="M253 -298.1Q0 0 -336.5 -199.1L-339.1 -194.7Q0 0 258.4 -293.4Z"/>
<path d="M258.4 -293.4Q0 0 -353.4 -167.2L-354.9 -164.2Q0 0 263.8 -288.6Z"/>
<path d="M263.8 -288.6Q0 0 -367.3 -133.9L-369.1 -129.1Q0 0 269 -283.8Z"/>
<path d="M269 -283.8Q0 0 -373.1 -116.8L-374.6 -111.9Q0 0 274.2 -278.8Z"/>
<path d="M274.2 -278.8Q0 0 -379.4 -94.5L-380.6 -89.5Q0 0 279.2 -273.7Z"/>
<path d="M279.2 -273.7Q0 0 -382.3 -81.9L-383 -78.5Q0 0 284.2 -268.5Z"/>
<path d="M284.2 -268.5Q0 0 -386.5 -59.1L-387.3 -54Q0 0 289.1 -263.3Z"/>
<path d="M289.1 -263.3Q0 0 -388.3 -46.3L-388.8 -41.2Q0 0 293.8 -257.9Z"/>
<path d="M293.8 -257.9Q0 0 -390.3 -23.2L-390.6 -18.1Q0 0 298.5 -252.5Z"/>
<path d="M298.5 -252.5Q0 0 -390.1 25.9L-389.8 31Q0 0 303.1 -247Z"/>
<path d="M303.1 -247Q0 0 -388.5 43.9L-387.9 48.9Q0 0 307.6 -241.4Z"/>
<path d="M307.6 -241.4Q0 0 -386.1 61.8L-385.3 66.8Q0 0 312 -235.7Z"/>
<path d="M312 -235.7Q0 0 -378.7 97.1L-377.9 100.4Q0 0 316.2 -230Z"/>
<path d="M316.2 -230Q0 0 -372.3 119.4L-370.7 124.3Q0 0 320.4 -224.1Z"/>
<path d="M320.4 -224.1Q0 0 -361.7 148.5L-360.4 151.7Q0 0 324.4 -218.2Z"/>
<path d="M324.4 -218.2Q0 0 -354.5 165.1L-352.3 169.7Q0 0 328.4 -212.2Z"/>
<path d="M328.4 -212.2Q0 0 -346.5 181.2L-344 185.8Q0 0 332.2 -206.2Z"/>
<path d="M332.2 -206.2Q0 0 -337.7 197.1L-336 200Q0 0 336 -200Z"/>
<path d="M336 -200Q0 0 -328.3 212.4L-325.4 216.7Q0 0 339.6 -193.8Z"/>
<path d="M339.6 -193.8Q0 0 -318.1 227.4L-316.1 230.1Q0 0 343.1 -187.6Z"/>
<path d="M343.1 -187.6Q0 0 -307.3 241.8L-306 243.4Q0 0 346.4 -181.3Z"/>
<path d="M346.4 -181.3Q0 0 -282.2 270.6L-280.8 272.1Q0 0 349.7 -174.9Z"/>
<path d="M349.7 -174.9Q0 0 -267.2 285.5L-263.4 289Q0 0 352.9 -168.4Z"/>
<path d="M352.9 -168.4Q0 0 -242.1 307L-240.5 308.3Q0 0 355.9 -161.9Z"/>
<path d="M355.9 -161.9Q0 0 -225.2 319.7L-221 322.6Q0 0 358.8 -155.4Z"/>
<path d="M358.8 -155.4Q0 0 -199.1 336.5L-196.2 338.2Q0 0 361.6 -148.8Z"/>
<path d="M361.6 -148.8Q0 0 -183.4 345.3L-180.4 346.9Q0 0 364.3 -142.1Z"/>
<path d="M364.3 -142.1Q0 0 -167.2 353.4L-162.6 355.6Q0 0 366.8 -135.4Z"/>
<path d="M366.8 -135.4Q0 0 -150.7 360.8L-146 362.7Q0 0 369.2 -128.7Z"/>
<path d="M369.2 -128.7Q0 0 -113.6 374.1L-110.3 375.1Q0 0 371.5 -121.9Z"/>
<path d="M371.5 -121.9Q0 0 -94.5 379.4L-89.5 380.6Q0 0 373.7 -115.1Z"/>
<path d="M373.7 -115.1Q0 0 -78.5 383L-75.2 383.7Q0 0 375.7 -108.2Z"/>
<path d="M375.7 -108.2Q0 0 -64.1 385.7L-60.8 386.2Q0 0 377.7 -101.3Z"/>
<path d="M377.7 -101.3Q0 0 -46.3 388.3L-42.9 388.6Q0 0 379.4 -94.3Z"/>
<path d="M379.4 -94.3Q0 0 -28.3 390L-23.2 390.3Q0 0 381.1 -87.4Z"/>
<path d="M381.1 -87.4Q0 0 -10.2 390.9L-6.8 390.9Q0 0 382.7 -80.4Z"/>
</g>
<g fill="#f0b628">
<path d="M384.2 -72.7Q0 0 -134.9 -367L-138.1 -365.8Q0 0 385.3 -66.5Z"/>
<path d="M385.3 -66.5Q0 0 -390.9 -10.2L-391 -5.1Q0 0 386.3 -60.2Z"/>
<path d="M386.3 -60.2Q0 0 -389.8 31L-389.3 36.1Q0 0 387.3 -53.9Z"/>
<path d="M387.3 -53.9Q0 0 -382.8 79.5L-382.1 82.9Q0 0 388.1 -47.7Z"/>
<path d="M388.1 -47.7Q0 0 -316.1 230.1L-314.1 232.9Q0 0 388.8 -41.4Z"/>
<path d="M388.8 -41.4Q0 0 -280.8 272.1L-279.4 273.6Q0 0 389.4 -35.1Z"/>
<path d="M389.4 -35.1Q0 0 -60.8 386.2L-57.4 386.8Q0 0 389.9 -28.8Z"/>
<path d="M389.9 -28.8Q0 0 -42.9 388.6L-39.5 389Q0 0 390.4 -22.4Z"/>
</g>
<g fill="#e8f63c">
<path d="M390.7 -14.6Q0 0 -138.1 -365.8L-141.2 -364.6Q0 0 390.9 -8.6Z"/>
<path d="M390.9 -8.6Q0 0 -367.3 134.1L-366.4 136.5Q0 0 391 -2.6Z"/>
<path d="M391 -2.6Q0 0 -352.3 169.7L-350 174.3Q0 0 391 3.4Z"/>
<path d="M391 3.4Q0 0 -279.4 273.6L-277.9 275Q0 0 390.9 9.4Z"/>
<path d="M390.9 9.4Q0 0 -240.5 308.3L-238.9 309.5Q0 0 390.7 15.4Z"/>
<path d="M390.7 15.4Q0 0 -57.4 386.8L-54 387.3Q0 0 390.4 21.4Z"/>
</g>
<g fill="#b2f03a">
<path d="M389.9 29.2Q0 0 -345.3 -183.4L-346.9 -180.4Q0 0 389.5 34.6Z"/>
<path d="M389.5 34.6Q0 0 -360.8 -150.7L-362.1 -147.6Q0 0 389 39.9Z"/>
<path d="M389 39.9Q0 0 -306 243.4L-304.7 245Q0 0 388.4 45.2Z"/>
<path d="M388.4 45.2Q0 0 -6.8 390.9L-3.4 391Q0 0 387.7 50.5Z"/>
</g>
<g fill="#8df535">
<path d="M386.6 58.3Q0 0 -66.8 -385.3L-71.8 -384.3Q0 0 385.6 64.7Z"/>
<path d="M385.6 64.7Q0 0 -102.1 -377.4L-107 -376.1Q0 0 384.5 71.2Z"/>
<path d="M384.5 71.2Q0 0 -119.4 -372.3L-124.3 -370.7Q0 0 383.2 77.6Z"/>
<path d="M383.2 77.6Q0 0 -169.7 -352.3L-174.3 -350Q0 0 381.9 84Z"/>
<path d="M381.9 84Q0 0 -185.8 -344L-190.3 -341.6Q0 0 380.4 90.3Z"/>
<path d="M380.4 90.3Q0 0 -245.8 -304.1L-249.8 -300.8Q0 0 378.9 96.7Z"/>
<path d="M378.9 96.7Q0 0 -297.5 -253.7L-300.8 -249.8Q0 0 377.2 103Z"/>
<path d="M377.2 103Q0 0 -387.9 48.9L-387.3 54Q0 0 375.4 109.3Z"/>
<path d="M375.4 109.3Q0 0 -336 200L-334.2 202.9Q0 0 373.5 115.5Z"/>
<path d="M373.5 115.5Q0 0 -23.2 390.3L-18.1 390.6Q0 0 371.6 121.7Z"/>
</g>
<g fill="#81ee52">
<path d="M369.1 129.1Q0 0 -383 -78.5L-383.7 -75.2Q0 0 367.1 134.6Z"/>
<path d="M367.1 134.6Q0 0 -325.4 216.7L-322.6 221Q0 0 365.1 139.9Z"/>
<path d="M365.1 139.9Q0 0 -257.6 294.2L-253.7 297.5Q0 0 363 145.3Z"/>
<path d="M363 145.3Q0 0 -214.5 326.9L-210.2 329.7Q0 0 360.8 150.6Z"/>
<path d="M360.8 150.6Q0 0 -196.2 338.2L-193.2 339.9Q0 0 358.6 155.9Z"/>
</g>
<g fill="#88f6a4">
<path d="M355.4 163Q0 0 -259.6 -292.4L-263.4 -289Q0 0 352.6 168.9Z"/>
<path d="M352.6 168.9Q0 0 -274.1 -278.9L-276.5 -276.5Q0 0 349.7 174.8Z"/>
<path d="M349.7 174.8Q0 0 -382.1 82.9L-381.4 86.2Q0 0 346.8 180.6Z"/>
<path d="M346.8 180.6Q0 0 -366.4 136.5L-365.5 138.9Q0 0 343.7 186.4Z"/>
<path d="M343.7 186.4Q0 0 -292.4 259.6L-289 263.4Q0 0 340.6 192.1Z"/>
<path d="M340.6 192.1Q0 0 -277.9 275L-276.5 276.5Q0 0 337.3 197.8Z"/>
<path d="M337.3 197.8Q0 0 -238.9 309.5L-237.3 310.8Q0 0 333.9 203.4Z"/>
<path d="M333.9 203.4Q0 0 -110.3 375.1L-107 376.1Q0 0 330.5 208.9Z"/>
<path d="M330.5 208.9Q0 0 -75.2 383.7L-71.8 384.3Q0 0 327 214.4Z"/>
<path d="M327 214.4Q0 0 -39.5 389L-36.1 389.3Q0 0 323.3 219.8Z"/>
</g>
<g fill="#82f0f0">
<path d="M318.9 226.3Q0 0 -48.9 -387.9L-54 -387.3Q0 0 315.4 231.1Z"/>
<path d="M315.4 231.1Q0 0 -383.7 -75.2L-384.3 -71.8Q0 0 311.8 236Z"/>
<path d="M311.8 236Q0 0 -385.3 66.8L-384.3 71.8Q0 0 308.1 240.7Z"/>
<path d="M308.1 240.7Q0 0 -253.7 297.5L-249.8 300.8Q0 0 304.4 245.4Z"/>
<path d="M304.4 245.4Q0 0 -210.2 329.7L-205.8 332.4Q0 0 300.6 250.1Z"/>
<path d="M300.6 250.1Q0 0 -193.2 339.9L-190.3 341.6Q0 0 296.7 254.7Z"/>
</g>
<g fill="#5a9aec">
<path d="M291.5 260.5Q0 0 -7.8 -390.9L-11.2 -390.8Q0 0 287.7 264.8Z"/>
<path d="M287.7 264.8Q0 0 -390.9 7.8L-390.8 12.9Q0 0 283.8 269Z"/>
<path d="M283.8 269Q0 0 -377.9 100.4L-377 103.7Q0 0 279.8 273.1Z"/>
<path d="M279.8 273.1Q0 0 -304.7 245L-303.4 246.6Q0 0 275.7 277.2Z"/>
<path d="M275.7 277.2Q0 0 -146 362.7L-141.2 364.6Q0 0 271.6 281.2Z"/>
</g>
<g fill="#294eee">
<path d="M265.9 286.6Q0 0 -11.2 -390.8L-14.6 -390.7Q0 0 261.2 291Z"/>
<path d="M261.2 291Q0 0 -339.1 -194.7L-341.6 -190.3Q0 0 256.4 295.2Z"/>
<path d="M256.4 295.2Q0 0 -346.9 -180.4L-348.5 -177.3Q0 0 251.5 299.4Z"/>
<path d="M251.5 299.4Q0 0 -362.1 -147.6L-363.3 -144.4Q0 0 246.5 303.5Z"/>
<path d="M246.5 303.5Q0 0 -374.6 -111.9L-376.1 -107Q0 0 241.5 307.5Z"/>
<path d="M241.5 307.5Q0 0 -390.8 12.9L-390.6 18.1Q0 0 236.4 311.5Z"/>
<path d="M236.4 311.5Q0 0 -360.4 151.7L-359.1 154.8Q0 0 231.2 315.3Z"/>
<path d="M231.2 315.3Q0 0 -303.4 246.6L-302.1 248.2Q0 0 226 319.1Z"/>
<path d="M226 319.1Q0 0 -180.4 346.9L-177.3 348.5Q0 0 220.7 322.8Z"/>
</g>
<g fill="#2914de">
<path d="M214.2 327.1Q0 0 -369.1 -129.1L-370.7 -124.3Q0 0 209.7 330Z"/>
<path d="M209.7 330Q0 0 -381.4 86.2L-380.6 89.5Q0 0 205.1 332.9Z"/>
<path d="M205.1 332.9Q0 0 -365.5 138.9L-364.6 141.2Q0 0 200.6 335.6Z"/>
<path d="M200.6 335.6Q0 0 -314.1 232.9L-312 235.6Q0 0 195.9 338.4Z"/>
</g>
<g fill="#7b14ea">
<path d="M189.1 342.2Q0 0 -348.5 -177.3L-350 -174.3Q0 0 184.1 345Z"/>
<path d="M184.1 345Q0 0 -363.3 -144.4L-364.6 -141.2Q0 0 179 347.6Z"/>
<path d="M179 347.6Q0 0 -302.1 248.2L-300.8 249.8Q0 0 173.9 350.2Z"/>
<path d="M173.9 350.2Q0 0 -177.3 348.5L-174.3 350Q0 0 168.7 352.7Z"/>
<path d="M168.7 352.7Q0 0 -3.4 391L0 391Q0 0 163.5 355.2Z"/>
</g>
<g fill="#cc1cee">
<path d="M156.4 358.4Q0 0 -201.5 -335.1L-205.8 -332.4Q0 0 150.4 360.9Z"/>
<path d="M150.4 360.9Q0 0 -215.3 -326.4L-218.1 -324.5Q0 0 144.3 363.4Z"/>
<path d="M144.3 363.4Q0 0 -285.5 -267.2L-289 -263.4Q0 0 138.2 365.8Z"/>
<path d="M138.2 365.8Q0 0 -308.9 -239.7L-312 -235.6Q0 0 132.1 368Z"/>
<path d="M132.1 368Q0 0 -391 -5.1L-391 0Q0 0 125.9 370.2Z"/>
<path d="M125.9 370.2Q0 0 -377 103.7L-376.1 107Q0 0 119.7 372.2Z"/>
<path d="M119.7 372.2Q0 0 -359.1 154.8L-357.7 157.9Q0 0 113.5 374.2Z"/>
<path d="M113.5 374.2Q0 0 -344 185.8L-341.6 190.3Q0 0 107.2 376Z"/>
<path d="M107.2 376Q0 0 -162.6 355.6L-157.9 357.7Q0 0 100.9 377.7Z"/>
<path d="M100.9 377.7Q0 0 -133.9 367.3L-130.7 368.5Q0 0 94.6 379.4Z"/>
</g>
<g fill="#e412ba">
<path d="M87 381.2Q0 0 -79.5 -382.8L-84.5 -381.8Q0 0 81.1 382.5Z"/>
<path d="M81.1 382.5Q0 0 -153.2 -359.7L-157.9 -357.7Q0 0 75.3 383.7Z"/>
<path d="M75.3 383.7Q0 0 -354.9 -164.2L-356.3 -161.1Q0 0 69.3 384.8Z"/>
<path d="M69.3 384.8Q0 0 -334.2 202.9L-332.4 205.8Q0 0 63.4 385.8Z"/>
<path d="M63.4 385.8Q0 0 -237.3 310.8L-235.6 312Q0 0 57.5 386.8Z"/>
<path d="M57.5 386.8Q0 0 -130.7 368.5L-127.5 369.6Q0 0 51.5 387.6Z"/>
</g>
<g fill="#dc125c">
<path d="M43.8 388.5Q0 0 -14.6 -390.7L-18.1 -390.6Q0 0 37.8 389.2Z"/>
<path d="M37.8 389.2Q0 0 -84.5 -381.8L-89.5 -380.6Q0 0 31.8 389.7Z"/>
<path d="M31.8 389.7Q0 0 -218.1 -324.5L-221 -322.6Q0 0 25.8 390.1Z"/>
<path d="M25.8 390.1Q0 0 -356.3 -161.1L-357.7 -157.9Q0 0 19.8 390.5Z"/>
<path d="M19.8 390.5Q0 0 -388.8 -41.2L-389.3 -36.1Q0 0 13.8 390.8Z"/>
<path d="M13.8 390.8Q0 0 -127.5 369.6L-124.3 370.7Q0 0 7.8 390.9Z"/>
</g></g>
<g stroke="#333" stroke-width="0.8">
<path d="M0 -391A391 391 0 0 1 128.7 -369.2L141.5 -406.1A430.1 430.1 0 0 0 0 -430.1Z" fill="#c4484a"/>
<path d="M136 -366.6A391 391 0 0 1 382.7 -80.4L420.9 -88.4A430.1 430.1 0 0 0 149.6 -403.2Z" fill="#c9804c"/>
<path d="M384.2 -72.7A391 391 0 0 1 390.4 -22.4L429.4 -24.7A430.1 430.1 0 0 0 422.6 -80Z" fill="#d9b650"/>
<path d="M390.7 -14.6A391 391 0 0 1 390.4 21.4L429.5 23.6A430.1 430.1 0 0 0 429.8 -16.1Z" fill="#d4e05a"/>
<path d="M389.9 29.2A391 391 0 0 1 387.7 50.5L426.5 55.6A430.1 430.1 0 0 0 428.9 32.1Z" fill="#aee15a"/>
<path d="M386.6 58.3A391 391 0 0 1 371.6 121.7L408.7 133.9A430.1 430.1 0 0 0 425.3 64.1Z" fill="#92e058"/>
<path d="M369.1 129.1A391 391 0 0 1 358.6 155.9L394.4 171.5A430.1 430.1 0 0 0 406 142.1Z" fill="#8ce07b"/>
<path d="M355.4 163A391 391 0 0 1 323.3 219.8L355.7 241.8A430.1 430.1 0 0 0 390.9 179.3Z" fill="#8ce0ab"/>
<path d="M318.9 226.3A391 391 0 0 1 296.7 254.7L326.4 280.1A430.1 430.1 0 0 0 350.8 248.9Z" fill="#8ce0e0"/>
<path d="M291.5 260.5A391 391 0 0 1 271.6 281.2L298.8 309.4A430.1 430.1 0 0 0 320.7 286.6Z" fill="#70a4dd"/>
<path d="M265.9 286.6A391 391 0 0 1 220.7 322.8L242.7 355.1A430.1 430.1 0 0 0 292.5 315.3Z" fill="#566adc"/>
<path d="M214.2 327.1A391 391 0 0 1 195.9 338.4L215.5 372.2A430.1 430.1 0 0 0 235.6 359.8Z" fill="#5846dc"/>
<path d="M189.1 342.2A391 391 0 0 1 163.5 355.2L179.8 390.7A430.1 430.1 0 0 0 208 376.4Z" fill="#8446dc"/>
<path d="M156.4 358.4A391 391 0 0 1 94.6 379.4L104.1 417.3A430.1 430.1 0 0 0 172 394.2Z" fill="#b446dc"/>
<path d="M87 381.2A391 391 0 0 1 51.5 387.6L56.7 426.3A430.1 430.1 0 0 0 95.7 419.3Z" fill="#c446b4"/>
<path d="M43.8 388.5A391 391 0 0 1 7.8 390.9L8.6 430A430.1 430.1 0 0 0 48.2 427.4Z" fill="#c4487a"/>
</g>
<g stroke="#3a3a3a" stroke-width="1.1">
<path d="M-8.2 -410.5A410.6 410.6 0 0 0 -19 -410.1L-19.9 -429.6A430.1 430.1 0 0 1 -8.6 -430Z" fill="#ee9e90"/>
<path d="M-27.2 -409.7A410.6 410.6 0 0 0 -37.9 -408.8L-39.7 -428.3A430.1 430.1 0 0 1 -28.5 -429.2Z" fill="#eea092"/>
<path d="M-46 -408A410.6 410.6 0 0 0 -56.7 -406.6L-59.4 -426A430.1 430.1 0 0 1 -48.2 -427.4Z" fill="#efa295"/>
<path d="M-64.8 -405.4A410.6 410.6 0 0 0 -75.4 -403.6L-79 -422.8A430.1 430.1 0 0 1 -67.9 -424.7Z" fill="#efa597"/>
<path d="M-83.5 -402A410.6 410.6 0 0 0 -94 -399.6L-98.5 -418.7A430.1 430.1 0 0 1 -87.5 -421.1Z" fill="#efa79a"/>
<path d="M-102 -397.7A410.6 410.6 0 0 0 -112.4 -394.9L-117.7 -413.7A430.1 430.1 0 0 1 -106.8 -416.6Z" fill="#f0a99c"/>
<path d="M-120.2 -392.6A410.6 410.6 0 0 0 -130.5 -389.3L-136.7 -407.8A430.1 430.1 0 0 1 -126 -411.2Z" fill="#f0ab9f"/>
<path d="M-138.2 -386.6A410.6 410.6 0 0 0 -148.3 -382.8L-155.4 -401.1A430.1 430.1 0 0 1 -144.8 -405Z" fill="#f1ada1"/>
<path d="M-155.9 -379.8A410.6 410.6 0 0 0 -165.8 -375.6L-173.7 -393.5A430.1 430.1 0 0 1 -163.4 -397.9Z" fill="#f1b0a3"/>
<path d="M-173.3 -372.2A410.6 410.6 0 0 0 -183 -367.5L-191.7 -385A430.1 430.1 0 0 1 -181.6 -389.9Z" fill="#f1b2a6"/>
<path d="M-190.3 -363.8A410.6 410.6 0 0 0 -199.8 -358.7L-209.3 -375.7A430.1 430.1 0 0 1 -199.4 -381.1Z" fill="#f2b4a8"/>
<path d="M-206.9 -354.6A410.6 410.6 0 0 0 -216.1 -349.1L-226.4 -365.7A430.1 430.1 0 0 1 -216.8 -371.5Z" fill="#f2b6ab"/>
<path d="M-223.1 -344.7A410.6 410.6 0 0 0 -232 -338.7L-243.1 -354.8A430.1 430.1 0 0 1 -233.7 -361.1Z" fill="#f2b9ad"/>
<path d="M-238.7 -334A410.6 410.6 0 0 0 -247.4 -327.6L-259.2 -343.2A430.1 430.1 0 0 1 -250.1 -349.9Z" fill="#f3bbaf"/>
<path d="M-253.9 -322.6A410.6 410.6 0 0 0 -262.3 -315.9L-274.8 -330.9A430.1 430.1 0 0 1 -266 -338Z" fill="#f3bdb2"/>
<path d="M-268.5 -310.5A410.6 410.6 0 0 0 -276.6 -303.4L-289.8 -317.8A430.1 430.1 0 0 1 -281.3 -325.3Z" fill="#f4bfb4"/>
<path d="M-282.6 -297.8A410.6 410.6 0 0 0 -290.3 -290.3L-304.1 -304.1A430.1 430.1 0 0 1 -296.1 -312Z" fill="#f4c1b7"/>
<path d="M-296.1 -284.4A410.6 410.6 0 0 0 -303.4 -276.6L-317.8 -289.8A430.1 430.1 0 0 1 -310.1 -298Z" fill="#f4c4b9"/>
<path d="M-308.9 -270.5A410.6 410.6 0 0 0 -315.9 -262.3L-330.9 -274.8A430.1 430.1 0 0 1 -323.6 -283.3Z" fill="#f5c6bc"/>
<path d="M-321 -255.9A410.6 410.6 0 0 0 -327.6 -247.4L-343.2 -259.2A430.1 430.1 0 0 1 -336.3 -268.1Z" fill="#f5c8be"/>
<path d="M-332.5 -240.8A410.6 410.6 0 0 0 -338.7 -232L-354.8 -243.1A430.1 430.1 0 0 1 -348.3 -252.3Z" fill="#cfd9f4"/>
<path d="M-343.3 -225.2A410.6 410.6 0 0 0 -349.1 -216.1L-365.7 -226.4A430.1 430.1 0 0 1 -359.6 -235.9Z" fill="#cfd9f4"/>
<path d="M-353.3 -209.1A410.6 410.6 0 0 0 -358.7 -199.8L-375.7 -209.3A430.1 430.1 0 0 1 -370.1 -219.1Z" fill="#ced8f4"/>
<path d="M-362.6 -192.6A410.6 410.6 0 0 0 -367.5 -183L-385 -191.7A430.1 430.1 0 0 1 -379.9 -201.7Z" fill="#ced8f4"/>
<path d="M-371.1 -175.6A410.6 410.6 0 0 0 -375.6 -165.8L-393.5 -173.7A430.1 430.1 0 0 1 -388.8 -184Z" fill="#cdd7f4"/>
<path d="M-378.8 -158.3A410.6 410.6 0 0 0 -382.8 -148.3L-401.1 -155.4A430.1 430.1 0 0 1 -396.8 -165.8Z" fill="#ccd7f4"/>
<path d="M-385.7 -140.6A410.6 410.6 0 0 0 -389.3 -130.5L-407.8 -136.7A430.1 430.1 0 0 1 -404.1 -147.3Z" fill="#cbd6f3"/>
<path d="M-391.8 -122.7A410.6 410.6 0 0 0 -394.9 -112.4L-413.7 -117.7A430.1 430.1 0 0 1 -410.5 -128.5Z" fill="#cad5f3"/>
<path d="M-397 -104.4A410.6 410.6 0 0 0 -399.6 -94L-418.7 -98.5A430.1 430.1 0 0 1 -416 -109.4Z" fill="#c9d5f3"/>
<path d="M-401.4 -86A410.6 410.6 0 0 0 -403.6 -75.4L-422.8 -79A430.1 430.1 0 0 1 -420.6 -90.1Z" fill="#c8d4f3"/>
<path d="M-405 -67.4A410.6 410.6 0 0 0 -406.6 -56.7L-426 -59.4A430.1 430.1 0 0 1 -424.3 -70.6Z" fill="#c6d3f3"/>
<path d="M-407.7 -48.6A410.6 410.6 0 0 0 -408.8 -37.9L-428.3 -39.7A430.1 430.1 0 0 1 -427.1 -50.9Z" fill="#c5d2f3"/>
<path d="M-409.5 -29.7A410.6 410.6 0 0 0 -410.1 -19L-429.6 -19.9A430.1 430.1 0 0 1 -429 -31.1Z" fill="#c4d1f2"/>
<path d="M-410.4 -10.8A410.6 410.6 0 0 0 -410.6 0L-430.1 0A430.1 430.1 0 0 1 -430 -11.3Z" fill="#c2d0f2"/>
<path d="M-410.5 8.2A410.6 410.6 0 0 0 -410.1 19L-429.6 19.9A430.1 430.1 0 0 1 -430 8.6Z" fill="#c1cff2"/>
<path d="M-409.7 27.2A410.6 410.6 0 0 0 -408.8 37.9L-428.3 39.7A430.1 430.1 0 0 1 -429.2 28.5Z" fill="#bfcef2"/>
<path d="M-408 46A410.6 410.6 0 0 0 -406.6 56.7L-426 59.4A430.1 430.1 0 0 1 -427.4 48.2Z" fill="#bdccf2"/>
<path d="M-405.4 64.8A410.6 410.6 0 0 0 -403.6 75.4L-422.8 79A430.1 430.1 0 0 1 -424.7 67.9Z" fill="#bccbf1"/>
<path d="M-402 83.5A410.6 410.6 0 0 0 -399.6 94L-418.7 98.5A430.1 430.1 0 0 1 -421.1 87.5Z" fill="#bacaf1"/>
<path d="M-397.7 102A410.6 410.6 0 0 0 -394.9 112.4L-413.7 117.7A430.1 430.1 0 0 1 -416.6 106.8Z" fill="#b8c9f1"/>
<path d="M-392.6 120.2A410.6 410.6 0 0 0 -389.3 130.5L-407.8 136.7A430.1 430.1 0 0 1 -411.2 126Z" fill="#b6c8f1"/>
<path d="M-386.6 138.2A410.6 410.6 0 0 0 -382.8 148.3L-401.1 155.4A430.1 430.1 0 0 1 -405 144.8Z" fill="#b4c6f0"/>
<path d="M-379.8 155.9A410.6 410.6 0 0 0 -375.6 165.8L-393.5 173.7A430.1 430.1 0 0 1 -397.9 163.4Z" fill="#b2c5f0"/>
<path d="M-372.2 173.3A410.6 410.6 0 0 0 -367.5 183L-385 191.7A430.1 430.1 0 0 1 -389.9 181.6Z" fill="#b1c3f0"/>
<path d="M-363.8 190.3A410.6 410.6 0 0 0 -358.7 199.8L-375.7 209.3A430.1 430.1 0 0 1 -381.1 199.4Z" fill="#afc2f0"/>
<path d="M-354.6 206.9A410.6 410.6 0 0 0 -349.1 216.1L-365.7 226.4A430.1 430.1 0 0 1 -371.5 216.8Z" fill="#acc1ef"/>
<path d="M-344.7 223.1A410.6 410.6 0 0 0 -338.7 232L-354.8 243.1A430.1 430.1 0 0 1 -361.1 233.7Z" fill="#aabfef"/>
<path d="M-334 238.7A410.6 410.6 0 0 0 -327.6 247.4L-343.2 259.2A430.1 430.1 0 0 1 -349.9 250.1Z" fill="#a8beef"/>
<path d="M-322.6 253.9A410.6 410.6 0 0 0 -315.9 262.3L-330.9 274.8A430.1 430.1 0 0 1 -338 266Z" fill="#a6bcee"/>
<path d="M-310.5 268.5A410.6 410.6 0 0 0 -303.4 276.6L-317.8 289.8A430.1 430.1 0 0 1 -325.3 281.3Z" fill="#a4baee"/>
<path d="M-297.8 282.6A410.6 410.6 0 0 0 -290.3 290.3L-304.1 304.1A430.1 430.1 0 0 1 -312 296.1Z" fill="#a2b9ee"/>
<path d="M-284.4 296.1A410.6 410.6 0 0 0 -276.6 303.4L-289.8 317.8A430.1 430.1 0 0 1 -298 310.1Z" fill="#9fb7ee"/>
<path d="M-270.5 308.9A410.6 410.6 0 0 0 -262.3 315.9L-274.8 330.9A430.1 430.1 0 0 1 -283.3 323.6Z" fill="#9db6ed"/>
<path d="M-255.9 321A410.6 410.6 0 0 0 -247.4 327.6L-259.2 343.2A430.1 430.1 0 0 1 -268.1 336.3Z" fill="#9bb4ed"/>
<path d="M-240.8 332.5A410.6 410.6 0 0 0 -232 338.7L-243.1 354.8A430.1 430.1 0 0 1 -252.3 348.3Z" fill="#98b2ed"/>
<path d="M-225.2 343.3A410.6 410.6 0 0 0 -216.1 349.1L-226.4 365.7A430.1 430.1 0 0 1 -235.9 359.6Z" fill="#96b1ec"/>
<path d="M-209.1 353.3A410.6 410.6 0 0 0 -199.8 358.7L-209.3 375.7A430.1 430.1 0 0 1 -219.1 370.1Z" fill="#93afec"/>
<path d="M-192.6 362.6A410.6 410.6 0 0 0 -183 367.5L-191.7 385A430.1 430.1 0 0 1 -201.7 379.9Z" fill="#91adec"/>
<path d="M-175.6 371.1A410.6 410.6 0 0 0 -165.8 375.6L-173.7 393.5A430.1 430.1 0 0 1 -184 388.8Z" fill="#8eabeb"/>
<path d="M-158.3 378.8A410.6 410.6 0 0 0 -148.3 382.8L-155.4 401.1A430.1 430.1 0 0 1 -165.8 396.8Z" fill="#8ca9eb"/>
<path d="M-140.6 385.7A410.6 410.6 0 0 0 -130.5 389.3L-136.7 407.8A430.1 430.1 0 0 1 -147.3 404.1Z" fill="#89a8eb"/>
<path d="M-122.7 391.8A410.6 410.6 0 0 0 -112.4 394.9L-117.7 413.7A430.1 430.1 0 0 1 -128.5 410.5Z" fill="#86a6ea"/>
<path d="M-104.4 397A410.6 410.6 0 0 0 -94 399.6L-98.5 418.7A430.1 430.1 0 0 1 -109.4 416Z" fill="#84a4ea"/>
<path d="M-86 401.4A410.6 410.6 0 0 0 -75.4 403.6L-79 422.8A430.1 430.1 0 0 1 -90.1 420.6Z" fill="#81a2e9"/>
<path d="M-67.4 405A410.6 410.6 0 0 0 -56.7 406.6L-59.4 426A430.1 430.1 0 0 1 -70.6 424.3Z" fill="#7ea0e9"/>
<path d="M-48.6 407.7A410.6 410.6 0 0 0 -37.9 408.8L-39.7 428.3A430.1 430.1 0 0 1 -50.9 427.1Z" fill="#7c9ee9"/>
<path d="M-29.7 409.5A410.6 410.6 0 0 0 -19 410.1L-19.9 429.6A430.1 430.1 0 0 1 -31.1 429Z" fill="#799ce8"/>
<path d="M-10.8 410.4A410.6 410.6 0 0 0 0 410.6L0 430.1A430.1 430.1 0 0 1 -11.3 430Z" fill="#769ae8"/>
</g>
</g>
<g font-size="20.9" fill="#111" stroke="#111" stroke-width="0.25" text-anchor="middle">
<text transform="translate(591.6 1230.3) rotate(90)" y="7.4">COL14A1</text>
<text transform="translate(565.8 1231.5) rotate(87.31)" y="7.4">CACNA1D</text>
<text transform="translate(540 1233.8) rotate(84.63)" y="7.4">HCN1</text>
<text transform="translate(514.4 1237.2) rotate(81.94)" y="7.4">BRCA2</text>
<text transform="translate(489 1241.6) rotate(79.25)" y="7.4">STXBP6</text>
<text transform="translate(463.9 1247) rotate(76.57)" y="7.4">CNTRL</text>
<text transform="translate(439 1253.4) rotate(73.88)" y="7.4">DTL</text>
<text transform="translate(414.6 1260.8) rotate(71.19)" y="7.4">MYH6</text>
<text transform="translate(390.5 1269.2) rotate(68.51)" y="7.4">CDCA3</text>
<text transform="translate(366.9 1278.6) rotate(65.82)" y="7.4">PCLAF</text>
<text transform="translate(343.9 1288.9) rotate(63.13)" y="7.4">SGO1</text>
<text transform="translate(321.4 1300.1) rotate(60.45)" y="7.4">KITLG</text>
<text transform="translate(299.5 1312.2) rotate(57.76)" y="7.4">NEO1</text>
<text transform="translate(278.3 1325.2) rotate(55.07)" y="7.4">NOS1AP</text>
<text transform="translate(257.8 1339) rotate(52.39)" y="7.4">CDK1</text>
<text transform="translate(238 1353.7) rotate(49.7)" y="7.4">SLC6A2</text>
<text transform="translate(219.1 1369.1) rotate(47.01)" y="7.4">SYNE2</text>
<text transform="translate(200.9 1385.3) rotate(44.33)" y="7.4">ROBO1</text>
<text transform="translate(183.7 1402.1) rotate(41.64)" y="7.4">KIF23</text>
<text transform="translate(167.3 1419.7) rotate(38.96)" y="7.4">SEMA4D</text>
<text transform="translate(151.9 1437.9) rotate(36.27)" y="7.4">JPH2</text>
<text transform="translate(137.5 1456.7) rotate(33.58)" y="7.4">HSPB1</text>
<text transform="translate(124.1 1476.1) rotate(30.9)" y="7.4">ERO1A</text>
<text transform="translate(111.7 1496) rotate(28.21)" y="7.4">P4HA2</text>
<text transform="translate(100.4 1516.4) rotate(25.52)" y="7.4">KRT18</text>
<text transform="translate(90.2 1537.2) rotate(22.84)" y="7.4">P3H2</text>
<text transform="translate(81.1 1558.4) rotate(20.15)" y="7.4">TMSB4X</text>
<text transform="translate(73.1 1580) rotate(17.46)" y="7.4">GPX7</text>
<text transform="translate(66.3 1601.8) rotate(14.78)" y="7.4">CAVIN4</text>
<text transform="translate(60.6 1623.9) rotate(12.09)" y="7.4">KCNMB4</text>
<text transform="translate(56.1 1646.2) rotate(9.4)" y="7.4">ITGB1BP2</text>
<text transform="translate(52.8 1668.7) rotate(6.72)" y="7.4">SOX9</text>
<text transform="translate(50.6 1691.2) rotate(4.03)" y="7.4">KRT8</text>
<text transform="translate(49.7 1713.9) rotate(1.34)" y="7.4">SSPN</text>
<text transform="translate(50 1736.5) rotate(-1.34)" y="7.4">COL21A1</text>
<text transform="translate(51.4 1759.1) rotate(-4.03)" y="7.4">MYOM1</text>
<text transform="translate(54.1 1781.7) rotate(-6.72)" y="7.4">HOOK2</text>
<text transform="translate(57.9 1804.1) rotate(-9.4)" y="7.4">AQP1</text>
<text transform="translate(62.9 1826.3) rotate(-12.09)" y="7.4">LMOD2</text>
<text transform="translate(69.1 1848.3) rotate(-14.78)" y="7.4">CD36</text>
<text transform="translate(76.4 1870) rotate(-17.46)" y="7.4">CASQ1</text>
<text transform="translate(84.9 1891.4) rotate(-20.15)" y="7.4">XIRP2</text>
<text transform="translate(94.5 1912.5) rotate(-22.84)" y="7.4">SPON1</text>
<text transform="translate(105.2 1933.1) rotate(-25.52)" y="7.4">FHOD1</text>
<text transform="translate(117 1953.3) rotate(-28.21)" y="7.4">TNFRSF12A</text>
<text transform="translate(129.8 1972.9) rotate(-30.9)" y="7.4">NDRG1</text>
<text transform="translate(143.6 1992.1) rotate(-33.58)" y="7.4">KCNJ4</text>
<text transform="translate(158.5 2010.6) rotate(-36.27)" y="7.4">LMOD3</text>
<text transform="translate(174.3 2028.6) rotate(-38.96)" y="7.4">P4HA1</text>
<text transform="translate(191 2045.8) rotate(-41.64)" y="7.4">SYNPO2L</text>
<text transform="translate(208.7 2062.4) rotate(-44.33)" y="7.4">MYH7</text>
<text transform="translate(227.2 2078.3) rotate(-47.01)" y="7.4">CASQ2</text>
<text transform="translate(246.5 2093.4) rotate(-49.7)" y="7.4">KCNMB1</text>
<text transform="translate(266.6 2107.7) rotate(-52.39)" y="7.4">PDLIM3</text>
<text transform="translate(287.4 2121.1) rotate(-55.07)" y="7.4">SLC2A1</text>
<text transform="translate(308.9 2133.8) rotate(-57.76)" y="7.4">LRRC38</text>
<text transform="translate(331 2145.5) rotate(-60.45)" y="7.4">KCNC4</text>
<text transform="translate(353.8 2156.3) rotate(-63.13)" y="7.4">MELTF</text>
<text transform="translate(377.1 2166.2) rotate(-65.82)" y="7.4">RIPOR2</text>
<text transform="translate(400.9 2175.1) rotate(-68.51)" y="7.4">COLQ</text>
<text transform="translate(425.1 2183.1) rotate(-71.19)" y="7.4">CDH8</text>
<text transform="translate(449.8 2190.1) rotate(-73.88)" y="7.4">CSRP3</text>
<text transform="translate(474.7 2196.1) rotate(-76.57)" y="7.4">TCAP</text>
<text transform="translate(500 2201) rotate(-79.25)" y="7.4">NRAP</text>
<text transform="translate(525.5 2205) rotate(-81.94)" y="7.4">ACTA1</text>
<text transform="translate(551.2 2207.9) rotate(-84.63)" y="7.4">TNNI3</text>
<text transform="translate(577 2209.8) rotate(-87.31)" y="7.4">HK2</text>
<text transform="translate(602.9 2210.6) rotate(-90)" y="7.4">EGLN3</text>
</g>
<defs><linearGradient id="lfc" x1="0" x2="1" y1="0" y2="0"><stop offset="0" stop-color="#6e8eea"/><stop offset="0.35" stop-color="#b5c4f5"/><stop offset="0.63" stop-color="#fcfdff"/><stop offset="0.8" stop-color="#f7c9c0"/><stop offset="1" stop-color="#ee9d8d"/></linearGradient></defs>
<rect x="912" y="1236.5" width="164" height="31.5" fill="url(#lfc)"/>
<g fill="#222"><text x="993.3" y="1223" text-anchor="middle" font-size="18.4">logFC</text>
<text x="912" y="1303.8" text-anchor="middle" font-size="29.5">-3</text>
<text x="1075.3" y="1303.8" text-anchor="middle" font-size="29.5">2</text></g>
</svg></body></html>
